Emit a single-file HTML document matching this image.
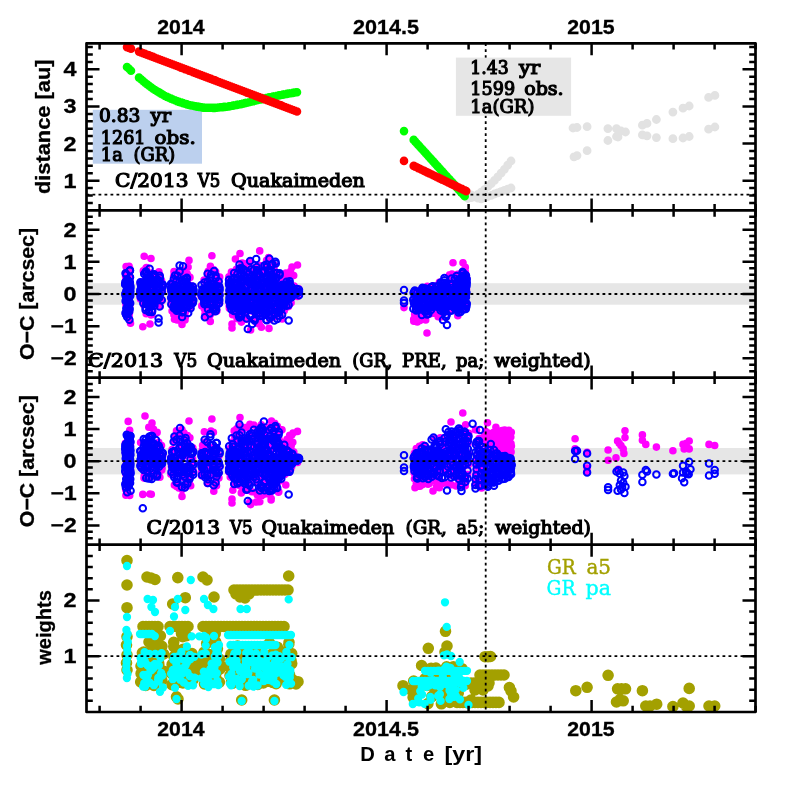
<!DOCTYPE html>
<html><head><meta charset="utf-8"><title>C/2013 V5 Quakaimeden</title>
<style>html,body{margin:0;padding:0;background:#fff}svg{display:block}</style></head>
<body>
<svg width="797" height="797" viewBox="0 0 797 797">
<rect x="0" y="0" width="797" height="797" fill="#fff"/>
<rect x="86.5" y="283.2" width="669.0" height="21.5" fill="#e6e6e6"/>
<rect x="86.5" y="448.0" width="669.0" height="26.4" fill="#e6e6e6"/>
<path d="M468 198.5h0M468 193h0M471.3 197.7h0M471.3 195h0M474.6 196.2h0M474.6 196.8h0M477.9 194.3h0M477.9 198.2h0M481.2 192.1h0M481.2 198.8h0M484.5 189.6h0M484.5 197.7h0M487.8 186.7h0M487.8 196.5h0M491.2 183.7h0M491.2 195.3h0M494.5 180.4h0M494.5 194h0M497.8 176.9h0M497.8 192.8h0M501.1 173.2h0M501.1 191.6h0M504.4 169.3h0M504.4 190.4h0M507.7 165.2h0M507.7 189.2h0M511 161h0M511 188h0M573 128h0M577 127.5h0M587.1 126.7h0M607.9 128.6h0M616.5 128.6h0M621 131h0M625.5 132h0M618 137h0M642.4 125.2h0M647 123.4h0M656.4 119.5h0M672.9 112.1h0M683 108.2h0M689.2 106h0M708.6 97.4h0M714.9 95.4h0M574 156.8h0M577 155.6h0M587.1 150.7h0M607.9 140.5h0M616.5 136.5h0M642.4 134.9h0M647 135.8h0M656.4 137.6h0M672.9 138.7h0M683 138h0M689.2 136.5h0M708.6 129.2h0M714.9 127h0" stroke="#e2e2e2" stroke-width="8.8" stroke-linecap="round" fill="none"/>
<path d="M86.5 194.7H755.5" stroke="#000" stroke-width="1.8" stroke-dasharray="2.8 3.2" fill="none"/>
<path d="M485.7 43.3V210.4" stroke="#000" stroke-width="1.8" stroke-dasharray="2.8 3.2" fill="none"/>
<rect x="455.9" y="57.6" width="115.2" height="58.2" fill="#e6e6e6"/>
<rect x="92.8" y="109.8" width="109.2" height="53.9" fill="#bcd0ee"/>
<path d="M127 67h0M129 68.8h0M131 70.7h0M139 77.6h0M141 79.3h0M143 81h0M145 82.7h0M147 84.3h0M149 85.8h0M151 87.3h0M153 88.7h0M155 90h0M157 91.2h0M159 92.4h0M161 93.6h0M163 94.8h0M165 96h0M167 96.9h0M169 97.7h0M171 98.6h0M173 99.5h0M175 100.3h0M177 101.2h0M179 101.9h0M181 102.5h0M183 103.1h0M185 103.8h0M187 104.4h0M189 105h0M191 105.5h0M193 105.8h0M195 106.2h0M197 106.6h0M199 106.9h0M201 107.3h0M203 107.6h0M205 107.7h0M207 107.7h0M209 107.8h0M211 107.8h0M213 107.9h0M215 107.9h0M217 107.7h0M219 107.5h0M221 107.3h0M223 107.1h0M225 106.9h0M227 106.7h0M229 106.4h0M231 106h0M233 105.6h0M235 105.3h0M237 104.9h0M239 104.5h0M241 104.1h0M243 103.6h0M245 103.1h0M247 102.7h0M249 102.2h0M251 101.7h0M253 101.3h0M255 100.8h0M257 100.3h0M259 99.8h0M261 99.4h0M263 98.9h0M265 98.4h0M267 97.9h0M269 97.4h0M271 97h0M273 96.6h0M275 96.2h0M277 95.8h0M279 95.4h0M281 95h0M283 94.6h0M285 94.2h0M287 93.9h0M289 93.5h0M291 93.2h0M293 92.9h0M295 92.5h0M297 92.2h0M404 131.1h0M413.7 139.9h0M415.2 141.6h0M416.7 143.2h0M418.2 144.9h0M419.7 146.5h0M421.2 148.2h0M422.7 149.8h0M424.2 151.5h0M425.7 153.1h0M427.2 154.8h0M428.7 156.5h0M430.2 158.1h0M431.7 159.8h0M433.2 161.4h0M434.7 163.1h0M436.2 164.7h0M437.7 166.4h0M439.2 168h0M440.7 169.7h0M442.2 171.3h0M443.7 173h0M445.2 174.7h0M446.7 176.3h0M448.2 178h0M449.7 179.6h0M451.2 181.3h0M452.7 182.9h0M454.2 184.6h0M455.7 186.2h0M457.2 187.9h0M458.7 189.6h0M460.2 191.2h0M461.7 192.9h0M463.2 194.5h0M464.7 196.2h0" stroke="#00ff00" stroke-width="8.6" stroke-linecap="round" fill="none"/>
<path d="M127 47.1h0M129 47.9h0M131 48.6h0M139 51.6h0M141 52.4h0M143 53.2h0M145 53.9h0M147 54.7h0M149 55.4h0M151 56.2h0M153 56.9h0M155 57.7h0M157 58.5h0M159 59.2h0M161 60h0M163 60.7h0M165 61.5h0M167 62.3h0M169 63h0M171 63.8h0M173 64.5h0M175 65.3h0M177 66h0M179 66.8h0M181 67.6h0M183 68.3h0M185 69.1h0M187 69.8h0M189 70.6h0M191 71.3h0M193 72.1h0M195 72.9h0M197 73.6h0M199 74.4h0M201 75.1h0M203 75.9h0M205 76.6h0M207 77.4h0M209 78.2h0M211 78.9h0M213 79.7h0M215 80.4h0M217 81.2h0M219 82h0M221 82.7h0M223 83.5h0M225 84.2h0M227 85h0M229 85.7h0M231 86.5h0M233 87.3h0M235 88h0M237 88.8h0M239 89.5h0M241 90.3h0M243 91h0M245 91.8h0M247 92.6h0M249 93.3h0M251 94.1h0M253 94.8h0M255 95.6h0M257 96.3h0M259 97.1h0M261 97.9h0M263 98.6h0M265 99.4h0M267 100.1h0M269 100.9h0M271 101.7h0M273 102.4h0M275 103.2h0M277 103.9h0M279 104.7h0M281 105.4h0M283 106.2h0M285 107h0M287 107.7h0M289 108.5h0M291 109.2h0M293 110h0M295 110.7h0M297 111.5h0M404 160.9h0M413.7 165.9h0M415.2 166.6h0M416.7 167.3h0M418.2 168.1h0M419.7 168.8h0M421.2 169.5h0M422.7 170.2h0M424.2 170.9h0M425.7 171.7h0M427.2 172.4h0M428.7 173.1h0M430.2 173.8h0M431.7 174.5h0M433.2 175.3h0M434.7 176h0M436.2 176.7h0M437.7 177.4h0M439.2 178.1h0M440.7 178.9h0M442.2 179.6h0M443.7 180.3h0M445.2 181h0M446.7 181.7h0M448.2 182.5h0M449.7 183.2h0M451.2 183.9h0M452.7 184.6h0M454.2 185.3h0M455.7 186.1h0M457.2 186.8h0M458.7 187.5h0M460.2 188.2h0M461.7 188.9h0M463.2 189.7h0M464.7 190.4h0M466.2 191.1h0" stroke="#ff0000" stroke-width="8.6" stroke-linecap="round" fill="none"/>
<path d="M126.7 295.8h0M126.1 266.5h0M126.7 298.2h0M126 299.3h0M125.9 304.3h0M126 303.3h0M125.7 313.8h0M125.9 277.7h0M126.5 296.3h0M126.4 280h0M126.7 271.8h0M125.6 276.4h0M126.3 284.6h0M128.6 273.4h0M128.5 297.1h0M128.5 307.5h0M127.5 269.7h0M127.1 296.7h0M127.8 292.8h0M128 280h0M127.4 302.6h0M127.7 269.2h0M128.4 301.7h0M127.5 307.2h0M127.9 302.2h0M127.7 274.2h0M129.6 271.7h0M129.5 312.5h0M129.1 266.3h0M129.6 306h0M130.4 277.6h0M129.2 278.5h0M129.8 268.5h0M129.6 306.1h0M129.2 314h0M129.1 267.5h0M129.1 316.6h0M129.3 293.3h0M130.5 323.2h0M140.2 282.8h0M141.4 281.7h0M140.6 298.5h0M141.4 290.8h0M141.3 296h0M140.4 293.5h0M140.8 296.9h0M140.2 296.9h0M140.9 295.6h0M140.5 299.1h0M143.7 304.7h0M143 293h0M143.3 270.8h0M143.8 296.3h0M144.3 286.8h0M143 296.4h0M143.2 286.9h0M146 302.1h0M146.4 275.7h0M145.6 290.1h0M147 291h0M146.5 267.6h0M146.2 270.7h0M145.5 294.3h0M146.2 313.7h0M146 268.1h0M148.1 294.4h0M148.9 297.2h0M148.2 304.2h0M148.9 301.8h0M148.3 295.1h0M148.5 304.3h0M149.2 294.5h0M149.5 275.4h0M149.5 293.2h0M151.7 281.6h0M151.1 301.9h0M151.7 285.1h0M151.9 304h0M151.1 314.9h0M151.8 314.7h0M152.2 294h0M151.1 273.1h0M154.6 304.5h0M154.6 274.8h0M154.5 296.7h0M154.4 302.2h0M153.4 306h0M153.6 274.3h0M153.9 297h0M153.4 283.9h0M156.3 289.9h0M156.9 290.3h0M157.2 288.7h0M156.5 289.1h0M159.7 293.6h0M159.8 275.3h0M159.5 274.3h0M158.9 271.9h0M159.2 285.6h0M160.1 298.2h0M160.2 306.2h0M161.6 280.7h0M161.9 300.6h0M161.6 288.8h0M162.5 291.3h0M171.3 301.1h0M172 295.4h0M171.3 304.7h0M172.1 310.9h0M171.4 291.1h0M172.1 288.9h0M172.2 285.5h0M171.8 300.3h0M171.8 295.6h0M172.2 297.2h0M172.1 302.1h0M174.2 287.7h0M174.9 299.5h0M173.9 314.8h0M173.6 276.5h0M174 275.1h0M175.1 280.6h0M174.4 288.4h0M174 271.6h0M174.7 285.3h0M173.5 294.6h0M174.5 319.3h0M177.6 301.3h0M177.1 319.9h0M177.2 316.9h0M176.6 286.3h0M177.4 309.2h0M177.5 280h0M176.4 293.9h0M176.8 274.8h0M177.2 300.7h0M176.8 290.8h0M179.8 297.1h0M179.4 285.3h0M180 284.5h0M179.3 319.2h0M180.1 273.1h0M179.2 306.3h0M180 320h0M182.5 276.2h0M181.8 293.2h0M181.6 298.1h0M182.9 282.2h0M182.7 296.2h0M182.4 307.9h0M181.5 301.9h0M185.4 317.1h0M184.4 313.4h0M184.1 300.7h0M185.4 311.8h0M185 315.9h0M185.5 270.3h0M185 287.8h0M184.1 286.3h0M185 319.9h0M187.7 290.2h0M187.2 273.7h0M188.1 267h0M186.9 292.3h0M187.8 275.3h0M187.7 283.4h0M187.6 275.1h0M190.8 292.3h0M190 277.4h0M190.1 293.6h0M190.6 299.1h0M189.3 298.6h0M189.9 300.2h0M189.9 304h0M190 307.1h0M192.1 286h0M193.1 290.9h0M192.6 287.3h0M192.3 295h0M192.9 299.4h0M192.1 297h0M193.1 291.2h0M202.7 293h0M201.7 295.5h0M201.9 292.7h0M201.8 305.9h0M201.2 296.3h0M204.4 308.9h0M204.9 314.2h0M205.6 316h0M204.9 286.8h0M204.8 293.3h0M204.1 280h0M205.1 315.8h0M207.3 291.5h0M208.2 271.3h0M208.4 281.2h0M207.5 309.8h0M207.4 282.9h0M207.6 273h0M208.4 304.8h0M210.7 297.7h0M210.8 289.4h0M210.4 266.3h0M210.1 315.1h0M210.2 287.5h0M210 287.6h0M210.3 321.4h0M213.8 306.4h0M214.1 286h0M213.5 280.1h0M213.7 304.1h0M212.7 279.7h0M213.8 311.7h0M213.8 269.8h0M213 299h0M215.9 309.4h0M215.6 271.7h0M215.9 281.2h0M216.6 301.8h0M216.8 310.9h0M216.3 277.4h0M215.8 302.1h0M219.7 277.1h0M219 296.7h0M218.7 295.2h0M219.5 286.9h0M219.6 302.7h0M219.7 293.3h0M219 296h0M219.1 289.9h0M218.6 280.8h0M229.7 303.2h0M230 299.5h0M229.5 284.8h0M229.2 306.1h0M230 290.8h0M229.7 299.3h0M229.8 300.3h0M229.6 292h0M229.4 308.3h0M229.4 293.6h0M229 279.7h0M230.3 299.3h0M228.9 276.8h0M232 309.3h0M231.4 272.1h0M232.3 308.8h0M232.9 286.2h0M232.3 303.1h0M232.6 314.7h0M232.7 303h0M232.6 275.6h0M234 272h0M234.5 276.8h0M234.2 289.1h0M234.5 296.9h0M234 298.1h0M234.1 282.2h0M234.9 295h0M234.1 289h0M234.7 297.4h0M234.8 307.5h0M233.9 305.8h0M237.4 280.9h0M237.1 318.6h0M236.4 269.2h0M236.8 275.9h0M237.4 272.4h0M237 280.8h0M236.3 313.4h0M237.5 296.8h0M237.1 304.4h0M237.7 311.1h0M237.2 283.6h0M239.6 297.2h0M239.6 301.9h0M239.5 270h0M239.4 296.1h0M239 294.9h0M238.9 314.8h0M239.4 295h0M241.5 287.5h0M242.8 300.9h0M242.3 263h0M242.3 284h0M242.2 311.8h0M241.4 322.1h0M242.3 267.1h0M241.4 270.9h0M242.3 278.8h0M241.9 263.5h0M245 295.1h0M245 308h0M244 299.8h0M244.9 312.1h0M243.8 263.6h0M244.6 297.8h0M244.2 306.7h0M244.6 291.5h0M244.3 269.3h0M245.2 316.6h0M244.1 303.5h0M244.5 276.7h0M244.9 283.2h0M246.8 281.3h0M247.5 270h0M246.3 319.2h0M246.7 275.9h0M247.5 303.6h0M247.7 294.8h0M247.2 302.2h0M249.3 280.1h0M249.5 277.9h0M249.1 267.3h0M250.1 309.6h0M249.1 306.3h0M249.1 310.5h0M249.8 261.9h0M251.9 300.4h0M251.8 302.3h0M252.2 286.2h0M252.7 297.4h0M252 311.1h0M251.7 288.9h0M251.8 302.4h0M255.1 298.6h0M254.4 292.2h0M254.6 284h0M253.7 300.4h0M254.9 269.7h0M254.5 306h0M254.1 303.3h0M254.9 269.2h0M254.7 289.3h0M255.1 282.3h0M255.1 279.6h0M254.6 299.8h0M255.2 321.4h0M253.7 296.1h0M257.3 309.8h0M256.6 308h0M257.5 268.7h0M257 278.5h0M257 267.5h0M256.6 290.5h0M256.9 294.8h0M257.5 323.3h0M257.5 312.7h0M256.9 274.8h0M259.7 250.9h0M259.6 300.4h0M258.8 305.4h0M259.3 324.3h0M259.8 265.6h0M258.6 320.4h0M260 274.7h0M258.7 283.4h0M259.6 292.8h0M261.9 301.5h0M261.4 327.3h0M262.6 288.7h0M262.6 308.6h0M262.2 310.1h0M262 312.2h0M262.1 280.5h0M264.9 304.3h0M264.1 305.5h0M264.9 268.4h0M264.5 301.9h0M264 292.7h0M264 271.5h0M264.5 308.1h0M267.4 283.4h0M266.8 261h0M267.3 314.3h0M266.2 282.1h0M266.1 301h0M266.3 293h0M266.2 304.9h0M267.2 284.4h0M266.6 260.3h0M266.6 304.3h0M266.8 266.7h0M267 285.2h0M270 310.9h0M269.2 311.1h0M270 279.6h0M269 315h0M269.4 297.8h0M268.9 311.9h0M268.8 273.1h0M269 328.4h0M268.8 266.1h0M268.9 307.6h0M268.6 257.6h0M269.1 287.8h0M269 301.5h0M269.9 319.6h0M272.2 266.5h0M272.1 313.7h0M272.3 277.3h0M271.9 270.9h0M271.7 304.6h0M272.1 290h0M272.4 278.9h0M271.7 275.4h0M272.5 274.9h0M270.9 270.2h0M272.5 280.1h0M272.5 293.8h0M274.6 317.1h0M273.9 311.8h0M273.5 291.6h0M274.5 265h0M274.3 290.7h0M274.1 269.2h0M274.6 282.8h0M276 294h0M277.1 276.7h0M276 283.5h0M276.6 290.9h0M277 306.9h0M275.9 275.3h0M279.4 303.9h0M279.3 274.2h0M279.5 287.8h0M279.3 283.9h0M279 299.2h0M279.3 287.1h0M278.5 274.7h0M278.7 286.7h0M278.7 299.9h0M278.6 291.5h0M282 298.5h0M282.1 303.1h0M281.6 298.3h0M281.8 291.5h0M282.2 319h0M281.8 309.3h0M281.2 301.3h0M280.9 284.9h0M281.9 279.8h0M281 301.6h0M283.8 300.9h0M283.6 300.8h0M283.4 284.9h0M283.3 275.5h0M284.2 310.8h0M284.8 293h0M285.8 281.9h0M286.4 304h0M287.1 305.7h0M287.1 294.3h0M287.1 293.8h0M286.2 293.1h0M287.2 284.8h0M286.2 275.9h0M286 307.1h0M288.4 296.3h0M288.5 297.8h0M288.3 301.4h0M288.8 300.6h0M289.4 297h0M289.2 297.9h0M288.7 298.4h0M288.9 285h0M289.1 289.8h0M289.2 279.3h0M288.5 306.6h0M289.1 290.6h0M288.5 294.2h0M289.5 304.2h0M291.3 287.2h0M291.9 291.9h0M291.1 302.8h0M291.2 297.6h0M291 296.8h0M290.8 298.8h0M291 292.2h0M293.5 289.3h0M296 291h0M298 292.1h0M413.8 321.3h0M414.7 314.2h0M414.4 294h0M414.5 295.7h0M413.7 319.4h0M416.4 317.8h0M417.3 321.9h0M416.4 294.5h0M416 307.9h0M417.3 303.7h0M417.3 296.9h0M417.1 305.5h0M416 291.4h0M419.6 290.6h0M418.9 309.3h0M420 305.2h0M418.8 319.2h0M419.7 299.8h0M418.8 311h0M419.9 301h0M419.4 299.3h0M420 320.6h0M422.3 318h0M422 311.7h0M421.6 290.5h0M421.9 318.6h0M422 306.9h0M422 309.6h0M422.7 290.5h0M422.4 302.5h0M421.7 309.7h0M424.4 314h0M425.7 306.3h0M424.9 287.7h0M425.1 311.1h0M425.7 291.4h0M425.7 320h0M428.3 294.3h0M428 305.3h0M428.1 294.1h0M427.6 288.9h0M427.6 301.1h0M427.1 292.1h0M427.9 294.7h0M427.3 286.4h0M428.5 294.4h0M429.8 299h0M430.2 289.9h0M429.7 296h0M431.1 306.4h0M431 313.6h0M430.1 292.3h0M429.7 296.2h0M433.3 313.2h0M433.8 289.5h0M433.8 305.8h0M432.9 287.3h0M433.2 285.7h0M432.7 301.1h0M435.7 303.7h0M436 292.7h0M436.1 288.9h0M435.7 294.4h0M435.1 287.6h0M438.2 316.8h0M438.5 310h0M439.4 282.2h0M439.2 304.4h0M437.9 301h0M438.8 310.6h0M440.8 293.3h0M440.9 317h0M441.8 306.2h0M440.7 311.6h0M441.4 284.4h0M441.3 306.8h0M441.4 313.8h0M440.9 293.6h0M444.2 283.3h0M444.8 299.3h0M444.7 290.7h0M443.4 309h0M444.6 300.4h0M443.7 285.6h0M444.4 305.3h0M447.1 304h0M446.7 297.7h0M446.3 301.3h0M447.5 287.8h0M447.4 311.7h0M447.1 285.7h0M446.6 296.2h0M449.6 274.9h0M450.3 283.9h0M449.6 303.4h0M449.9 289.7h0M448.8 291.5h0M450.1 289.2h0M451.8 298.5h0M451.7 288.9h0M452.3 276.5h0M452.4 285h0M451.7 280.3h0M451.9 274h0M453 309.5h0M452.7 293.6h0M452.7 304.4h0M455.1 288.9h0M454.6 290.9h0M455.7 292.4h0M455.2 278.2h0M454.4 283.7h0M454.5 307.6h0M454.6 301.5h0M457.4 292.9h0M457.2 279.1h0M457.3 290.8h0M457.9 293.2h0M457.8 315.7h0M458.2 297.1h0M457.9 292h0M457.4 293.2h0M457.6 306.2h0M458.5 297.5h0M461 277.9h0M460.4 285.3h0M460.1 304.8h0M460 299.1h0M460 281.9h0M460.8 302.2h0M460.8 286.2h0M460.2 293.6h0M463.7 299.8h0M463.3 297.5h0M463.7 297.2h0M462.7 273h0M464 308.9h0M463.4 277.7h0M466.7 278.6h0M465.3 267.4h0M466.1 282.8h0M466.4 283.3h0M466.5 289.5h0M465.8 285.4h0M465.6 293.5h0M465.5 305.6h0M465.9 297h0M465.7 307.8h0M457.6 302h0M457.1 282.8h0M457.7 274.3h0M457.5 280.6h0M456.2 279.9h0M457.4 290.6h0M460.5 286.2h0M460.7 275.6h0M460.7 283.8h0M460.3 279h0M462.9 273.8h0M462.9 271h0M463 290.1h0M463.5 292.7h0M463.7 290h0M462.9 299.2h0M466.1 285.9h0M466.2 286.5h0M465.3 271.8h0M465.7 290.9h0M466.3 283.7h0M465.5 273.4h0M144.2 256.2h0M151 258.5h0M189 260.4h0M211.9 255.7h0M240 253.5h0M235.4 259h0M297.5 265h0M292 267h0M142.8 326.7h0M150 324h0M182 324.5h0M232 324h0M232 328h0M250.6 330h0M404 307.6h0M427 333h0M453 262.8h0M463 262.8h0M292.3 290.1h0M288.4 283.4h0M297.4 296.5h0M285.9 273h0M284.8 281h0M284.4 281.5h0M293.7 275.5h0M294.1 286.1h0M284.4 285h0M287.9 280.1h0M288.3 289.6h0M290.6 271.3h0M292.2 292.5h0M288.6 273.5h0M289.8 297.8h0M298.6 288.9h0" stroke="#ff00ff" stroke-width="7.6" stroke-linecap="round" fill="none"/>
<g fill="none" stroke="#0000ff" stroke-width="2.0">
<circle cx="126.4" cy="283.2" r="3.25"/><circle cx="126.8" cy="293.9" r="3.25"/><circle cx="125.3" cy="294" r="3.25"/><circle cx="126.3" cy="300.9" r="3.25"/><circle cx="125.7" cy="295.9" r="3.25"/><circle cx="125.5" cy="273.2" r="3.25"/><circle cx="125.2" cy="284.4" r="3.25"/><circle cx="125.4" cy="281.9" r="3.25"/><circle cx="126.3" cy="308.2" r="3.25"/><circle cx="126" cy="295.1" r="3.25"/><circle cx="125.8" cy="292.9" r="3.25"/><circle cx="126.4" cy="290.5" r="3.25"/><circle cx="125.6" cy="301.1" r="3.25"/><circle cx="126.3" cy="296" r="3.25"/><circle cx="126.4" cy="274.4" r="3.25"/><circle cx="125.5" cy="312.7" r="3.25"/><circle cx="126.2" cy="298.1" r="3.25"/><circle cx="125.2" cy="283.9" r="3.25"/><circle cx="126" cy="313.8" r="3.25"/><circle cx="127.7" cy="287.4" r="3.25"/><circle cx="127.8" cy="285.3" r="3.25"/><circle cx="128.3" cy="297.8" r="3.25"/><circle cx="127.8" cy="292" r="3.25"/><circle cx="128.1" cy="287.8" r="3.25"/><circle cx="128.6" cy="307" r="3.25"/><circle cx="128.2" cy="307.3" r="3.25"/><circle cx="128" cy="280.4" r="3.25"/><circle cx="128.5" cy="292.4" r="3.25"/><circle cx="128.4" cy="302.5" r="3.25"/><circle cx="128.5" cy="299.8" r="3.25"/><circle cx="127.4" cy="283.4" r="3.25"/><circle cx="128.5" cy="286" r="3.25"/><circle cx="128.4" cy="310.2" r="3.25"/><circle cx="127.2" cy="279.2" r="3.25"/><circle cx="127.2" cy="300.7" r="3.25"/><circle cx="127.2" cy="317" r="3.25"/><circle cx="127.9" cy="305.7" r="3.25"/><circle cx="127.6" cy="296.3" r="3.25"/><circle cx="130.2" cy="287.9" r="3.25"/><circle cx="130" cy="285.7" r="3.25"/><circle cx="130.1" cy="295" r="3.25"/><circle cx="129.9" cy="270.4" r="3.25"/><circle cx="130.3" cy="287.9" r="3.25"/><circle cx="130.2" cy="303.3" r="3.25"/><circle cx="129.4" cy="319.7" r="3.25"/><circle cx="129.2" cy="311.5" r="3.25"/><circle cx="130.3" cy="285.7" r="3.25"/><circle cx="129.2" cy="301.5" r="3.25"/><circle cx="129.9" cy="293.4" r="3.25"/><circle cx="130" cy="277.3" r="3.25"/><circle cx="129.7" cy="308.9" r="3.25"/><circle cx="130.2" cy="296" r="3.25"/><circle cx="130.4" cy="291.2" r="3.25"/><circle cx="129.5" cy="281.8" r="3.25"/><circle cx="129.9" cy="282.5" r="3.25"/><circle cx="130" cy="270.6" r="3.25"/><circle cx="129.2" cy="282.8" r="3.25"/><circle cx="140.3" cy="290" r="3.25"/><circle cx="141.6" cy="297.5" r="3.25"/><circle cx="141.5" cy="283.6" r="3.25"/><circle cx="141.6" cy="292.1" r="3.25"/><circle cx="141" cy="284.2" r="3.25"/><circle cx="140.6" cy="293.4" r="3.25"/><circle cx="140.8" cy="291.3" r="3.25"/><circle cx="140.4" cy="282.2" r="3.25"/><circle cx="140.7" cy="297.1" r="3.25"/><circle cx="141" cy="285" r="3.25"/><circle cx="140.3" cy="292.9" r="3.25"/><circle cx="141.7" cy="287.7" r="3.25"/><circle cx="141.4" cy="284.1" r="3.25"/><circle cx="141.7" cy="289.9" r="3.25"/><circle cx="140.7" cy="295.2" r="3.25"/><circle cx="144.4" cy="283.4" r="3.25"/><circle cx="144.2" cy="273.9" r="3.25"/><circle cx="143.8" cy="283.4" r="3.25"/><circle cx="143.5" cy="283.8" r="3.25"/><circle cx="143.3" cy="303.3" r="3.25"/><circle cx="143.5" cy="288.8" r="3.25"/><circle cx="144.1" cy="295.9" r="3.25"/><circle cx="143.4" cy="293.8" r="3.25"/><circle cx="143.4" cy="286.8" r="3.25"/><circle cx="144.1" cy="291.2" r="3.25"/><circle cx="146.8" cy="302.5" r="3.25"/><circle cx="146.1" cy="303.9" r="3.25"/><circle cx="146.1" cy="297" r="3.25"/><circle cx="145.8" cy="297.6" r="3.25"/><circle cx="146.6" cy="289.7" r="3.25"/><circle cx="146" cy="271.4" r="3.25"/><circle cx="146.7" cy="275.7" r="3.25"/><circle cx="145.6" cy="296.1" r="3.25"/><circle cx="145.6" cy="307.8" r="3.25"/><circle cx="145.8" cy="280.5" r="3.25"/><circle cx="145.6" cy="309.9" r="3.25"/><circle cx="145.6" cy="272.4" r="3.25"/><circle cx="146.9" cy="300.6" r="3.25"/><circle cx="147" cy="281.1" r="3.25"/><circle cx="149" cy="300" r="3.25"/><circle cx="149.5" cy="307.2" r="3.25"/><circle cx="149" cy="311.8" r="3.25"/><circle cx="149.6" cy="268.8" r="3.25"/><circle cx="149.1" cy="284" r="3.25"/><circle cx="148.8" cy="297.9" r="3.25"/><circle cx="148.9" cy="310.9" r="3.25"/><circle cx="148.7" cy="298.4" r="3.25"/><circle cx="148.5" cy="281.1" r="3.25"/><circle cx="149.5" cy="304.5" r="3.25"/><circle cx="149.5" cy="278" r="3.25"/><circle cx="148.2" cy="294" r="3.25"/><circle cx="148.7" cy="296.9" r="3.25"/><circle cx="148.8" cy="300.5" r="3.25"/><circle cx="151.1" cy="283" r="3.25"/><circle cx="151.4" cy="304.2" r="3.25"/><circle cx="151.2" cy="286.4" r="3.25"/><circle cx="152.2" cy="310.4" r="3.25"/><circle cx="150.8" cy="278" r="3.25"/><circle cx="151.1" cy="290.1" r="3.25"/><circle cx="152" cy="312" r="3.25"/><circle cx="151.5" cy="299.9" r="3.25"/><circle cx="151.9" cy="289.8" r="3.25"/><circle cx="152" cy="299.1" r="3.25"/><circle cx="150.7" cy="289.8" r="3.25"/><circle cx="151.7" cy="293.2" r="3.25"/><circle cx="153.7" cy="275.6" r="3.25"/><circle cx="153.3" cy="303.3" r="3.25"/><circle cx="154.6" cy="294.6" r="3.25"/><circle cx="154.2" cy="274.3" r="3.25"/><circle cx="154.4" cy="305.7" r="3.25"/><circle cx="153.4" cy="288.2" r="3.25"/><circle cx="153.6" cy="277.1" r="3.25"/><circle cx="154.7" cy="298" r="3.25"/><circle cx="154" cy="294.3" r="3.25"/><circle cx="154.1" cy="301" r="3.25"/><circle cx="153.9" cy="285.2" r="3.25"/><circle cx="154" cy="303.4" r="3.25"/><circle cx="157.5" cy="298.8" r="3.25"/><circle cx="157.3" cy="297.9" r="3.25"/><circle cx="157.4" cy="281.5" r="3.25"/><circle cx="156.1" cy="284.5" r="3.25"/><circle cx="156.3" cy="288.8" r="3.25"/><circle cx="156.9" cy="294.3" r="3.25"/><circle cx="157.5" cy="279.4" r="3.25"/><circle cx="159" cy="281.6" r="3.25"/><circle cx="159.6" cy="287.8" r="3.25"/><circle cx="158.6" cy="288.3" r="3.25"/><circle cx="159.6" cy="306.5" r="3.25"/><circle cx="159.5" cy="295.1" r="3.25"/><circle cx="159.5" cy="281.6" r="3.25"/><circle cx="160" cy="277.8" r="3.25"/><circle cx="159.1" cy="297.9" r="3.25"/><circle cx="159.7" cy="275.8" r="3.25"/><circle cx="158.8" cy="293" r="3.25"/><circle cx="159.3" cy="286.5" r="3.25"/><circle cx="161.6" cy="291.9" r="3.25"/><circle cx="162.7" cy="284.5" r="3.25"/><circle cx="162.4" cy="287.2" r="3.25"/><circle cx="161.8" cy="300" r="3.25"/><circle cx="162.8" cy="284.9" r="3.25"/><circle cx="162.8" cy="285.4" r="3.25"/><circle cx="161.5" cy="291.4" r="3.25"/><circle cx="171.5" cy="290.2" r="3.25"/><circle cx="172.2" cy="291.1" r="3.25"/><circle cx="171" cy="288.4" r="3.25"/><circle cx="171.3" cy="304.2" r="3.25"/><circle cx="171.2" cy="287.4" r="3.25"/><circle cx="171.6" cy="298.1" r="3.25"/><circle cx="171.4" cy="297.6" r="3.25"/><circle cx="171.6" cy="291.2" r="3.25"/><circle cx="172.4" cy="296.3" r="3.25"/><circle cx="171.8" cy="291.6" r="3.25"/><circle cx="172.5" cy="294.4" r="3.25"/><circle cx="171.1" cy="283.8" r="3.25"/><circle cx="171.8" cy="298.1" r="3.25"/><circle cx="171.9" cy="297.1" r="3.25"/><circle cx="172.2" cy="284.2" r="3.25"/><circle cx="171.6" cy="288" r="3.25"/><circle cx="174.2" cy="293.6" r="3.25"/><circle cx="174" cy="287.8" r="3.25"/><circle cx="174.8" cy="306.9" r="3.25"/><circle cx="174.3" cy="296.5" r="3.25"/><circle cx="173.9" cy="305.5" r="3.25"/><circle cx="173.8" cy="286.4" r="3.25"/><circle cx="174.7" cy="306.4" r="3.25"/><circle cx="174.5" cy="291.7" r="3.25"/><circle cx="173.9" cy="308.3" r="3.25"/><circle cx="174.3" cy="288" r="3.25"/><circle cx="174.4" cy="297.2" r="3.25"/><circle cx="175.1" cy="275.6" r="3.25"/><circle cx="173.8" cy="279" r="3.25"/><circle cx="173.8" cy="292.6" r="3.25"/><circle cx="174.9" cy="300.6" r="3.25"/><circle cx="174" cy="296" r="3.25"/><circle cx="176.6" cy="310.7" r="3.25"/><circle cx="177" cy="288.9" r="3.25"/><circle cx="176.6" cy="304.8" r="3.25"/><circle cx="177.4" cy="293.6" r="3.25"/><circle cx="176.4" cy="304.9" r="3.25"/><circle cx="177" cy="298.1" r="3.25"/><circle cx="176.2" cy="285.5" r="3.25"/><circle cx="177.1" cy="289.4" r="3.25"/><circle cx="177.7" cy="302.2" r="3.25"/><circle cx="177.5" cy="310.3" r="3.25"/><circle cx="176.4" cy="280.9" r="3.25"/><circle cx="177.4" cy="275.7" r="3.25"/><circle cx="176.4" cy="299.8" r="3.25"/><circle cx="177" cy="309.5" r="3.25"/><circle cx="177.7" cy="294" r="3.25"/><circle cx="180.3" cy="302.9" r="3.25"/><circle cx="180.2" cy="291.8" r="3.25"/><circle cx="179.8" cy="290" r="3.25"/><circle cx="179.7" cy="301.8" r="3.25"/><circle cx="180.3" cy="297.1" r="3.25"/><circle cx="179.6" cy="271.6" r="3.25"/><circle cx="178.8" cy="294.6" r="3.25"/><circle cx="179.7" cy="308.8" r="3.25"/><circle cx="178.9" cy="309" r="3.25"/><circle cx="179" cy="300.1" r="3.25"/><circle cx="179" cy="304.1" r="3.25"/><circle cx="181.9" cy="307.9" r="3.25"/><circle cx="183" cy="266.3" r="3.25"/><circle cx="181.6" cy="297.9" r="3.25"/><circle cx="181.5" cy="302.4" r="3.25"/><circle cx="182.8" cy="283.2" r="3.25"/><circle cx="181.8" cy="280.8" r="3.25"/><circle cx="183" cy="283.6" r="3.25"/><circle cx="182.1" cy="317" r="3.25"/><circle cx="182.1" cy="312.3" r="3.25"/><circle cx="182.7" cy="311.9" r="3.25"/><circle cx="185.1" cy="293.6" r="3.25"/><circle cx="185.1" cy="300.4" r="3.25"/><circle cx="185.6" cy="305" r="3.25"/><circle cx="185.6" cy="296.8" r="3.25"/><circle cx="185.1" cy="279.7" r="3.25"/><circle cx="184.5" cy="290.3" r="3.25"/><circle cx="185" cy="285.9" r="3.25"/><circle cx="185.3" cy="300.1" r="3.25"/><circle cx="185.2" cy="281.9" r="3.25"/><circle cx="184.4" cy="292.2" r="3.25"/><circle cx="185.3" cy="298.2" r="3.25"/><circle cx="185.5" cy="302.3" r="3.25"/><circle cx="184.3" cy="279.3" r="3.25"/><circle cx="188.2" cy="298.7" r="3.25"/><circle cx="187" cy="283.7" r="3.25"/><circle cx="187.5" cy="288.8" r="3.25"/><circle cx="186.8" cy="278.8" r="3.25"/><circle cx="186.8" cy="307" r="3.25"/><circle cx="187.1" cy="289.4" r="3.25"/><circle cx="186.7" cy="302.4" r="3.25"/><circle cx="188.2" cy="313" r="3.25"/><circle cx="186.9" cy="277.7" r="3.25"/><circle cx="187.1" cy="291" r="3.25"/><circle cx="190.2" cy="289.1" r="3.25"/><circle cx="189.7" cy="297.9" r="3.25"/><circle cx="190.7" cy="291.9" r="3.25"/><circle cx="189.3" cy="301.7" r="3.25"/><circle cx="189.5" cy="300" r="3.25"/><circle cx="189.7" cy="305.5" r="3.25"/><circle cx="189.7" cy="291.5" r="3.25"/><circle cx="189.6" cy="287.4" r="3.25"/><circle cx="189.3" cy="297.8" r="3.25"/><circle cx="189.5" cy="298.9" r="3.25"/><circle cx="189.9" cy="286.6" r="3.25"/><circle cx="190.6" cy="308.2" r="3.25"/><circle cx="193.3" cy="292.8" r="3.25"/><circle cx="193.3" cy="289.9" r="3.25"/><circle cx="192.9" cy="301.9" r="3.25"/><circle cx="192" cy="291.5" r="3.25"/><circle cx="192.9" cy="286.7" r="3.25"/><circle cx="192.6" cy="303.3" r="3.25"/><circle cx="193.3" cy="300.3" r="3.25"/><circle cx="192.6" cy="293.3" r="3.25"/><circle cx="193.4" cy="290.2" r="3.25"/><circle cx="192.6" cy="286.7" r="3.25"/><circle cx="193" cy="292.2" r="3.25"/><circle cx="202.3" cy="291.4" r="3.25"/><circle cx="201.5" cy="285.1" r="3.25"/><circle cx="201.6" cy="293.9" r="3.25"/><circle cx="202.3" cy="297.1" r="3.25"/><circle cx="202.7" cy="294.5" r="3.25"/><circle cx="202.5" cy="289.2" r="3.25"/><circle cx="202.2" cy="295.4" r="3.25"/><circle cx="201.4" cy="294.8" r="3.25"/><circle cx="205.6" cy="300.2" r="3.25"/><circle cx="205.4" cy="291" r="3.25"/><circle cx="204.2" cy="300.7" r="3.25"/><circle cx="204.4" cy="282.5" r="3.25"/><circle cx="204.4" cy="302.8" r="3.25"/><circle cx="205" cy="290.3" r="3.25"/><circle cx="204.9" cy="317.3" r="3.25"/><circle cx="205.6" cy="292.1" r="3.25"/><circle cx="205" cy="297.6" r="3.25"/><circle cx="204.4" cy="304.3" r="3.25"/><circle cx="205.1" cy="288.5" r="3.25"/><circle cx="206.9" cy="291.3" r="3.25"/><circle cx="207.7" cy="281.4" r="3.25"/><circle cx="207.2" cy="293.7" r="3.25"/><circle cx="207" cy="304.1" r="3.25"/><circle cx="207.6" cy="273.7" r="3.25"/><circle cx="207.9" cy="287.4" r="3.25"/><circle cx="208.1" cy="285.1" r="3.25"/><circle cx="207.4" cy="298.8" r="3.25"/><circle cx="208" cy="309.3" r="3.25"/><circle cx="207.8" cy="298.7" r="3.25"/><circle cx="210.3" cy="301.5" r="3.25"/><circle cx="209.7" cy="313.6" r="3.25"/><circle cx="211.2" cy="298.3" r="3.25"/><circle cx="210.6" cy="277.6" r="3.25"/><circle cx="210" cy="288.3" r="3.25"/><circle cx="211" cy="296.2" r="3.25"/><circle cx="210.2" cy="290.4" r="3.25"/><circle cx="211.2" cy="284.6" r="3.25"/><circle cx="210.6" cy="304.8" r="3.25"/><circle cx="210.7" cy="291.2" r="3.25"/><circle cx="211.1" cy="274.5" r="3.25"/><circle cx="213.4" cy="309.7" r="3.25"/><circle cx="214.1" cy="299.4" r="3.25"/><circle cx="213.5" cy="292.1" r="3.25"/><circle cx="213" cy="284.4" r="3.25"/><circle cx="214.1" cy="270.9" r="3.25"/><circle cx="213" cy="297.6" r="3.25"/><circle cx="213.9" cy="287.7" r="3.25"/><circle cx="213" cy="286.5" r="3.25"/><circle cx="213.1" cy="308" r="3.25"/><circle cx="212.6" cy="287.5" r="3.25"/><circle cx="212.7" cy="289.7" r="3.25"/><circle cx="213" cy="298.1" r="3.25"/><circle cx="215.4" cy="294.8" r="3.25"/><circle cx="216.5" cy="304.2" r="3.25"/><circle cx="215.6" cy="275.4" r="3.25"/><circle cx="216" cy="299.1" r="3.25"/><circle cx="216.2" cy="309.6" r="3.25"/><circle cx="216.4" cy="286" r="3.25"/><circle cx="215.7" cy="278.1" r="3.25"/><circle cx="216.3" cy="297.2" r="3.25"/><circle cx="215.5" cy="291.4" r="3.25"/><circle cx="215.5" cy="311.3" r="3.25"/><circle cx="215.5" cy="307.5" r="3.25"/><circle cx="219.5" cy="289.4" r="3.25"/><circle cx="219.6" cy="295.3" r="3.25"/><circle cx="218.8" cy="287.5" r="3.25"/><circle cx="219.3" cy="290.5" r="3.25"/><circle cx="219" cy="303.5" r="3.25"/><circle cx="218.7" cy="294.3" r="3.25"/><circle cx="219.1" cy="287.5" r="3.25"/><circle cx="219.1" cy="286.4" r="3.25"/><circle cx="219.3" cy="299.9" r="3.25"/><circle cx="219.3" cy="287.7" r="3.25"/><circle cx="218.8" cy="297.1" r="3.25"/><circle cx="218.7" cy="281.5" r="3.25"/><circle cx="218.8" cy="299.8" r="3.25"/><circle cx="229" cy="283.3" r="3.25"/><circle cx="229.9" cy="286.5" r="3.25"/><circle cx="229.9" cy="290.3" r="3.25"/><circle cx="229.6" cy="294.4" r="3.25"/><circle cx="230.4" cy="302.9" r="3.25"/><circle cx="229.4" cy="298" r="3.25"/><circle cx="229" cy="279.7" r="3.25"/><circle cx="229.6" cy="290.1" r="3.25"/><circle cx="230.3" cy="305.7" r="3.25"/><circle cx="229.7" cy="290.7" r="3.25"/><circle cx="230.4" cy="293.4" r="3.25"/><circle cx="230.2" cy="301.4" r="3.25"/><circle cx="229.3" cy="301.4" r="3.25"/><circle cx="230.1" cy="292.6" r="3.25"/><circle cx="229.6" cy="301.5" r="3.25"/><circle cx="230.3" cy="292.3" r="3.25"/><circle cx="229.1" cy="284.5" r="3.25"/><circle cx="230.2" cy="293.3" r="3.25"/><circle cx="230" cy="287.8" r="3.25"/><circle cx="231.9" cy="279.7" r="3.25"/><circle cx="231.8" cy="298.1" r="3.25"/><circle cx="231.7" cy="301" r="3.25"/><circle cx="232.9" cy="304" r="3.25"/><circle cx="231.8" cy="292.4" r="3.25"/><circle cx="232.8" cy="305.4" r="3.25"/><circle cx="232.6" cy="297.3" r="3.25"/><circle cx="232.9" cy="305.8" r="3.25"/><circle cx="231.5" cy="309.5" r="3.25"/><circle cx="232.4" cy="294.7" r="3.25"/><circle cx="232.2" cy="286" r="3.25"/><circle cx="233" cy="292.4" r="3.25"/><circle cx="233.9" cy="293.4" r="3.25"/><circle cx="234.5" cy="288.7" r="3.25"/><circle cx="234.1" cy="273" r="3.25"/><circle cx="234.6" cy="301.1" r="3.25"/><circle cx="233.9" cy="311" r="3.25"/><circle cx="235" cy="288.5" r="3.25"/><circle cx="235.4" cy="303.7" r="3.25"/><circle cx="235.3" cy="295.6" r="3.25"/><circle cx="234.5" cy="290.4" r="3.25"/><circle cx="234.1" cy="283.6" r="3.25"/><circle cx="235.1" cy="291.7" r="3.25"/><circle cx="235.3" cy="289.7" r="3.25"/><circle cx="234.6" cy="292.4" r="3.25"/><circle cx="234.7" cy="290" r="3.25"/><circle cx="234" cy="277.9" r="3.25"/><circle cx="235.3" cy="310.6" r="3.25"/><circle cx="237.1" cy="284.2" r="3.25"/><circle cx="236.8" cy="289.5" r="3.25"/><circle cx="236.7" cy="308.1" r="3.25"/><circle cx="237.5" cy="282.9" r="3.25"/><circle cx="236.9" cy="287.3" r="3.25"/><circle cx="237.3" cy="294.8" r="3.25"/><circle cx="237.1" cy="301.1" r="3.25"/><circle cx="236.6" cy="302.4" r="3.25"/><circle cx="237.1" cy="294.8" r="3.25"/><circle cx="237.1" cy="279.6" r="3.25"/><circle cx="237.7" cy="294" r="3.25"/><circle cx="237.6" cy="289" r="3.25"/><circle cx="236.5" cy="306.7" r="3.25"/><circle cx="237.3" cy="289.5" r="3.25"/><circle cx="237.4" cy="273.9" r="3.25"/><circle cx="236.9" cy="289.7" r="3.25"/><circle cx="236.4" cy="304.3" r="3.25"/><circle cx="240.2" cy="302.3" r="3.25"/><circle cx="239.1" cy="305.4" r="3.25"/><circle cx="239.5" cy="317.6" r="3.25"/><circle cx="239.2" cy="304.8" r="3.25"/><circle cx="239" cy="297.3" r="3.25"/><circle cx="240.1" cy="290.9" r="3.25"/><circle cx="239.6" cy="268.5" r="3.25"/><circle cx="239.3" cy="314.8" r="3.25"/><circle cx="239.7" cy="296.7" r="3.25"/><circle cx="240" cy="286.6" r="3.25"/><circle cx="238.9" cy="315.8" r="3.25"/><circle cx="241.6" cy="308.2" r="3.25"/><circle cx="241.4" cy="287.9" r="3.25"/><circle cx="241.3" cy="315.9" r="3.25"/><circle cx="241.5" cy="269.9" r="3.25"/><circle cx="241.9" cy="279.2" r="3.25"/><circle cx="241.7" cy="307" r="3.25"/><circle cx="241.6" cy="314.1" r="3.25"/><circle cx="242.7" cy="298.4" r="3.25"/><circle cx="241.5" cy="301.9" r="3.25"/><circle cx="242.8" cy="289.3" r="3.25"/><circle cx="241.8" cy="268.3" r="3.25"/><circle cx="242.5" cy="282.8" r="3.25"/><circle cx="242" cy="290.1" r="3.25"/><circle cx="241.6" cy="293.8" r="3.25"/><circle cx="241.7" cy="274.8" r="3.25"/><circle cx="244.9" cy="292.7" r="3.25"/><circle cx="243.9" cy="269.8" r="3.25"/><circle cx="244.4" cy="278" r="3.25"/><circle cx="244.6" cy="294.6" r="3.25"/><circle cx="244.4" cy="309.8" r="3.25"/><circle cx="245.1" cy="304.4" r="3.25"/><circle cx="244.6" cy="286" r="3.25"/><circle cx="244.4" cy="286.7" r="3.25"/><circle cx="244.8" cy="295.9" r="3.25"/><circle cx="243.8" cy="308.2" r="3.25"/><circle cx="243.8" cy="294.2" r="3.25"/><circle cx="245.2" cy="294.4" r="3.25"/><circle cx="243.8" cy="270.3" r="3.25"/><circle cx="244" cy="296.1" r="3.25"/><circle cx="244.5" cy="275.7" r="3.25"/><circle cx="244.2" cy="280.6" r="3.25"/><circle cx="244" cy="297.7" r="3.25"/><circle cx="244.4" cy="305.9" r="3.25"/><circle cx="245.1" cy="303" r="3.25"/><circle cx="246.2" cy="286.4" r="3.25"/><circle cx="246.8" cy="271.4" r="3.25"/><circle cx="246.4" cy="300.5" r="3.25"/><circle cx="246.9" cy="309" r="3.25"/><circle cx="246.8" cy="292.7" r="3.25"/><circle cx="246.6" cy="318.4" r="3.25"/><circle cx="247" cy="280.5" r="3.25"/><circle cx="247.6" cy="295.6" r="3.25"/><circle cx="247.4" cy="301.2" r="3.25"/><circle cx="246.3" cy="293.3" r="3.25"/><circle cx="246.9" cy="305.7" r="3.25"/><circle cx="249.2" cy="278.8" r="3.25"/><circle cx="249.8" cy="297.2" r="3.25"/><circle cx="250.1" cy="308.4" r="3.25"/><circle cx="248.7" cy="282.2" r="3.25"/><circle cx="250.2" cy="315.9" r="3.25"/><circle cx="250.1" cy="309.5" r="3.25"/><circle cx="249" cy="293.6" r="3.25"/><circle cx="249.3" cy="306.4" r="3.25"/><circle cx="249.9" cy="305.7" r="3.25"/><circle cx="250.1" cy="261.1" r="3.25"/><circle cx="252.6" cy="295.2" r="3.25"/><circle cx="251.7" cy="280.2" r="3.25"/><circle cx="251.5" cy="290.6" r="3.25"/><circle cx="251.3" cy="269.2" r="3.25"/><circle cx="252.2" cy="324" r="3.25"/><circle cx="251.4" cy="314.6" r="3.25"/><circle cx="252.7" cy="280.5" r="3.25"/><circle cx="251.4" cy="288.2" r="3.25"/><circle cx="251.2" cy="303.3" r="3.25"/><circle cx="251.8" cy="309.9" r="3.25"/><circle cx="251.9" cy="276.8" r="3.25"/><circle cx="254.3" cy="285.2" r="3.25"/><circle cx="254" cy="319.4" r="3.25"/><circle cx="254" cy="296.7" r="3.25"/><circle cx="254.8" cy="285.9" r="3.25"/><circle cx="254.2" cy="276.8" r="3.25"/><circle cx="254.1" cy="307.7" r="3.25"/><circle cx="254.7" cy="318.8" r="3.25"/><circle cx="254.6" cy="284.1" r="3.25"/><circle cx="253.7" cy="281.5" r="3.25"/><circle cx="253.7" cy="278.8" r="3.25"/><circle cx="255.2" cy="311.3" r="3.25"/><circle cx="254.7" cy="320.4" r="3.25"/><circle cx="254.6" cy="293.6" r="3.25"/><circle cx="253.9" cy="270.1" r="3.25"/><circle cx="254.2" cy="291.4" r="3.25"/><circle cx="254.6" cy="309.9" r="3.25"/><circle cx="254.9" cy="284.5" r="3.25"/><circle cx="254.5" cy="304.8" r="3.25"/><circle cx="254.6" cy="288.8" r="3.25"/><circle cx="254.9" cy="296.8" r="3.25"/><circle cx="256.2" cy="258.9" r="3.25"/><circle cx="257.6" cy="291.1" r="3.25"/><circle cx="257.5" cy="276.2" r="3.25"/><circle cx="257.2" cy="293.6" r="3.25"/><circle cx="256.3" cy="303" r="3.25"/><circle cx="256.6" cy="302.4" r="3.25"/><circle cx="257.5" cy="273.4" r="3.25"/><circle cx="257" cy="270.2" r="3.25"/><circle cx="257" cy="270.8" r="3.25"/><circle cx="256.5" cy="267" r="3.25"/><circle cx="257.2" cy="281.9" r="3.25"/><circle cx="257.3" cy="289.6" r="3.25"/><circle cx="256.9" cy="297.1" r="3.25"/><circle cx="257.3" cy="299.6" r="3.25"/><circle cx="256.9" cy="285.8" r="3.25"/><circle cx="259" cy="290.4" r="3.25"/><circle cx="258.9" cy="301" r="3.25"/><circle cx="259.1" cy="305.8" r="3.25"/><circle cx="258.8" cy="281.2" r="3.25"/><circle cx="259.4" cy="287.5" r="3.25"/><circle cx="259.7" cy="294" r="3.25"/><circle cx="260.1" cy="316" r="3.25"/><circle cx="258.8" cy="309.2" r="3.25"/><circle cx="259.3" cy="313" r="3.25"/><circle cx="259.3" cy="274.2" r="3.25"/><circle cx="260" cy="297.2" r="3.25"/><circle cx="259.3" cy="304.4" r="3.25"/><circle cx="258.7" cy="289.6" r="3.25"/><circle cx="262" cy="271.4" r="3.25"/><circle cx="262.5" cy="280.4" r="3.25"/><circle cx="262.1" cy="295.7" r="3.25"/><circle cx="262.2" cy="299.9" r="3.25"/><circle cx="261.4" cy="289.1" r="3.25"/><circle cx="261.9" cy="272" r="3.25"/><circle cx="262.4" cy="304.4" r="3.25"/><circle cx="261.1" cy="282.9" r="3.25"/><circle cx="262.5" cy="315.7" r="3.25"/><circle cx="261.4" cy="309.4" r="3.25"/><circle cx="261.6" cy="308.1" r="3.25"/><circle cx="264.6" cy="283.2" r="3.25"/><circle cx="263.7" cy="302.2" r="3.25"/><circle cx="264.9" cy="302.8" r="3.25"/><circle cx="264.7" cy="303.9" r="3.25"/><circle cx="264.4" cy="287.1" r="3.25"/><circle cx="264.5" cy="315.1" r="3.25"/><circle cx="264.8" cy="314.2" r="3.25"/><circle cx="263.6" cy="272.4" r="3.25"/><circle cx="263.8" cy="292.2" r="3.25"/><circle cx="264.6" cy="307.5" r="3.25"/><circle cx="264" cy="297.2" r="3.25"/><circle cx="266.7" cy="299.5" r="3.25"/><circle cx="267.3" cy="303.7" r="3.25"/><circle cx="267.1" cy="293.4" r="3.25"/><circle cx="266.7" cy="320.2" r="3.25"/><circle cx="266.6" cy="286.6" r="3.25"/><circle cx="267" cy="277.8" r="3.25"/><circle cx="266.5" cy="296.7" r="3.25"/><circle cx="266.6" cy="264.4" r="3.25"/><circle cx="266.8" cy="295" r="3.25"/><circle cx="266.8" cy="295.6" r="3.25"/><circle cx="266.1" cy="277.6" r="3.25"/><circle cx="266.6" cy="267" r="3.25"/><circle cx="266.8" cy="283.6" r="3.25"/><circle cx="266.5" cy="310.2" r="3.25"/><circle cx="266.5" cy="288.9" r="3.25"/><circle cx="267.5" cy="277.4" r="3.25"/><circle cx="266.8" cy="312.4" r="3.25"/><circle cx="266.3" cy="319.7" r="3.25"/><circle cx="269.4" cy="282.2" r="3.25"/><circle cx="269.7" cy="301.9" r="3.25"/><circle cx="269.8" cy="272.5" r="3.25"/><circle cx="268.5" cy="298.8" r="3.25"/><circle cx="269.9" cy="317.8" r="3.25"/><circle cx="268.5" cy="296.1" r="3.25"/><circle cx="268.9" cy="314.4" r="3.25"/><circle cx="269.4" cy="279.2" r="3.25"/><circle cx="269.8" cy="272.7" r="3.25"/><circle cx="270" cy="279.2" r="3.25"/><circle cx="269.2" cy="310.7" r="3.25"/><circle cx="268.6" cy="301.7" r="3.25"/><circle cx="269.4" cy="299.2" r="3.25"/><circle cx="269.6" cy="286.8" r="3.25"/><circle cx="269.4" cy="258.8" r="3.25"/><circle cx="269.8" cy="271.6" r="3.25"/><circle cx="268.8" cy="275.3" r="3.25"/><circle cx="268.8" cy="311.4" r="3.25"/><circle cx="269.8" cy="310.9" r="3.25"/><circle cx="268.5" cy="284.6" r="3.25"/><circle cx="271.2" cy="308.3" r="3.25"/><circle cx="272.3" cy="295.6" r="3.25"/><circle cx="272.4" cy="294.1" r="3.25"/><circle cx="271.8" cy="264.7" r="3.25"/><circle cx="272.1" cy="279.2" r="3.25"/><circle cx="272.1" cy="303.6" r="3.25"/><circle cx="271.4" cy="287" r="3.25"/><circle cx="272.3" cy="264.1" r="3.25"/><circle cx="271" cy="310.8" r="3.25"/><circle cx="271.8" cy="282.3" r="3.25"/><circle cx="271.4" cy="302.8" r="3.25"/><circle cx="271.9" cy="285" r="3.25"/><circle cx="271.2" cy="270.5" r="3.25"/><circle cx="271.8" cy="274.7" r="3.25"/><circle cx="271.5" cy="289.1" r="3.25"/><circle cx="270.9" cy="281.9" r="3.25"/><circle cx="272.5" cy="302.8" r="3.25"/><circle cx="271.5" cy="315" r="3.25"/><circle cx="274.3" cy="288.5" r="3.25"/><circle cx="274.8" cy="313.1" r="3.25"/><circle cx="273.4" cy="292.9" r="3.25"/><circle cx="275" cy="301.6" r="3.25"/><circle cx="274.3" cy="320.6" r="3.25"/><circle cx="273.9" cy="291" r="3.25"/><circle cx="274.2" cy="292.1" r="3.25"/><circle cx="274.7" cy="282.9" r="3.25"/><circle cx="273.6" cy="277.9" r="3.25"/><circle cx="274.5" cy="288.2" r="3.25"/><circle cx="273.6" cy="281" r="3.25"/><circle cx="276.7" cy="286.9" r="3.25"/><circle cx="276.5" cy="272.9" r="3.25"/><circle cx="277" cy="308.7" r="3.25"/><circle cx="276.4" cy="306.1" r="3.25"/><circle cx="277.3" cy="319" r="3.25"/><circle cx="275.9" cy="278.2" r="3.25"/><circle cx="276.1" cy="277.9" r="3.25"/><circle cx="275.9" cy="307.1" r="3.25"/><circle cx="276.3" cy="278.1" r="3.25"/><circle cx="279.6" cy="273.3" r="3.25"/><circle cx="279" cy="301.7" r="3.25"/><circle cx="278.8" cy="300.5" r="3.25"/><circle cx="279.4" cy="315.7" r="3.25"/><circle cx="279.8" cy="293.4" r="3.25"/><circle cx="279.1" cy="293.2" r="3.25"/><circle cx="279" cy="312.6" r="3.25"/><circle cx="278.7" cy="311.3" r="3.25"/><circle cx="279.6" cy="274.9" r="3.25"/><circle cx="278.6" cy="289.2" r="3.25"/><circle cx="279.1" cy="289" r="3.25"/><circle cx="279.1" cy="296.3" r="3.25"/><circle cx="279.7" cy="305.2" r="3.25"/><circle cx="279.8" cy="308.1" r="3.25"/><circle cx="279.3" cy="287.1" r="3.25"/><circle cx="281.5" cy="291.6" r="3.25"/><circle cx="282.3" cy="285" r="3.25"/><circle cx="281.2" cy="305" r="3.25"/><circle cx="281.7" cy="290.8" r="3.25"/><circle cx="281.5" cy="300.2" r="3.25"/><circle cx="282.3" cy="287.4" r="3.25"/><circle cx="280.9" cy="299" r="3.25"/><circle cx="282.1" cy="314.8" r="3.25"/><circle cx="281.5" cy="290.1" r="3.25"/><circle cx="281.6" cy="284.9" r="3.25"/><circle cx="281.3" cy="309" r="3.25"/><circle cx="281.2" cy="297" r="3.25"/><circle cx="282.1" cy="302.9" r="3.25"/><circle cx="281.4" cy="299.8" r="3.25"/><circle cx="281.1" cy="298.7" r="3.25"/><circle cx="284.2" cy="292.2" r="3.25"/><circle cx="284.5" cy="293.4" r="3.25"/><circle cx="284.6" cy="290.3" r="3.25"/><circle cx="284.5" cy="293" r="3.25"/><circle cx="284.5" cy="285.3" r="3.25"/><circle cx="284.6" cy="303.4" r="3.25"/><circle cx="284.6" cy="299.1" r="3.25"/><circle cx="284" cy="304.8" r="3.25"/><circle cx="284.6" cy="290.4" r="3.25"/><circle cx="287" cy="294.2" r="3.25"/><circle cx="286.6" cy="281.7" r="3.25"/><circle cx="286.9" cy="294.1" r="3.25"/><circle cx="287.1" cy="289.4" r="3.25"/><circle cx="286.4" cy="305.8" r="3.25"/><circle cx="286.1" cy="300.8" r="3.25"/><circle cx="286.2" cy="294.3" r="3.25"/><circle cx="287.3" cy="285.2" r="3.25"/><circle cx="286.1" cy="287.4" r="3.25"/><circle cx="286.2" cy="284.5" r="3.25"/><circle cx="287.3" cy="293.2" r="3.25"/><circle cx="285.8" cy="290.3" r="3.25"/><circle cx="286" cy="292.9" r="3.25"/><circle cx="289" cy="287.1" r="3.25"/><circle cx="288.5" cy="288.6" r="3.25"/><circle cx="289.1" cy="296.6" r="3.25"/><circle cx="289.3" cy="291.5" r="3.25"/><circle cx="288.6" cy="304.9" r="3.25"/><circle cx="288.8" cy="295.9" r="3.25"/><circle cx="288.5" cy="292.1" r="3.25"/><circle cx="289.7" cy="281.3" r="3.25"/><circle cx="289.4" cy="297.5" r="3.25"/><circle cx="288.5" cy="295.1" r="3.25"/><circle cx="288.9" cy="296.2" r="3.25"/><circle cx="288.3" cy="294.7" r="3.25"/><circle cx="289.3" cy="298.3" r="3.25"/><circle cx="289.1" cy="284.6" r="3.25"/><circle cx="289.8" cy="295.8" r="3.25"/><circle cx="289.2" cy="292.5" r="3.25"/><circle cx="288.4" cy="287.7" r="3.25"/><circle cx="289.5" cy="283.5" r="3.25"/><circle cx="288.5" cy="291.1" r="3.25"/><circle cx="288.9" cy="291.9" r="3.25"/><circle cx="291.6" cy="287" r="3.25"/><circle cx="290.9" cy="291.4" r="3.25"/><circle cx="291.1" cy="297.5" r="3.25"/><circle cx="290.9" cy="288.5" r="3.25"/><circle cx="291.6" cy="295.6" r="3.25"/><circle cx="292.3" cy="293.2" r="3.25"/><circle cx="291" cy="291.6" r="3.25"/><circle cx="291.1" cy="294.9" r="3.25"/><circle cx="291.7" cy="296.8" r="3.25"/><circle cx="292" cy="292.2" r="3.25"/><circle cx="292" cy="290.8" r="3.25"/><circle cx="292" cy="295.9" r="3.25"/><circle cx="294.5" cy="294.2" r="3.25"/><circle cx="294.5" cy="293.8" r="3.25"/><circle cx="294.5" cy="291.4" r="3.25"/><circle cx="297" cy="292.4" r="3.25"/><circle cx="297" cy="293.3" r="3.25"/><circle cx="297" cy="288.9" r="3.25"/><circle cx="299" cy="295.2" r="3.25"/><circle cx="299" cy="292.1" r="3.25"/><circle cx="299" cy="289.7" r="3.25"/><circle cx="414.8" cy="290.6" r="3.25"/><circle cx="413.5" cy="299.7" r="3.25"/><circle cx="413.3" cy="299.6" r="3.25"/><circle cx="414.2" cy="291.9" r="3.25"/><circle cx="413.6" cy="292.7" r="3.25"/><circle cx="414.3" cy="303.9" r="3.25"/><circle cx="413.9" cy="302.5" r="3.25"/><circle cx="413.3" cy="308.8" r="3.25"/><circle cx="417.2" cy="302.7" r="3.25"/><circle cx="416.2" cy="310.6" r="3.25"/><circle cx="416" cy="302.9" r="3.25"/><circle cx="416" cy="309.4" r="3.25"/><circle cx="416.7" cy="296.9" r="3.25"/><circle cx="416.2" cy="303.1" r="3.25"/><circle cx="417.1" cy="307.6" r="3.25"/><circle cx="416.2" cy="300.1" r="3.25"/><circle cx="417.2" cy="292.2" r="3.25"/><circle cx="416.6" cy="302.6" r="3.25"/><circle cx="416" cy="303.6" r="3.25"/><circle cx="417.4" cy="303.6" r="3.25"/><circle cx="419" cy="296.7" r="3.25"/><circle cx="419.3" cy="296.4" r="3.25"/><circle cx="419.7" cy="298.3" r="3.25"/><circle cx="419.1" cy="296.2" r="3.25"/><circle cx="419.3" cy="300.7" r="3.25"/><circle cx="419.7" cy="309.4" r="3.25"/><circle cx="418.9" cy="298.4" r="3.25"/><circle cx="419.2" cy="308.8" r="3.25"/><circle cx="419.4" cy="296.8" r="3.25"/><circle cx="420" cy="305.9" r="3.25"/><circle cx="418.8" cy="297.3" r="3.25"/><circle cx="419.3" cy="307" r="3.25"/><circle cx="419.6" cy="301.9" r="3.25"/><circle cx="421.9" cy="315" r="3.25"/><circle cx="422.7" cy="295.1" r="3.25"/><circle cx="421.7" cy="292.7" r="3.25"/><circle cx="422.9" cy="292.7" r="3.25"/><circle cx="422.6" cy="302.6" r="3.25"/><circle cx="422.7" cy="290" r="3.25"/><circle cx="421.6" cy="304.5" r="3.25"/><circle cx="422.2" cy="308.5" r="3.25"/><circle cx="421.7" cy="299.2" r="3.25"/><circle cx="422.7" cy="292.5" r="3.25"/><circle cx="421.7" cy="304.4" r="3.25"/><circle cx="421.7" cy="308.1" r="3.25"/><circle cx="422.5" cy="287.7" r="3.25"/><circle cx="422.3" cy="288.7" r="3.25"/><circle cx="424.9" cy="311.4" r="3.25"/><circle cx="425.5" cy="297.4" r="3.25"/><circle cx="425.2" cy="308.6" r="3.25"/><circle cx="424.5" cy="308.5" r="3.25"/><circle cx="424.8" cy="288.8" r="3.25"/><circle cx="425.4" cy="298.1" r="3.25"/><circle cx="425.3" cy="303" r="3.25"/><circle cx="425.7" cy="310.7" r="3.25"/><circle cx="425.5" cy="288.4" r="3.25"/><circle cx="426.9" cy="305.9" r="3.25"/><circle cx="427.1" cy="299.3" r="3.25"/><circle cx="428.3" cy="314.1" r="3.25"/><circle cx="428.5" cy="291.3" r="3.25"/><circle cx="427.3" cy="300.6" r="3.25"/><circle cx="428.4" cy="306.9" r="3.25"/><circle cx="427.1" cy="314.4" r="3.25"/><circle cx="427.3" cy="290" r="3.25"/><circle cx="428.4" cy="305.3" r="3.25"/><circle cx="428.1" cy="304.8" r="3.25"/><circle cx="428.4" cy="306.2" r="3.25"/><circle cx="428.1" cy="300.7" r="3.25"/><circle cx="427.1" cy="311.6" r="3.25"/><circle cx="430.7" cy="290.2" r="3.25"/><circle cx="431.2" cy="287.2" r="3.25"/><circle cx="430.5" cy="301.2" r="3.25"/><circle cx="430" cy="300.6" r="3.25"/><circle cx="430.9" cy="292.7" r="3.25"/><circle cx="429.6" cy="307.5" r="3.25"/><circle cx="430.5" cy="290.1" r="3.25"/><circle cx="429.8" cy="299.8" r="3.25"/><circle cx="431" cy="309.9" r="3.25"/><circle cx="431.2" cy="306.2" r="3.25"/><circle cx="432.9" cy="296.3" r="3.25"/><circle cx="433.1" cy="295.2" r="3.25"/><circle cx="432.7" cy="291.5" r="3.25"/><circle cx="432.4" cy="307.1" r="3.25"/><circle cx="432.6" cy="286.2" r="3.25"/><circle cx="433.8" cy="304.8" r="3.25"/><circle cx="432.4" cy="294.3" r="3.25"/><circle cx="432.5" cy="307" r="3.25"/><circle cx="433.9" cy="293.2" r="3.25"/><circle cx="436.5" cy="286.6" r="3.25"/><circle cx="435.9" cy="293.3" r="3.25"/><circle cx="435.9" cy="298.5" r="3.25"/><circle cx="435.5" cy="306.3" r="3.25"/><circle cx="436.7" cy="301.4" r="3.25"/><circle cx="436" cy="305.1" r="3.25"/><circle cx="436.5" cy="301.9" r="3.25"/><circle cx="436.2" cy="287.1" r="3.25"/><circle cx="437.9" cy="305.9" r="3.25"/><circle cx="439.4" cy="288.8" r="3.25"/><circle cx="439" cy="303.5" r="3.25"/><circle cx="438.3" cy="291" r="3.25"/><circle cx="438.2" cy="305.2" r="3.25"/><circle cx="438" cy="307" r="3.25"/><circle cx="439" cy="299.1" r="3.25"/><circle cx="438.7" cy="300.7" r="3.25"/><circle cx="439.4" cy="297.1" r="3.25"/><circle cx="441.7" cy="287.3" r="3.25"/><circle cx="441.3" cy="298.9" r="3.25"/><circle cx="441.3" cy="289.4" r="3.25"/><circle cx="441.8" cy="308.6" r="3.25"/><circle cx="441.6" cy="306.9" r="3.25"/><circle cx="441.3" cy="286.2" r="3.25"/><circle cx="440.7" cy="310.6" r="3.25"/><circle cx="440.7" cy="282.6" r="3.25"/><circle cx="442" cy="291.9" r="3.25"/><circle cx="441.3" cy="300.3" r="3.25"/><circle cx="441.1" cy="295.9" r="3.25"/><circle cx="442" cy="283.4" r="3.25"/><circle cx="444.4" cy="280.2" r="3.25"/><circle cx="443.4" cy="288.3" r="3.25"/><circle cx="443.6" cy="310" r="3.25"/><circle cx="444.7" cy="307.1" r="3.25"/><circle cx="443.7" cy="312.2" r="3.25"/><circle cx="444.4" cy="278.1" r="3.25"/><circle cx="444.1" cy="287" r="3.25"/><circle cx="444.9" cy="304.3" r="3.25"/><circle cx="444.2" cy="282.8" r="3.25"/><circle cx="443.3" cy="292.9" r="3.25"/><circle cx="444.4" cy="291.6" r="3.25"/><circle cx="447" cy="300.6" r="3.25"/><circle cx="446.7" cy="314.8" r="3.25"/><circle cx="446.8" cy="290.2" r="3.25"/><circle cx="446.9" cy="285.5" r="3.25"/><circle cx="446.3" cy="289.8" r="3.25"/><circle cx="446.1" cy="314.8" r="3.25"/><circle cx="447.4" cy="302.2" r="3.25"/><circle cx="447.4" cy="291.4" r="3.25"/><circle cx="447.2" cy="304.6" r="3.25"/><circle cx="447.2" cy="298.1" r="3.25"/><circle cx="450" cy="293" r="3.25"/><circle cx="448.8" cy="305.9" r="3.25"/><circle cx="448.9" cy="297.7" r="3.25"/><circle cx="449.6" cy="290.9" r="3.25"/><circle cx="449.1" cy="302.7" r="3.25"/><circle cx="449.5" cy="301.3" r="3.25"/><circle cx="450.2" cy="284.1" r="3.25"/><circle cx="450.1" cy="300.3" r="3.25"/><circle cx="449.8" cy="311.1" r="3.25"/><circle cx="451.9" cy="303.5" r="3.25"/><circle cx="452.4" cy="291.7" r="3.25"/><circle cx="452.3" cy="305.9" r="3.25"/><circle cx="452.9" cy="299" r="3.25"/><circle cx="453" cy="294.3" r="3.25"/><circle cx="452.2" cy="302.8" r="3.25"/><circle cx="451.5" cy="278.6" r="3.25"/><circle cx="451.5" cy="284.9" r="3.25"/><circle cx="451.6" cy="288" r="3.25"/><circle cx="452.3" cy="302.8" r="3.25"/><circle cx="451.9" cy="297.9" r="3.25"/><circle cx="452.9" cy="293" r="3.25"/><circle cx="451.7" cy="310.6" r="3.25"/><circle cx="455.5" cy="292.2" r="3.25"/><circle cx="454.3" cy="306.7" r="3.25"/><circle cx="455.7" cy="288.3" r="3.25"/><circle cx="455.2" cy="307.3" r="3.25"/><circle cx="454.5" cy="307.9" r="3.25"/><circle cx="455.2" cy="298.2" r="3.25"/><circle cx="454.9" cy="278.8" r="3.25"/><circle cx="455.1" cy="288" r="3.25"/><circle cx="454.3" cy="307.7" r="3.25"/><circle cx="455" cy="297.2" r="3.25"/><circle cx="457.7" cy="309.8" r="3.25"/><circle cx="457.8" cy="301.8" r="3.25"/><circle cx="457.4" cy="303.5" r="3.25"/><circle cx="458.3" cy="280.2" r="3.25"/><circle cx="457.4" cy="287" r="3.25"/><circle cx="458.2" cy="310.1" r="3.25"/><circle cx="457.8" cy="291.2" r="3.25"/><circle cx="457.8" cy="282.7" r="3.25"/><circle cx="457.5" cy="282.1" r="3.25"/><circle cx="457.5" cy="308.7" r="3.25"/><circle cx="457.4" cy="307" r="3.25"/><circle cx="458.3" cy="287" r="3.25"/><circle cx="458.5" cy="312.5" r="3.25"/><circle cx="457.7" cy="297.8" r="3.25"/><circle cx="457.6" cy="309.4" r="3.25"/><circle cx="460.8" cy="279.7" r="3.25"/><circle cx="460.9" cy="302.6" r="3.25"/><circle cx="460.5" cy="278.7" r="3.25"/><circle cx="460.3" cy="281.2" r="3.25"/><circle cx="459.9" cy="304.4" r="3.25"/><circle cx="460.2" cy="305.7" r="3.25"/><circle cx="460" cy="303.2" r="3.25"/><circle cx="460.4" cy="305.1" r="3.25"/><circle cx="460.1" cy="302.1" r="3.25"/><circle cx="460.5" cy="312" r="3.25"/><circle cx="460.4" cy="279.3" r="3.25"/><circle cx="461" cy="298.2" r="3.25"/><circle cx="463.8" cy="287.1" r="3.25"/><circle cx="462.7" cy="292.1" r="3.25"/><circle cx="463.9" cy="285.6" r="3.25"/><circle cx="463.8" cy="309.3" r="3.25"/><circle cx="464" cy="298.3" r="3.25"/><circle cx="463.9" cy="300.7" r="3.25"/><circle cx="463.2" cy="301.4" r="3.25"/><circle cx="462.7" cy="281.8" r="3.25"/><circle cx="462.7" cy="309.3" r="3.25"/><circle cx="466" cy="287.6" r="3.25"/><circle cx="465.4" cy="284.4" r="3.25"/><circle cx="465.8" cy="309" r="3.25"/><circle cx="465.3" cy="274.9" r="3.25"/><circle cx="466.5" cy="303.8" r="3.25"/><circle cx="466.4" cy="306.5" r="3.25"/><circle cx="466" cy="305.8" r="3.25"/><circle cx="466" cy="297.2" r="3.25"/><circle cx="465.8" cy="292" r="3.25"/><circle cx="466.6" cy="285.6" r="3.25"/><circle cx="465.4" cy="288.1" r="3.25"/><circle cx="466.3" cy="282" r="3.25"/><circle cx="465.7" cy="284.5" r="3.25"/><circle cx="465.8" cy="295" r="3.25"/><circle cx="465.2" cy="292.1" r="3.25"/><circle cx="457.8" cy="286.1" r="3.25"/><circle cx="456.5" cy="283.5" r="3.25"/><circle cx="457.4" cy="303.7" r="3.25"/><circle cx="456.5" cy="288.1" r="3.25"/><circle cx="456.7" cy="285.7" r="3.25"/><circle cx="456.6" cy="276.1" r="3.25"/><circle cx="456.5" cy="300.4" r="3.25"/><circle cx="456.2" cy="304.7" r="3.25"/><circle cx="457.7" cy="294.4" r="3.25"/><circle cx="457.4" cy="292.4" r="3.25"/><circle cx="457" cy="297.4" r="3.25"/><circle cx="456.7" cy="285" r="3.25"/><circle cx="457.2" cy="291.4" r="3.25"/><circle cx="457" cy="293.2" r="3.25"/><circle cx="457.6" cy="286.3" r="3.25"/><circle cx="457.3" cy="286.6" r="3.25"/><circle cx="460.3" cy="297.9" r="3.25"/><circle cx="460" cy="289.9" r="3.25"/><circle cx="460.5" cy="303.4" r="3.25"/><circle cx="460.4" cy="284.1" r="3.25"/><circle cx="459.4" cy="301.1" r="3.25"/><circle cx="459.7" cy="295.4" r="3.25"/><circle cx="460.2" cy="295.9" r="3.25"/><circle cx="459.3" cy="279.4" r="3.25"/><circle cx="460.5" cy="280.9" r="3.25"/><circle cx="459.6" cy="286.6" r="3.25"/><circle cx="460" cy="303.4" r="3.25"/><circle cx="460.4" cy="303.8" r="3.25"/><circle cx="462.6" cy="292.3" r="3.25"/><circle cx="462.5" cy="302.3" r="3.25"/><circle cx="462.2" cy="281.5" r="3.25"/><circle cx="463.7" cy="299.6" r="3.25"/><circle cx="463" cy="273" r="3.25"/><circle cx="463.2" cy="292.6" r="3.25"/><circle cx="462.8" cy="275.8" r="3.25"/><circle cx="463.6" cy="294.2" r="3.25"/><circle cx="463" cy="298.4" r="3.25"/><circle cx="463.5" cy="291.9" r="3.25"/><circle cx="463.5" cy="276.8" r="3.25"/><circle cx="463.6" cy="289.1" r="3.25"/><circle cx="462.6" cy="272.1" r="3.25"/><circle cx="462.6" cy="302" r="3.25"/><circle cx="462.4" cy="289.1" r="3.25"/><circle cx="465.6" cy="288.7" r="3.25"/><circle cx="465.9" cy="295.7" r="3.25"/><circle cx="466.7" cy="279.1" r="3.25"/><circle cx="465.6" cy="283.6" r="3.25"/><circle cx="466.2" cy="303.3" r="3.25"/><circle cx="465.7" cy="293" r="3.25"/><circle cx="465.7" cy="292.6" r="3.25"/><circle cx="465.7" cy="276.4" r="3.25"/><circle cx="466" cy="279.8" r="3.25"/><circle cx="466.7" cy="282.8" r="3.25"/><circle cx="465.7" cy="293.8" r="3.25"/><circle cx="466.5" cy="292.5" r="3.25"/><circle cx="465.6" cy="292" r="3.25"/><circle cx="466.6" cy="303.5" r="3.25"/><circle cx="466" cy="275.5" r="3.25"/><circle cx="465.7" cy="305" r="3.25"/><circle cx="465.2" cy="287.4" r="3.25"/><circle cx="179.6" cy="265.4" r="3.25"/><circle cx="239.5" cy="264.5" r="3.25"/><circle cx="275.4" cy="261.8" r="3.25"/><circle cx="275.8" cy="263.5" r="3.25"/><circle cx="264.4" cy="265.4" r="3.25"/><circle cx="288.7" cy="320.6" r="3.25"/><circle cx="247.8" cy="329" r="3.25"/><circle cx="158.6" cy="318.4" r="3.25"/><circle cx="158.6" cy="322.5" r="3.25"/><circle cx="127.6" cy="314.3" r="3.25"/><circle cx="126" cy="314.5" r="3.25"/><circle cx="404" cy="290" r="3.25"/><circle cx="404" cy="300.6" r="3.25"/><circle cx="404" cy="303" r="3.25"/><circle cx="447" cy="325" r="3.25"/><circle cx="443" cy="320" r="3.25"/><circle cx="446" cy="317" r="3.25"/>
</g>
<path d="M86.5 294.0H755.5" stroke="#000" stroke-width="1.8" stroke-dasharray="2.8 3.2" fill="none"/>
<path d="M485.7 210.4V377.6" stroke="#000" stroke-width="1.8" stroke-dasharray="2.8 3.2" fill="none"/>
<path d="M126.5 462.9h0M126.4 456.3h0M125.7 470.9h0M125.3 443.2h0M125.9 495.2h0M126.4 470.3h0M125.5 453h0M126.6 449.5h0M126.3 442.7h0M125.7 473.7h0M126.1 489.1h0M125.5 449.5h0M125.7 489.4h0M125.7 471.9h0M126.3 483.3h0M127.3 446.8h0M127.7 472.4h0M127.9 482.7h0M127.7 472.8h0M127.9 467h0M127.8 494h0M127.5 467.3h0M128.6 454.7h0M128 478.4h0M127.6 437.1h0M127.6 471.2h0M127.6 466.8h0M128.3 441.9h0M127.9 437.7h0M127.4 462.2h0M128.5 472.3h0M128 460.6h0M127.3 447.9h0M127.7 434.2h0M128.7 481.1h0M128.2 421.4h0M128.4 481.2h0M127.2 456.8h0M129.8 474.6h0M129.3 446.5h0M129.1 465.2h0M129.1 434.9h0M129.7 430.2h0M130 454.5h0M129.3 454.6h0M130 482.4h0M129.7 436.5h0M129.9 465.7h0M129.6 476.4h0M129 451.8h0M130.3 446.9h0M130.2 459.8h0M129.7 495.4h0M129 469.7h0M129.2 451.4h0M129.8 442.5h0M129.1 453.5h0M130.1 447.9h0M130.5 441.8h0M130.5 445h0M129.4 476.5h0M129.6 464.1h0M130.5 469.3h0M130.3 471.3h0M141.5 457.8h0M140.4 461.7h0M140.9 465.9h0M141.7 453.5h0M141.4 468h0M140.9 463.8h0M140.6 442.5h0M143.4 461.8h0M144.2 475.9h0M143.4 452.7h0M143.6 452.5h0M143.2 460.6h0M144.2 460.8h0M144 478.1h0M145.8 458.9h0M146.4 455.7h0M146.1 446.5h0M146.8 461.3h0M145.8 469.9h0M146.9 472.6h0M146.7 460.9h0M145.5 449.7h0M146.1 462h0M148.7 446.9h0M149.5 467h0M148.9 456.7h0M149.4 460.1h0M149.1 453.6h0M148.9 464.8h0M149.5 443.9h0M148.8 427.2h0M149.6 460.9h0M152.1 458.2h0M151.1 461h0M151.9 476.6h0M151.3 436.3h0M151.8 449.9h0M150.8 446.3h0M151.9 451.9h0M151.4 438.8h0M151.3 494.3h0M153.6 429.2h0M153.7 455.5h0M153.5 468.2h0M154.3 471.8h0M156.6 456.8h0M156.8 445.4h0M157.1 432.4h0M157.4 467.4h0M156.8 468.6h0M156.1 453.9h0M156.4 476.1h0M157.4 466.5h0M157 447.5h0M159.1 462.7h0M159.2 451.6h0M159.9 477.3h0M158.8 442.4h0M158.8 450.2h0M159.2 444.6h0M159.5 476.7h0M162.8 455.1h0M162.1 468.3h0M161.5 445.6h0M161.7 470.1h0M171.4 466h0M171.9 463h0M172.1 468.6h0M170.9 474.3h0M171.9 459.5h0M172.1 449.5h0M174.5 470h0M174 458h0M174.4 473.3h0M174.4 441.1h0M174.3 459.5h0M174.2 461.9h0M175.1 436.5h0M174.4 485.1h0M173.7 468.2h0M176.5 430.9h0M176.6 486.5h0M177.5 465.8h0M177.6 466.1h0M177 485.2h0M178.8 487.9h0M180.2 437.5h0M179.7 455.2h0M179.4 472.6h0M180 460.2h0M180.2 446h0M179.6 451.3h0M179 454h0M182.1 489.6h0M182.5 477.2h0M181.9 429.6h0M181.9 467.3h0M182.4 431.6h0M184.4 467.7h0M184.1 438.7h0M185.5 455.6h0M184.5 469.9h0M185.4 484.9h0M185 487.4h0M184.1 433h0M184.9 439.9h0M185 447.7h0M187.8 478.7h0M186.9 443.6h0M188.2 449.7h0M187.6 471.3h0M187.5 468.3h0M186.8 468.3h0M187.5 435.5h0M189.5 470.3h0M189.6 484h0M189.9 437.7h0M189.3 474.6h0M190.7 485.7h0M189.7 447.6h0M189.7 468.3h0M192.6 458.7h0M192.8 447.9h0M193.2 470.3h0M192.4 462.6h0M192.5 458.7h0M202.3 450.3h0M202.6 445.4h0M201.4 463.5h0M201.8 453.3h0M202.3 457.8h0M202.1 473.3h0M201.4 472.2h0M201.9 454.3h0M201.5 475.7h0M202.5 466h0M204.1 446.9h0M204.3 444.4h0M205 467.8h0M205.1 442.1h0M204.5 457.2h0M204.3 431.8h0M205.3 466.2h0M206.9 451.8h0M207.1 467.4h0M208.1 471.5h0M207.6 483.4h0M207.4 474.4h0M208.1 476.8h0M207.7 464.6h0M210 449.5h0M210.7 470.8h0M211 431.1h0M211.1 472.4h0M213.3 458.8h0M213.1 447.5h0M213.4 432.2h0M213.1 454.6h0M213.1 469.5h0M213.5 461h0M213.8 491.2h0M213.8 462.1h0M213.5 450.6h0M216.6 477.7h0M216.3 456.1h0M216.5 485.8h0M216.9 468.4h0M216.2 471h0M215.5 484.8h0M216.5 459.1h0M216 451.6h0M215.9 477.8h0M219.6 466.8h0M219 455.7h0M218.9 477.9h0M218.5 462h0M229 468.4h0M229.6 449.2h0M229.9 462.9h0M229.4 458.6h0M229.3 459.6h0M229 471.9h0M230.2 467.9h0M229.8 472.9h0M230.2 464.3h0M230.5 462.9h0M229.4 467.1h0M229.8 448.6h0M229.6 461.3h0M230.3 477.1h0M232.7 465.1h0M232.8 490.3h0M231.5 462.2h0M232.2 442h0M231.5 452.5h0M232.2 465.8h0M232.1 466.7h0M231.7 472h0M232 465.8h0M231.4 462.6h0M232.4 467.9h0M234.7 436.1h0M234.5 447.8h0M235.1 443.5h0M235.2 451.9h0M235.4 461.5h0M234.6 465.2h0M234.5 455.2h0M235.2 444.5h0M234.7 471.1h0M234.2 430.9h0M234.6 449.4h0M234.7 459.8h0M235 444.6h0M235 484.7h0M237.4 468.4h0M236.7 428.9h0M237.3 471.6h0M237.4 464.4h0M237 458.2h0M237.1 446.5h0M237.2 439.9h0M237.8 477.7h0M237.5 447.3h0M237.7 459.5h0M236.9 481h0M239.5 464.4h0M239.4 433.5h0M239.8 457.4h0M239.5 455h0M239.1 455.1h0M240 464.3h0M239.6 469.8h0M240.3 426.4h0M239.9 485.8h0M241.3 492.9h0M242.1 429.5h0M241.8 449.3h0M242 437.7h0M242.3 468.6h0M241.9 444.6h0M244.3 439.1h0M244.1 443.8h0M245 453.6h0M245 449.6h0M244.3 466.6h0M244.7 478.9h0M244.2 486.2h0M243.8 457.8h0M245.1 476.5h0M244.4 479.2h0M245.1 471.1h0M245.3 440.2h0M247.2 475.8h0M247.4 482.2h0M246.8 440.1h0M246.4 471.4h0M247.3 489.9h0M247.2 478.7h0M246.3 427.3h0M247.8 440.4h0M247.2 483.3h0M250 433.5h0M248.9 449.7h0M249 479h0M249.7 502.4h0M249.3 440.8h0M249.9 424.3h0M250 445.9h0M249 477.7h0M248.7 450.8h0M252.2 453.4h0M252.1 446.5h0M252 478.4h0M252.5 443.5h0M251.9 491.8h0M252.7 449.9h0M253.8 472.1h0M254.8 447.5h0M254.8 436.7h0M253.7 425h0M254.1 434h0M253.7 471.2h0M254.5 468.6h0M254.1 465.4h0M256.3 481.4h0M257.7 428.4h0M256.3 447.4h0M257.5 432h0M256.4 451.1h0M256.4 502h0M257.3 494.7h0M257.6 451.9h0M256.8 492.9h0M259.4 459.9h0M259.2 485.9h0M260.1 475.8h0M259.3 474.1h0M259.9 470.1h0M258.8 441.1h0M258.9 435.8h0M259.2 439.3h0M259.8 501.8h0M259.1 470.2h0M258.8 475.4h0M262.6 476.1h0M262 444.6h0M261.4 458.9h0M261.9 477.2h0M261.3 496.1h0M262 439.1h0M262.6 490.9h0M261.7 473.5h0M261.7 442.1h0M261.3 491.7h0M261.9 451.1h0M261.3 433.7h0M261.3 424.8h0M264.6 494.1h0M264.5 493.3h0M263.8 461.4h0M263.7 454.6h0M264.3 469.7h0M263.7 458.8h0M264.7 434h0M264 467.2h0M264.1 436.5h0M264.8 471.2h0M264.4 473.8h0M264.7 479.1h0M263.8 456.8h0M264 445.3h0M266.1 472.3h0M267 466.6h0M266.3 441.4h0M267.1 471.5h0M267 474.2h0M266.5 442.6h0M266.1 442h0M266.5 448.8h0M267.3 442.3h0M269.4 427.7h0M269.9 429h0M268.7 464.8h0M269.2 430.8h0M269.3 427.6h0M269.8 486.6h0M269.1 458.4h0M269.2 447h0M270 449.2h0M269.3 494.1h0M269.6 493.2h0M269.5 453.2h0M268.7 427.3h0M268.5 480.7h0M271.7 486.4h0M272.1 460.2h0M271.1 499.9h0M272 455.9h0M271.9 455.8h0M271.4 473.9h0M271.7 456.4h0M271.2 498.6h0M271.4 480.4h0M271.5 421h0M274.4 425.1h0M273.6 429.8h0M274.7 423.2h0M274.4 457h0M273.6 489h0M274.3 430.4h0M274.3 467.4h0M273.8 480.7h0M274 465.2h0M274.9 487.3h0M274.6 424.3h0M276.1 482h0M277.2 477.4h0M277.4 461.4h0M277.2 472h0M276.1 431.6h0M275.9 471.1h0M276 480.9h0M277.4 426.4h0M276.3 460.9h0M276.5 430h0M276.4 477h0M279.7 446.5h0M279.2 443.5h0M278.8 491.7h0M278.7 456h0M278.3 436.7h0M279.7 463.1h0M278.5 492.2h0M278.9 438.9h0M279.5 475h0M279.4 450.9h0M278.9 445h0M278.8 481.5h0M279.9 472.1h0M280.9 430.4h0M282 468.5h0M281.5 464.1h0M282 429.7h0M281.5 471.3h0M281.8 456.4h0M281.9 471.2h0M282.3 453.6h0M281.3 461.9h0M283.4 464.5h0M284.9 462.9h0M283.4 453.2h0M284.7 474.4h0M283.5 468.1h0M283.8 464.6h0M283.7 442.2h0M287 466.9h0M287 451.9h0M285.8 485h0M286.1 460.5h0M286.5 457.1h0M287.2 472.7h0M286.7 446.7h0M289.2 452.6h0M289.5 463.7h0M289.2 472.2h0M289.6 446.5h0M289 467.4h0M289.1 452.8h0M289.5 456.4h0M289.2 460.8h0M289.6 441.1h0M290.8 468.9h0M291.5 466.2h0M292 456.5h0M291.4 451.7h0M291.4 451.1h0M291.9 457.9h0M291.1 449.1h0M291.7 466.6h0M291 456.5h0M293.5 458.1h0M296 459.3h0M298 457.2h0M414.2 473.1h0M413.9 467.6h0M414 470.9h0M414.4 455h0M414.4 453.3h0M414.5 478.8h0M417.1 476.7h0M416 468.9h0M416.7 483.4h0M416.3 448.5h0M416.6 470h0M417.4 461.6h0M416.3 483.8h0M417.6 477.7h0M417.3 451.9h0M419.8 471.5h0M420 486.3h0M419.2 481.3h0M419.4 483.1h0M419.2 486h0M419.4 446.3h0M419 458.9h0M419.1 449.9h0M420.4 470.1h0M419.3 448.5h0M422.7 449.1h0M422.7 444.9h0M422.6 446.5h0M421.9 483.8h0M422.3 484.7h0M422.1 479h0M423 466.7h0M422.5 449.5h0M422.8 468.2h0M423.1 463.3h0M425.7 451.4h0M425.3 446h0M425.6 453.3h0M424.9 481.7h0M425.1 457.9h0M425.1 476.3h0M428.4 459.6h0M427.7 478.7h0M427.6 463.5h0M428.2 480.8h0M427.7 456.7h0M428.6 468.3h0M427.7 483.3h0M428.1 455.8h0M428.1 484.3h0M429 483.8h0M430.6 465.8h0M430.9 465.1h0M431.5 463.3h0M431.2 462.5h0M431.8 471.5h0M434.1 472h0M434.5 468.5h0M434 473.2h0M434.7 438.8h0M433.3 458.5h0M433.5 453.2h0M434.4 481.3h0M433.7 468.6h0M433.3 452.9h0M436.4 440.3h0M437.2 464.2h0M437.3 459h0M436.9 468.8h0M436.4 462.5h0M436.5 485.7h0M437.2 473.1h0M436.7 453.6h0M440.1 485.1h0M440 454.3h0M440.2 437.9h0M438.9 463.4h0M439.9 480.6h0M440 485.5h0M439.3 487.7h0M439.8 469.1h0M438.9 475.7h0M441.8 465.1h0M443 445.4h0M441.9 451h0M443.1 467h0M442.4 471.2h0M442.7 483.4h0M445.7 444.2h0M445.6 461.8h0M446 454.1h0M445 462.9h0M445.8 471.4h0M444.9 445h0M448.8 455.7h0M447.9 446.6h0M447.4 471h0M447.9 441.6h0M448.1 466.7h0M448.5 484h0M448.3 438.8h0M451.5 456.8h0M450.6 475.3h0M451.5 465h0M451.3 484.7h0M451.1 467.4h0M451 462.7h0M450.5 452.9h0M453.4 438.8h0M453.8 469h0M453 460.1h0M453.3 456.9h0M453.5 444.5h0M453.1 434.2h0M453.1 444.6h0M453.2 474.8h0M454.3 445.7h0M456 452.9h0M456.3 455.3h0M456.6 470.3h0M456.6 452.1h0M456.1 486h0M457.3 467.9h0M456.8 450.2h0M459.9 456.1h0M460.2 464.7h0M459.8 428.6h0M459.7 485.6h0M459.1 481.3h0M459.5 480.7h0M459.7 474h0M462.3 478.3h0M462.6 439.8h0M461.6 469.4h0M461.8 454.9h0M462.2 459.7h0M462.5 474.8h0M461.8 449.6h0M462 441.1h0M462.4 471.2h0M462.6 467.9h0M465.8 454.1h0M465.2 453.3h0M465.4 458.7h0M465.6 460.8h0M464.8 451.8h0M465.7 451.4h0M465.7 436.4h0M465.2 485.7h0M465.4 480.2h0M465.6 424.8h0M467.9 443.4h0M468.5 462.7h0M467.8 454.8h0M468.3 453.6h0M468.1 464.9h0M468.7 433.4h0M467.7 433.2h0M467.7 474.6h0M476.1 473h0M476.2 442.5h0M476.3 481.3h0M475.5 429.7h0M476.4 465.4h0M476.5 430h0M475.3 484.2h0M476.6 443.2h0M476.6 460.3h0M478.9 485.8h0M478.5 458.3h0M479 463.9h0M478.5 472.2h0M478.7 468.8h0M479.7 459.8h0M479.1 438.6h0M479.2 468.9h0M478.8 452.7h0M481.6 488h0M481.8 469.6h0M481.5 475.3h0M481.3 480.2h0M481.9 458h0M481.3 459.9h0M481.8 457.1h0M481.1 457h0M481.8 470.4h0M481.4 480.3h0M484.5 434.8h0M485.1 444.3h0M484.6 453.1h0M485 454.9h0M485 439.1h0M484.8 442.1h0M484 456.3h0M484.9 454.2h0M485.5 431.4h0M487.1 446.8h0M487.5 444h0M487.7 452.3h0M488 440.9h0M488.2 452.4h0M488.4 446.3h0M487.2 454.6h0M487.8 441.1h0M487.4 432.7h0M487.7 434.6h0M487.3 438.5h0M488.1 449.1h0M490 458.6h0M490.9 435.8h0M489.9 448.8h0M490.5 451h0M490.7 453.6h0M490.1 455.5h0M491 450.2h0M490.2 441.7h0M490.8 440.3h0M490.2 441.1h0M491.2 443.3h0M490 451.6h0M494.3 444.9h0M494 447.2h0M494.2 439h0M493.7 447.7h0M493.7 446.1h0M493.3 456.8h0M492.9 443.8h0M492.9 444.3h0M494.3 442.3h0M493.3 453h0M493.3 432.5h0M493 435.6h0M496.6 433.7h0M495.9 427.3h0M495.9 439h0M496.7 439.8h0M496.4 446.5h0M496.2 432.7h0M495.9 450.1h0M495.9 444.3h0M496.3 454.5h0M499.7 436.4h0M499.7 435.2h0M499 439.6h0M500.1 452.1h0M499.1 444.5h0M499.6 457.4h0M498.6 455.1h0M498.8 452.3h0M498.8 447.8h0M503 442.5h0M501.6 437.8h0M502.6 446h0M502 448.4h0M502.6 453.7h0M502.4 435.8h0M501.5 454.4h0M502.4 444.2h0M502.1 430.6h0M502.9 444.9h0M502.1 450.8h0M502.5 440.1h0M502.9 447.4h0M504.9 441h0M504.6 447.4h0M505 443.2h0M505 454.4h0M505.6 442.3h0M505.3 450.2h0M505.7 454.5h0M505.6 436.8h0M505.1 438.1h0M505.3 456.1h0M505.9 441.3h0M504.7 430h0M504.6 444h0M507.8 432.6h0M508.9 430.3h0M508 433.4h0M507.9 449.6h0M507.6 433.1h0M507.3 433.6h0M508.2 440.3h0M507.3 448.4h0M508.6 443h0M508.3 446.9h0M510.5 448.2h0M511.4 446.1h0M511.1 445.2h0M510.7 450.6h0M510.5 436.9h0M510.8 446.1h0M510.8 437h0M511.1 451.9h0M510.2 454.3h0M511 443.6h0M511.3 432.3h0M510.4 447.1h0M145 416h0M152 423h0M189 421h0M211.9 419h0M240 417.6h0M297.5 431.4h0M293 433h0M142.8 494.4h0M150 494h0M182 496.4h0M232 499h0M232 503h0M250.6 504.6h0M462.8 413h0M451 422h0M487.5 422.8h0M415 487.8h0M433 491h0M575.1 438.7h0M575.1 448.9h0M577 450.7h0M587.1 452.3h0M587.1 468h0M587.1 471.5h0M608.1 450h0M608.1 460.2h0M616 457.9h0M617.6 441h0M619.2 443.2h0M621 445.5h0M623.2 448.9h0M623.9 453.4h0M625 430.8h0M625 437.6h0M618.3 469.2h0M642.4 434.9h0M642.4 440.3h0M645.8 444.4h0M656.4 447.1h0M672.9 450.7h0M683 444.4h0M686.5 443.2h0M689.2 441h0M689.2 448.9h0M684.2 448.9h0M709 444.4h0M714.7 445.5h0M297.5 462.4h0M289.7 435.3h0M293.8 452.1h0M289.4 440.1h0M290.1 448.9h0M288 442.5h0M290.9 463h0M292.8 442.2h0M288.2 448.4h0M287.1 439.2h0M291.7 435.1h0M291.3 445h0M294.6 458.9h0M294.4 456.8h0M289.6 456.1h0M289.1 452.6h0" stroke="#ff00ff" stroke-width="7.6" stroke-linecap="round" fill="none"/>
<g fill="none" stroke="#0000ff" stroke-width="2.0">
<circle cx="125.2" cy="449" r="3.25"/><circle cx="125.9" cy="487.5" r="3.25"/><circle cx="126" cy="455.5" r="3.25"/><circle cx="125.4" cy="452.5" r="3.25"/><circle cx="126.6" cy="454" r="3.25"/><circle cx="125.2" cy="471.1" r="3.25"/><circle cx="125.5" cy="467.5" r="3.25"/><circle cx="125.7" cy="483.6" r="3.25"/><circle cx="126.3" cy="448.2" r="3.25"/><circle cx="125.3" cy="466.5" r="3.25"/><circle cx="126.6" cy="447.6" r="3.25"/><circle cx="126.7" cy="434.7" r="3.25"/><circle cx="125.7" cy="445.1" r="3.25"/><circle cx="125.3" cy="484.4" r="3.25"/><circle cx="125.7" cy="472.5" r="3.25"/><circle cx="126.5" cy="457.5" r="3.25"/><circle cx="126.2" cy="479" r="3.25"/><circle cx="125.9" cy="443.9" r="3.25"/><circle cx="125.3" cy="446.5" r="3.25"/><circle cx="125.7" cy="458.5" r="3.25"/><circle cx="125.8" cy="444.6" r="3.25"/><circle cx="126.4" cy="459.7" r="3.25"/><circle cx="128.1" cy="451.8" r="3.25"/><circle cx="128" cy="481.3" r="3.25"/><circle cx="127.9" cy="469.1" r="3.25"/><circle cx="128.3" cy="461.3" r="3.25"/><circle cx="128.1" cy="458.4" r="3.25"/><circle cx="128.7" cy="486.3" r="3.25"/><circle cx="128.6" cy="437.9" r="3.25"/><circle cx="127.5" cy="436.3" r="3.25"/><circle cx="128.1" cy="450.5" r="3.25"/><circle cx="128" cy="449.7" r="3.25"/><circle cx="127.9" cy="480.8" r="3.25"/><circle cx="127.3" cy="466.4" r="3.25"/><circle cx="128" cy="462.8" r="3.25"/><circle cx="128.1" cy="475.6" r="3.25"/><circle cx="128.2" cy="442.4" r="3.25"/><circle cx="128.7" cy="485.2" r="3.25"/><circle cx="128.7" cy="477.1" r="3.25"/><circle cx="128.6" cy="485.3" r="3.25"/><circle cx="128.1" cy="451.3" r="3.25"/><circle cx="128.6" cy="474.8" r="3.25"/><circle cx="127.2" cy="492.2" r="3.25"/><circle cx="127.2" cy="454.8" r="3.25"/><circle cx="128.4" cy="478.6" r="3.25"/><circle cx="128.6" cy="445.5" r="3.25"/><circle cx="127.4" cy="451.8" r="3.25"/><circle cx="127.5" cy="458" r="3.25"/><circle cx="128.5" cy="472" r="3.25"/><circle cx="127.1" cy="484.6" r="3.25"/><circle cx="128" cy="437" r="3.25"/><circle cx="128.1" cy="445.2" r="3.25"/><circle cx="127.9" cy="472.5" r="3.25"/><circle cx="127.5" cy="465.8" r="3.25"/><circle cx="127.5" cy="459.9" r="3.25"/><circle cx="129.1" cy="452.9" r="3.25"/><circle cx="130.1" cy="482.9" r="3.25"/><circle cx="129" cy="472.8" r="3.25"/><circle cx="130.1" cy="459.2" r="3.25"/><circle cx="129.1" cy="452.1" r="3.25"/><circle cx="130.3" cy="466.4" r="3.25"/><circle cx="130.1" cy="473.1" r="3.25"/><circle cx="130.4" cy="471" r="3.25"/><circle cx="129.1" cy="446.7" r="3.25"/><circle cx="129.7" cy="470.3" r="3.25"/><circle cx="130.1" cy="436" r="3.25"/><circle cx="129" cy="440.5" r="3.25"/><circle cx="130.2" cy="446.9" r="3.25"/><circle cx="129.5" cy="454.1" r="3.25"/><circle cx="130.3" cy="479" r="3.25"/><circle cx="129.4" cy="482.8" r="3.25"/><circle cx="130" cy="455.7" r="3.25"/><circle cx="129.5" cy="448" r="3.25"/><circle cx="130.6" cy="490.7" r="3.25"/><circle cx="129.8" cy="439.3" r="3.25"/><circle cx="129.4" cy="455.8" r="3.25"/><circle cx="129.8" cy="481.8" r="3.25"/><circle cx="130.5" cy="435.9" r="3.25"/><circle cx="129.5" cy="437.4" r="3.25"/><circle cx="130.5" cy="463.8" r="3.25"/><circle cx="130.5" cy="441.9" r="3.25"/><circle cx="130" cy="455.9" r="3.25"/><circle cx="129.2" cy="470.9" r="3.25"/><circle cx="129.4" cy="462.6" r="3.25"/><circle cx="129.4" cy="458.4" r="3.25"/><circle cx="129.2" cy="457.6" r="3.25"/><circle cx="129.7" cy="457.2" r="3.25"/><circle cx="129.3" cy="459.6" r="3.25"/><circle cx="130.5" cy="450.4" r="3.25"/><circle cx="130.6" cy="473.4" r="3.25"/><circle cx="129.6" cy="459.2" r="3.25"/><circle cx="130.4" cy="454.3" r="3.25"/><circle cx="129.1" cy="439.9" r="3.25"/><circle cx="141.4" cy="463.2" r="3.25"/><circle cx="140.5" cy="451.1" r="3.25"/><circle cx="140.3" cy="451.3" r="3.25"/><circle cx="141.5" cy="467.7" r="3.25"/><circle cx="141.2" cy="458.9" r="3.25"/><circle cx="140.3" cy="465.8" r="3.25"/><circle cx="141.2" cy="466" r="3.25"/><circle cx="141.1" cy="455.2" r="3.25"/><circle cx="140.6" cy="459.5" r="3.25"/><circle cx="141.6" cy="458.6" r="3.25"/><circle cx="141" cy="459.1" r="3.25"/><circle cx="143.6" cy="469.9" r="3.25"/><circle cx="143.2" cy="452.6" r="3.25"/><circle cx="144.2" cy="461.9" r="3.25"/><circle cx="143.8" cy="461.1" r="3.25"/><circle cx="143.5" cy="455.4" r="3.25"/><circle cx="143.9" cy="446.4" r="3.25"/><circle cx="144.4" cy="443" r="3.25"/><circle cx="143.7" cy="439" r="3.25"/><circle cx="144.1" cy="456.3" r="3.25"/><circle cx="143.4" cy="448" r="3.25"/><circle cx="146.2" cy="478" r="3.25"/><circle cx="146.3" cy="443.9" r="3.25"/><circle cx="145.7" cy="439.7" r="3.25"/><circle cx="146.1" cy="447.8" r="3.25"/><circle cx="147" cy="467.8" r="3.25"/><circle cx="145.7" cy="456.1" r="3.25"/><circle cx="146.6" cy="445.9" r="3.25"/><circle cx="147" cy="470.6" r="3.25"/><circle cx="146.5" cy="466.4" r="3.25"/><circle cx="146.1" cy="453.8" r="3.25"/><circle cx="145.5" cy="466.6" r="3.25"/><circle cx="146.5" cy="445.6" r="3.25"/><circle cx="146.1" cy="465.9" r="3.25"/><circle cx="148.5" cy="442.5" r="3.25"/><circle cx="148.1" cy="460.7" r="3.25"/><circle cx="148.4" cy="441.4" r="3.25"/><circle cx="148.2" cy="452.4" r="3.25"/><circle cx="148.4" cy="444.2" r="3.25"/><circle cx="148.8" cy="458.8" r="3.25"/><circle cx="148.5" cy="478.6" r="3.25"/><circle cx="149.4" cy="478.1" r="3.25"/><circle cx="148.3" cy="448.9" r="3.25"/><circle cx="148.9" cy="439.5" r="3.25"/><circle cx="149" cy="465.8" r="3.25"/><circle cx="149.7" cy="449.4" r="3.25"/><circle cx="148.4" cy="458.1" r="3.25"/><circle cx="149.2" cy="436.8" r="3.25"/><circle cx="151.8" cy="451" r="3.25"/><circle cx="151.9" cy="454" r="3.25"/><circle cx="151.8" cy="463.6" r="3.25"/><circle cx="152" cy="466.3" r="3.25"/><circle cx="151.7" cy="478.9" r="3.25"/><circle cx="151" cy="443.1" r="3.25"/><circle cx="151.6" cy="450.7" r="3.25"/><circle cx="151.5" cy="461.8" r="3.25"/><circle cx="150.9" cy="436" r="3.25"/><circle cx="152.2" cy="470.4" r="3.25"/><circle cx="152.2" cy="436" r="3.25"/><circle cx="150.8" cy="450.6" r="3.25"/><circle cx="151.4" cy="448.2" r="3.25"/><circle cx="153.5" cy="443.3" r="3.25"/><circle cx="153.6" cy="473.9" r="3.25"/><circle cx="154.6" cy="445" r="3.25"/><circle cx="154" cy="454.4" r="3.25"/><circle cx="154.1" cy="462" r="3.25"/><circle cx="153.8" cy="459" r="3.25"/><circle cx="157.2" cy="465.8" r="3.25"/><circle cx="156.9" cy="476.5" r="3.25"/><circle cx="157.2" cy="474.3" r="3.25"/><circle cx="157.5" cy="446" r="3.25"/><circle cx="156.3" cy="464.5" r="3.25"/><circle cx="156.9" cy="446.7" r="3.25"/><circle cx="156.7" cy="454.5" r="3.25"/><circle cx="156.6" cy="451.4" r="3.25"/><circle cx="156" cy="440" r="3.25"/><circle cx="156.4" cy="461.5" r="3.25"/><circle cx="156" cy="458.4" r="3.25"/><circle cx="156.6" cy="455.7" r="3.25"/><circle cx="156.5" cy="474.9" r="3.25"/><circle cx="158.8" cy="445.7" r="3.25"/><circle cx="159" cy="466.7" r="3.25"/><circle cx="159.2" cy="458.8" r="3.25"/><circle cx="159.9" cy="462.5" r="3.25"/><circle cx="159.1" cy="463.7" r="3.25"/><circle cx="159.8" cy="463.8" r="3.25"/><circle cx="160.2" cy="464" r="3.25"/><circle cx="159.8" cy="453.3" r="3.25"/><circle cx="159" cy="460.1" r="3.25"/><circle cx="159.9" cy="448.7" r="3.25"/><circle cx="162.3" cy="453.5" r="3.25"/><circle cx="161.9" cy="456.6" r="3.25"/><circle cx="162.5" cy="461" r="3.25"/><circle cx="162" cy="463.8" r="3.25"/><circle cx="161.7" cy="456.3" r="3.25"/><circle cx="162.8" cy="453.1" r="3.25"/><circle cx="162" cy="461.6" r="3.25"/><circle cx="171.3" cy="462.6" r="3.25"/><circle cx="171.5" cy="472.1" r="3.25"/><circle cx="172.5" cy="462.9" r="3.25"/><circle cx="172.1" cy="452.1" r="3.25"/><circle cx="172.2" cy="466.7" r="3.25"/><circle cx="172.3" cy="458.9" r="3.25"/><circle cx="172.2" cy="461" r="3.25"/><circle cx="171.1" cy="457.7" r="3.25"/><circle cx="171.2" cy="459.9" r="3.25"/><circle cx="174.4" cy="436.6" r="3.25"/><circle cx="174.8" cy="451.7" r="3.25"/><circle cx="174.8" cy="458.4" r="3.25"/><circle cx="174.8" cy="458.2" r="3.25"/><circle cx="174.2" cy="451.4" r="3.25"/><circle cx="174.5" cy="465.8" r="3.25"/><circle cx="173.6" cy="465.8" r="3.25"/><circle cx="173.7" cy="462.4" r="3.25"/><circle cx="173.6" cy="474.4" r="3.25"/><circle cx="174" cy="451.3" r="3.25"/><circle cx="173.6" cy="441.7" r="3.25"/><circle cx="173.7" cy="469.3" r="3.25"/><circle cx="174.1" cy="468.5" r="3.25"/><circle cx="174.2" cy="477.3" r="3.25"/><circle cx="176.6" cy="482.3" r="3.25"/><circle cx="176.5" cy="464.7" r="3.25"/><circle cx="176.4" cy="439.7" r="3.25"/><circle cx="176.5" cy="463.2" r="3.25"/><circle cx="176.8" cy="478.9" r="3.25"/><circle cx="176.9" cy="467.1" r="3.25"/><circle cx="177.4" cy="476.4" r="3.25"/><circle cx="177.7" cy="482.7" r="3.25"/><circle cx="180.3" cy="459.8" r="3.25"/><circle cx="179.5" cy="435.5" r="3.25"/><circle cx="178.8" cy="469.9" r="3.25"/><circle cx="180.3" cy="439.4" r="3.25"/><circle cx="180.2" cy="457.9" r="3.25"/><circle cx="179.4" cy="447.8" r="3.25"/><circle cx="179.7" cy="447.6" r="3.25"/><circle cx="179.9" cy="471.2" r="3.25"/><circle cx="179.3" cy="467.3" r="3.25"/><circle cx="180.1" cy="458.4" r="3.25"/><circle cx="180.1" cy="459.5" r="3.25"/><circle cx="179.8" cy="459.8" r="3.25"/><circle cx="182.4" cy="452.1" r="3.25"/><circle cx="181.7" cy="472.3" r="3.25"/><circle cx="182.4" cy="455.7" r="3.25"/><circle cx="182.1" cy="467.5" r="3.25"/><circle cx="181.9" cy="487" r="3.25"/><circle cx="182.1" cy="467.3" r="3.25"/><circle cx="182.6" cy="474.8" r="3.25"/><circle cx="181.6" cy="446.4" r="3.25"/><circle cx="184.5" cy="440.2" r="3.25"/><circle cx="185.2" cy="452.5" r="3.25"/><circle cx="184.3" cy="450" r="3.25"/><circle cx="184.9" cy="487.6" r="3.25"/><circle cx="184.8" cy="444.1" r="3.25"/><circle cx="185.6" cy="438" r="3.25"/><circle cx="184.5" cy="471.9" r="3.25"/><circle cx="185.6" cy="449.6" r="3.25"/><circle cx="185" cy="464.2" r="3.25"/><circle cx="184.7" cy="467.5" r="3.25"/><circle cx="184.4" cy="452.7" r="3.25"/><circle cx="184.5" cy="476.7" r="3.25"/><circle cx="184.2" cy="452.3" r="3.25"/><circle cx="185.3" cy="484.5" r="3.25"/><circle cx="187.6" cy="447.2" r="3.25"/><circle cx="186.7" cy="449.4" r="3.25"/><circle cx="187.1" cy="449" r="3.25"/><circle cx="187.7" cy="468" r="3.25"/><circle cx="187.9" cy="450.7" r="3.25"/><circle cx="187.4" cy="483.8" r="3.25"/><circle cx="188.1" cy="466.5" r="3.25"/><circle cx="187.3" cy="473.2" r="3.25"/><circle cx="187.2" cy="466.7" r="3.25"/><circle cx="187.1" cy="443.1" r="3.25"/><circle cx="187" cy="448" r="3.25"/><circle cx="189.5" cy="479" r="3.25"/><circle cx="190.2" cy="446.7" r="3.25"/><circle cx="190.5" cy="448.5" r="3.25"/><circle cx="190.6" cy="453.7" r="3.25"/><circle cx="190.6" cy="459" r="3.25"/><circle cx="189.6" cy="470.7" r="3.25"/><circle cx="189.5" cy="468.1" r="3.25"/><circle cx="190.3" cy="476.7" r="3.25"/><circle cx="190.1" cy="467.7" r="3.25"/><circle cx="190.8" cy="447" r="3.25"/><circle cx="189.5" cy="449.3" r="3.25"/><circle cx="193.2" cy="474.8" r="3.25"/><circle cx="193.2" cy="465" r="3.25"/><circle cx="191.9" cy="453.8" r="3.25"/><circle cx="192.2" cy="463" r="3.25"/><circle cx="193" cy="472" r="3.25"/><circle cx="192.2" cy="462.9" r="3.25"/><circle cx="193.4" cy="451.7" r="3.25"/><circle cx="192.2" cy="452.7" r="3.25"/><circle cx="202.6" cy="467.1" r="3.25"/><circle cx="202.1" cy="467.4" r="3.25"/><circle cx="202.4" cy="456" r="3.25"/><circle cx="202.8" cy="463.2" r="3.25"/><circle cx="202" cy="456.7" r="3.25"/><circle cx="201.6" cy="455.9" r="3.25"/><circle cx="201.3" cy="463.1" r="3.25"/><circle cx="201.9" cy="453.5" r="3.25"/><circle cx="201.8" cy="466.8" r="3.25"/><circle cx="202.5" cy="462.3" r="3.25"/><circle cx="202" cy="475.1" r="3.25"/><circle cx="201.5" cy="464.4" r="3.25"/><circle cx="201.6" cy="455.2" r="3.25"/><circle cx="201.7" cy="466" r="3.25"/><circle cx="201.7" cy="453.3" r="3.25"/><circle cx="204.6" cy="474.4" r="3.25"/><circle cx="204.9" cy="463.1" r="3.25"/><circle cx="205.2" cy="462.2" r="3.25"/><circle cx="205.2" cy="462.3" r="3.25"/><circle cx="204.1" cy="457.5" r="3.25"/><circle cx="204.3" cy="469.5" r="3.25"/><circle cx="204.9" cy="452" r="3.25"/><circle cx="204.6" cy="439.7" r="3.25"/><circle cx="205.3" cy="458.6" r="3.25"/><circle cx="205.4" cy="477.4" r="3.25"/><circle cx="207.3" cy="475.3" r="3.25"/><circle cx="207.2" cy="442.1" r="3.25"/><circle cx="208.1" cy="462.2" r="3.25"/><circle cx="207.9" cy="461.2" r="3.25"/><circle cx="208.3" cy="467.8" r="3.25"/><circle cx="207.1" cy="452.8" r="3.25"/><circle cx="207.7" cy="482.9" r="3.25"/><circle cx="208" cy="479.3" r="3.25"/><circle cx="208.1" cy="453.5" r="3.25"/><circle cx="208.2" cy="453.6" r="3.25"/><circle cx="206.9" cy="453.9" r="3.25"/><circle cx="210.4" cy="459.7" r="3.25"/><circle cx="210.3" cy="459.1" r="3.25"/><circle cx="210.3" cy="436.8" r="3.25"/><circle cx="210.5" cy="434.2" r="3.25"/><circle cx="210.6" cy="475" r="3.25"/><circle cx="210.8" cy="445.3" r="3.25"/><circle cx="214.1" cy="451" r="3.25"/><circle cx="214" cy="467.6" r="3.25"/><circle cx="213.4" cy="466.4" r="3.25"/><circle cx="213.4" cy="450.4" r="3.25"/><circle cx="212.7" cy="469.5" r="3.25"/><circle cx="213" cy="445" r="3.25"/><circle cx="214.1" cy="460.8" r="3.25"/><circle cx="213.1" cy="453.6" r="3.25"/><circle cx="213" cy="457.1" r="3.25"/><circle cx="214" cy="466.6" r="3.25"/><circle cx="213.5" cy="456.8" r="3.25"/><circle cx="213.1" cy="456.5" r="3.25"/><circle cx="213.7" cy="470.1" r="3.25"/><circle cx="213.7" cy="485.3" r="3.25"/><circle cx="216.3" cy="450.5" r="3.25"/><circle cx="215.6" cy="482.5" r="3.25"/><circle cx="216.8" cy="443.1" r="3.25"/><circle cx="215.8" cy="470.3" r="3.25"/><circle cx="216" cy="472" r="3.25"/><circle cx="217" cy="473.5" r="3.25"/><circle cx="215.8" cy="450.2" r="3.25"/><circle cx="216.3" cy="449.2" r="3.25"/><circle cx="216.4" cy="448.1" r="3.25"/><circle cx="215.5" cy="453.8" r="3.25"/><circle cx="216.6" cy="476.6" r="3.25"/><circle cx="215.6" cy="451.2" r="3.25"/><circle cx="216.2" cy="443.1" r="3.25"/><circle cx="218.4" cy="464" r="3.25"/><circle cx="218.8" cy="472.7" r="3.25"/><circle cx="218.3" cy="461.5" r="3.25"/><circle cx="218.9" cy="463.3" r="3.25"/><circle cx="219.7" cy="466.3" r="3.25"/><circle cx="219.6" cy="451.5" r="3.25"/><circle cx="219.7" cy="453.4" r="3.25"/><circle cx="229.4" cy="459.9" r="3.25"/><circle cx="230.2" cy="469.9" r="3.25"/><circle cx="229.3" cy="456.6" r="3.25"/><circle cx="230.4" cy="455.7" r="3.25"/><circle cx="229.1" cy="471.3" r="3.25"/><circle cx="230.1" cy="453.7" r="3.25"/><circle cx="229.8" cy="452.9" r="3.25"/><circle cx="229.3" cy="463" r="3.25"/><circle cx="230.1" cy="459.2" r="3.25"/><circle cx="230.2" cy="459.6" r="3.25"/><circle cx="230.2" cy="459.6" r="3.25"/><circle cx="229.2" cy="462.2" r="3.25"/><circle cx="229.5" cy="468.7" r="3.25"/><circle cx="230.4" cy="454.2" r="3.25"/><circle cx="230.3" cy="453.7" r="3.25"/><circle cx="230.1" cy="463" r="3.25"/><circle cx="229.1" cy="446.2" r="3.25"/><circle cx="229.8" cy="454" r="3.25"/><circle cx="230.3" cy="463.8" r="3.25"/><circle cx="229.2" cy="468.5" r="3.25"/><circle cx="233" cy="446.8" r="3.25"/><circle cx="231.6" cy="454.6" r="3.25"/><circle cx="231.7" cy="467" r="3.25"/><circle cx="232.4" cy="461.4" r="3.25"/><circle cx="231.4" cy="453.1" r="3.25"/><circle cx="232.1" cy="458.5" r="3.25"/><circle cx="232.2" cy="453.5" r="3.25"/><circle cx="232.5" cy="465.8" r="3.25"/><circle cx="231.9" cy="467.5" r="3.25"/><circle cx="232.3" cy="475.6" r="3.25"/><circle cx="232.2" cy="462.3" r="3.25"/><circle cx="232.6" cy="470.8" r="3.25"/><circle cx="232.7" cy="450.9" r="3.25"/><circle cx="231.8" cy="438.3" r="3.25"/><circle cx="231.8" cy="454.5" r="3.25"/><circle cx="232.8" cy="444.1" r="3.25"/><circle cx="234.8" cy="478.8" r="3.25"/><circle cx="234.1" cy="458.5" r="3.25"/><circle cx="234" cy="460.3" r="3.25"/><circle cx="234.2" cy="483.9" r="3.25"/><circle cx="235.4" cy="455.8" r="3.25"/><circle cx="234.8" cy="451" r="3.25"/><circle cx="234.7" cy="463.5" r="3.25"/><circle cx="233.9" cy="453.6" r="3.25"/><circle cx="235.1" cy="470.3" r="3.25"/><circle cx="234.1" cy="452.6" r="3.25"/><circle cx="233.9" cy="472.7" r="3.25"/><circle cx="235.1" cy="457.9" r="3.25"/><circle cx="235" cy="464.9" r="3.25"/><circle cx="235.1" cy="454.9" r="3.25"/><circle cx="233.9" cy="477.7" r="3.25"/><circle cx="235.3" cy="468.1" r="3.25"/><circle cx="234.8" cy="455.9" r="3.25"/><circle cx="234.8" cy="474.8" r="3.25"/><circle cx="234.1" cy="453.2" r="3.25"/><circle cx="234.9" cy="455.6" r="3.25"/><circle cx="237.4" cy="454.4" r="3.25"/><circle cx="237.6" cy="483.6" r="3.25"/><circle cx="237" cy="463.8" r="3.25"/><circle cx="236.9" cy="474.3" r="3.25"/><circle cx="236.5" cy="435.5" r="3.25"/><circle cx="236.5" cy="477.5" r="3.25"/><circle cx="236.8" cy="463.2" r="3.25"/><circle cx="237.1" cy="455.9" r="3.25"/><circle cx="236.3" cy="479" r="3.25"/><circle cx="237.4" cy="479" r="3.25"/><circle cx="236.7" cy="451.4" r="3.25"/><circle cx="237.7" cy="463.5" r="3.25"/><circle cx="237.8" cy="467.3" r="3.25"/><circle cx="236.7" cy="462" r="3.25"/><circle cx="236.4" cy="472" r="3.25"/><circle cx="237.3" cy="440.6" r="3.25"/><circle cx="237.6" cy="449" r="3.25"/><circle cx="239.7" cy="470.4" r="3.25"/><circle cx="240.1" cy="459.6" r="3.25"/><circle cx="239.8" cy="459.8" r="3.25"/><circle cx="239.7" cy="474.8" r="3.25"/><circle cx="239.5" cy="459.8" r="3.25"/><circle cx="240" cy="457.7" r="3.25"/><circle cx="239.2" cy="481.9" r="3.25"/><circle cx="240" cy="473" r="3.25"/><circle cx="239.3" cy="448.4" r="3.25"/><circle cx="239.5" cy="459.7" r="3.25"/><circle cx="239.5" cy="435.3" r="3.25"/><circle cx="239.1" cy="459.5" r="3.25"/><circle cx="240.3" cy="454.2" r="3.25"/><circle cx="239.1" cy="461.3" r="3.25"/><circle cx="242.5" cy="464.6" r="3.25"/><circle cx="241.9" cy="441.8" r="3.25"/><circle cx="241.3" cy="458.1" r="3.25"/><circle cx="242.3" cy="480.5" r="3.25"/><circle cx="241.6" cy="432.5" r="3.25"/><circle cx="242.2" cy="472.6" r="3.25"/><circle cx="241.6" cy="449.8" r="3.25"/><circle cx="241.6" cy="440.5" r="3.25"/><circle cx="241.5" cy="444.1" r="3.25"/><circle cx="245" cy="465.7" r="3.25"/><circle cx="245.3" cy="444.4" r="3.25"/><circle cx="244.5" cy="451.8" r="3.25"/><circle cx="244.2" cy="446.8" r="3.25"/><circle cx="245.3" cy="483.8" r="3.25"/><circle cx="244.3" cy="479.3" r="3.25"/><circle cx="244.5" cy="441.3" r="3.25"/><circle cx="244.8" cy="481.6" r="3.25"/><circle cx="244.4" cy="468" r="3.25"/><circle cx="244.7" cy="465.2" r="3.25"/><circle cx="245.1" cy="441.1" r="3.25"/><circle cx="244.7" cy="473.2" r="3.25"/><circle cx="244.8" cy="462.1" r="3.25"/><circle cx="244.4" cy="446.1" r="3.25"/><circle cx="244.8" cy="473" r="3.25"/><circle cx="244" cy="455.6" r="3.25"/><circle cx="244.3" cy="483.2" r="3.25"/><circle cx="244.8" cy="472.2" r="3.25"/><circle cx="247.4" cy="438.1" r="3.25"/><circle cx="247.3" cy="440" r="3.25"/><circle cx="247.3" cy="475.3" r="3.25"/><circle cx="247.2" cy="452.1" r="3.25"/><circle cx="247.3" cy="473.4" r="3.25"/><circle cx="246.5" cy="469.3" r="3.25"/><circle cx="247.6" cy="464.1" r="3.25"/><circle cx="247.4" cy="441.6" r="3.25"/><circle cx="246.7" cy="467.3" r="3.25"/><circle cx="247.3" cy="459.2" r="3.25"/><circle cx="246.4" cy="471.6" r="3.25"/><circle cx="246.3" cy="489.7" r="3.25"/><circle cx="247.2" cy="489.3" r="3.25"/><circle cx="248.8" cy="462" r="3.25"/><circle cx="249.8" cy="472.7" r="3.25"/><circle cx="249.7" cy="461" r="3.25"/><circle cx="249.1" cy="450.7" r="3.25"/><circle cx="249.6" cy="434.5" r="3.25"/><circle cx="249.6" cy="485.6" r="3.25"/><circle cx="248.8" cy="476.6" r="3.25"/><circle cx="248.8" cy="483.7" r="3.25"/><circle cx="249.3" cy="475.3" r="3.25"/><circle cx="249.4" cy="464.7" r="3.25"/><circle cx="249.5" cy="441.2" r="3.25"/><circle cx="249.6" cy="440.8" r="3.25"/><circle cx="249.7" cy="461.3" r="3.25"/><circle cx="251.5" cy="464" r="3.25"/><circle cx="251.2" cy="460.9" r="3.25"/><circle cx="252.3" cy="438.7" r="3.25"/><circle cx="252.1" cy="438.7" r="3.25"/><circle cx="252.1" cy="435.7" r="3.25"/><circle cx="252.3" cy="457.9" r="3.25"/><circle cx="252.7" cy="487.7" r="3.25"/><circle cx="251.7" cy="433.2" r="3.25"/><circle cx="251.4" cy="452.1" r="3.25"/><circle cx="253.7" cy="477" r="3.25"/><circle cx="254.2" cy="457.4" r="3.25"/><circle cx="254.2" cy="447.1" r="3.25"/><circle cx="253.7" cy="466" r="3.25"/><circle cx="254" cy="462.5" r="3.25"/><circle cx="253.9" cy="474.5" r="3.25"/><circle cx="253.9" cy="429.7" r="3.25"/><circle cx="254.2" cy="455.2" r="3.25"/><circle cx="254.7" cy="471.3" r="3.25"/><circle cx="254.6" cy="458.4" r="3.25"/><circle cx="254.8" cy="472.8" r="3.25"/><circle cx="253.9" cy="455.3" r="3.25"/><circle cx="256.6" cy="467.2" r="3.25"/><circle cx="257" cy="448.7" r="3.25"/><circle cx="257.5" cy="482.5" r="3.25"/><circle cx="256.5" cy="443.7" r="3.25"/><circle cx="257.2" cy="454.1" r="3.25"/><circle cx="256.2" cy="479.2" r="3.25"/><circle cx="256.2" cy="469.7" r="3.25"/><circle cx="256.8" cy="452.1" r="3.25"/><circle cx="257.7" cy="455.9" r="3.25"/><circle cx="257" cy="444.8" r="3.25"/><circle cx="257.5" cy="437.9" r="3.25"/><circle cx="257.5" cy="432.1" r="3.25"/><circle cx="257.4" cy="470.7" r="3.25"/><circle cx="257" cy="467.6" r="3.25"/><circle cx="259.6" cy="460.2" r="3.25"/><circle cx="259.9" cy="458.5" r="3.25"/><circle cx="259.6" cy="429.5" r="3.25"/><circle cx="260" cy="463.3" r="3.25"/><circle cx="260" cy="451.8" r="3.25"/><circle cx="258.6" cy="451.8" r="3.25"/><circle cx="259.8" cy="490.4" r="3.25"/><circle cx="259.4" cy="463.8" r="3.25"/><circle cx="259.9" cy="434.4" r="3.25"/><circle cx="259.1" cy="446.9" r="3.25"/><circle cx="259" cy="436.3" r="3.25"/><circle cx="259.5" cy="459.9" r="3.25"/><circle cx="259" cy="468.3" r="3.25"/><circle cx="258.7" cy="435.5" r="3.25"/><circle cx="259.5" cy="431.3" r="3.25"/><circle cx="259.8" cy="472.5" r="3.25"/><circle cx="262.5" cy="438.2" r="3.25"/><circle cx="262.2" cy="466.6" r="3.25"/><circle cx="261.3" cy="456" r="3.25"/><circle cx="261.8" cy="451.8" r="3.25"/><circle cx="262.5" cy="430.6" r="3.25"/><circle cx="262.5" cy="451.7" r="3.25"/><circle cx="261.4" cy="437" r="3.25"/><circle cx="261.3" cy="427.5" r="3.25"/><circle cx="262.6" cy="445.4" r="3.25"/><circle cx="261.1" cy="485.4" r="3.25"/><circle cx="261.5" cy="487.9" r="3.25"/><circle cx="261.7" cy="464.8" r="3.25"/><circle cx="262.1" cy="428.5" r="3.25"/><circle cx="262.5" cy="446.5" r="3.25"/><circle cx="261.8" cy="449.1" r="3.25"/><circle cx="262.4" cy="472.9" r="3.25"/><circle cx="261.4" cy="463.1" r="3.25"/><circle cx="261.8" cy="431.5" r="3.25"/><circle cx="261.3" cy="450.1" r="3.25"/><circle cx="264.8" cy="475.5" r="3.25"/><circle cx="265" cy="466" r="3.25"/><circle cx="263.7" cy="440.7" r="3.25"/><circle cx="264.4" cy="472.3" r="3.25"/><circle cx="264.9" cy="444.4" r="3.25"/><circle cx="264.4" cy="464.6" r="3.25"/><circle cx="264.9" cy="473.7" r="3.25"/><circle cx="264.8" cy="440.8" r="3.25"/><circle cx="264" cy="439.6" r="3.25"/><circle cx="264.4" cy="482.6" r="3.25"/><circle cx="265" cy="464.7" r="3.25"/><circle cx="264.1" cy="444" r="3.25"/><circle cx="263.9" cy="421.4" r="3.25"/><circle cx="264.6" cy="490.2" r="3.25"/><circle cx="264.7" cy="449.9" r="3.25"/><circle cx="264.2" cy="444.2" r="3.25"/><circle cx="263.5" cy="487.5" r="3.25"/><circle cx="264.9" cy="481.1" r="3.25"/><circle cx="265" cy="465.5" r="3.25"/><circle cx="263.5" cy="443.6" r="3.25"/><circle cx="266.4" cy="487.2" r="3.25"/><circle cx="266.3" cy="439.5" r="3.25"/><circle cx="266.2" cy="460.5" r="3.25"/><circle cx="267.4" cy="470.8" r="3.25"/><circle cx="266.6" cy="462.3" r="3.25"/><circle cx="266.3" cy="457.6" r="3.25"/><circle cx="267.5" cy="487.9" r="3.25"/><circle cx="266.1" cy="458" r="3.25"/><circle cx="266.8" cy="450.7" r="3.25"/><circle cx="267.2" cy="460.9" r="3.25"/><circle cx="266.2" cy="448.8" r="3.25"/><circle cx="267" cy="460.6" r="3.25"/><circle cx="266.1" cy="475.3" r="3.25"/><circle cx="268.5" cy="468.1" r="3.25"/><circle cx="269.4" cy="479.9" r="3.25"/><circle cx="268.7" cy="460.4" r="3.25"/><circle cx="269.7" cy="464.3" r="3.25"/><circle cx="269.2" cy="438.8" r="3.25"/><circle cx="269" cy="466.2" r="3.25"/><circle cx="269.2" cy="469.1" r="3.25"/><circle cx="269.1" cy="456.7" r="3.25"/><circle cx="269.3" cy="491" r="3.25"/><circle cx="269.4" cy="445.6" r="3.25"/><circle cx="269.9" cy="479.4" r="3.25"/><circle cx="270" cy="436.3" r="3.25"/><circle cx="268.5" cy="469.5" r="3.25"/><circle cx="269.5" cy="468.9" r="3.25"/><circle cx="269.9" cy="472.4" r="3.25"/><circle cx="268.9" cy="455.2" r="3.25"/><circle cx="268.6" cy="453.1" r="3.25"/><circle cx="268.8" cy="472" r="3.25"/><circle cx="269.3" cy="430.3" r="3.25"/><circle cx="269.9" cy="466.3" r="3.25"/><circle cx="272.2" cy="481.4" r="3.25"/><circle cx="271.9" cy="490.5" r="3.25"/><circle cx="271.9" cy="489.6" r="3.25"/><circle cx="272.2" cy="471.8" r="3.25"/><circle cx="272.3" cy="438.8" r="3.25"/><circle cx="270.9" cy="460.1" r="3.25"/><circle cx="271.3" cy="428.5" r="3.25"/><circle cx="272.4" cy="480" r="3.25"/><circle cx="271.8" cy="465.6" r="3.25"/><circle cx="271.8" cy="462.3" r="3.25"/><circle cx="272.2" cy="489.3" r="3.25"/><circle cx="271.7" cy="481.3" r="3.25"/><circle cx="271.5" cy="428.3" r="3.25"/><circle cx="271" cy="489.4" r="3.25"/><circle cx="271.7" cy="458.8" r="3.25"/><circle cx="274.4" cy="476.9" r="3.25"/><circle cx="274.5" cy="460.4" r="3.25"/><circle cx="274.8" cy="464.7" r="3.25"/><circle cx="273.4" cy="431.8" r="3.25"/><circle cx="274.7" cy="473.6" r="3.25"/><circle cx="274.7" cy="469.4" r="3.25"/><circle cx="274.5" cy="467.7" r="3.25"/><circle cx="273.7" cy="478.4" r="3.25"/><circle cx="274.3" cy="484.4" r="3.25"/><circle cx="274.9" cy="462.9" r="3.25"/><circle cx="274.4" cy="487.3" r="3.25"/><circle cx="273.7" cy="466" r="3.25"/><circle cx="273.9" cy="437" r="3.25"/><circle cx="273.9" cy="481.8" r="3.25"/><circle cx="273.9" cy="463.9" r="3.25"/><circle cx="273.6" cy="441.2" r="3.25"/><circle cx="273.5" cy="450.9" r="3.25"/><circle cx="277" cy="444.4" r="3.25"/><circle cx="276.1" cy="458.3" r="3.25"/><circle cx="276.1" cy="453.2" r="3.25"/><circle cx="276.4" cy="474.9" r="3.25"/><circle cx="276.1" cy="482.8" r="3.25"/><circle cx="277.4" cy="442.4" r="3.25"/><circle cx="277.2" cy="440.7" r="3.25"/><circle cx="276.8" cy="474.6" r="3.25"/><circle cx="276.2" cy="446.5" r="3.25"/><circle cx="277.2" cy="487.9" r="3.25"/><circle cx="276.7" cy="469.3" r="3.25"/><circle cx="276.7" cy="487.6" r="3.25"/><circle cx="276.8" cy="442.6" r="3.25"/><circle cx="276.3" cy="438.2" r="3.25"/><circle cx="276.6" cy="448.4" r="3.25"/><circle cx="277.2" cy="470.4" r="3.25"/><circle cx="279.6" cy="475.6" r="3.25"/><circle cx="279.1" cy="452.2" r="3.25"/><circle cx="278.4" cy="443.7" r="3.25"/><circle cx="279.3" cy="447.2" r="3.25"/><circle cx="278.7" cy="434.5" r="3.25"/><circle cx="279" cy="477" r="3.25"/><circle cx="279.8" cy="465.4" r="3.25"/><circle cx="278.6" cy="443.2" r="3.25"/><circle cx="279.8" cy="476.3" r="3.25"/><circle cx="279.2" cy="467.2" r="3.25"/><circle cx="278.4" cy="463.8" r="3.25"/><circle cx="278.6" cy="477.2" r="3.25"/><circle cx="279.4" cy="466.8" r="3.25"/><circle cx="278.5" cy="479.2" r="3.25"/><circle cx="279" cy="457.3" r="3.25"/><circle cx="278.5" cy="446.7" r="3.25"/><circle cx="278.9" cy="432" r="3.25"/><circle cx="279.5" cy="477.1" r="3.25"/><circle cx="279.6" cy="459.5" r="3.25"/><circle cx="282.1" cy="466.3" r="3.25"/><circle cx="282.3" cy="448.5" r="3.25"/><circle cx="281.3" cy="455.6" r="3.25"/><circle cx="281.3" cy="478.7" r="3.25"/><circle cx="282.1" cy="468.4" r="3.25"/><circle cx="281.8" cy="449.2" r="3.25"/><circle cx="282.4" cy="453.5" r="3.25"/><circle cx="281.6" cy="450.9" r="3.25"/><circle cx="282.3" cy="449.4" r="3.25"/><circle cx="282.2" cy="460" r="3.25"/><circle cx="282.3" cy="473.7" r="3.25"/><circle cx="281.6" cy="475.2" r="3.25"/><circle cx="281.8" cy="466.7" r="3.25"/><circle cx="283.5" cy="471.8" r="3.25"/><circle cx="284.3" cy="444.7" r="3.25"/><circle cx="284.3" cy="469.4" r="3.25"/><circle cx="283.3" cy="465.9" r="3.25"/><circle cx="283.5" cy="465.3" r="3.25"/><circle cx="283.4" cy="455.1" r="3.25"/><circle cx="284.8" cy="455" r="3.25"/><circle cx="283.9" cy="464.7" r="3.25"/><circle cx="284.6" cy="460.9" r="3.25"/><circle cx="283.6" cy="464.7" r="3.25"/><circle cx="283.5" cy="450" r="3.25"/><circle cx="286.8" cy="456.1" r="3.25"/><circle cx="286.5" cy="458" r="3.25"/><circle cx="287" cy="467.7" r="3.25"/><circle cx="286.4" cy="471.4" r="3.25"/><circle cx="286.9" cy="450.3" r="3.25"/><circle cx="286.8" cy="460.2" r="3.25"/><circle cx="286" cy="471.5" r="3.25"/><circle cx="286.1" cy="462.6" r="3.25"/><circle cx="286.2" cy="472.1" r="3.25"/><circle cx="286.5" cy="467.4" r="3.25"/><circle cx="286.4" cy="465.6" r="3.25"/><circle cx="289.7" cy="461.4" r="3.25"/><circle cx="289.7" cy="464.8" r="3.25"/><circle cx="289" cy="457" r="3.25"/><circle cx="288.5" cy="461.1" r="3.25"/><circle cx="289.7" cy="461.3" r="3.25"/><circle cx="289.5" cy="463.4" r="3.25"/><circle cx="289.2" cy="455" r="3.25"/><circle cx="288.3" cy="465.8" r="3.25"/><circle cx="289.1" cy="465.7" r="3.25"/><circle cx="289" cy="463.4" r="3.25"/><circle cx="289.8" cy="470.2" r="3.25"/><circle cx="289.5" cy="471.7" r="3.25"/><circle cx="288.3" cy="464.4" r="3.25"/><circle cx="289" cy="451.9" r="3.25"/><circle cx="291.5" cy="461.4" r="3.25"/><circle cx="292.2" cy="462.3" r="3.25"/><circle cx="291.6" cy="459.8" r="3.25"/><circle cx="292.3" cy="454.7" r="3.25"/><circle cx="291.7" cy="461.8" r="3.25"/><circle cx="292.3" cy="453.7" r="3.25"/><circle cx="292.2" cy="457.8" r="3.25"/><circle cx="291" cy="458.5" r="3.25"/><circle cx="292.3" cy="461.6" r="3.25"/><circle cx="291.8" cy="461" r="3.25"/><circle cx="290.8" cy="461.7" r="3.25"/><circle cx="291.1" cy="458.9" r="3.25"/><circle cx="292" cy="464.1" r="3.25"/><circle cx="292" cy="458.1" r="3.25"/><circle cx="292" cy="459" r="3.25"/><circle cx="294.5" cy="460" r="3.25"/><circle cx="294.5" cy="458.1" r="3.25"/><circle cx="294.5" cy="460.2" r="3.25"/><circle cx="297" cy="457.8" r="3.25"/><circle cx="297" cy="460.6" r="3.25"/><circle cx="297" cy="460.7" r="3.25"/><circle cx="299" cy="458" r="3.25"/><circle cx="299" cy="458.8" r="3.25"/><circle cx="299" cy="459.2" r="3.25"/><circle cx="413.8" cy="457.6" r="3.25"/><circle cx="413.7" cy="458" r="3.25"/><circle cx="414.5" cy="466.4" r="3.25"/><circle cx="414.3" cy="464" r="3.25"/><circle cx="414" cy="467.6" r="3.25"/><circle cx="414.5" cy="471.1" r="3.25"/><circle cx="413.9" cy="466.1" r="3.25"/><circle cx="414.7" cy="456" r="3.25"/><circle cx="414.4" cy="456.5" r="3.25"/><circle cx="416.8" cy="464.5" r="3.25"/><circle cx="417.4" cy="454.1" r="3.25"/><circle cx="416.7" cy="465.8" r="3.25"/><circle cx="417.1" cy="471.9" r="3.25"/><circle cx="416.9" cy="472.2" r="3.25"/><circle cx="416.4" cy="453.3" r="3.25"/><circle cx="417.5" cy="478.4" r="3.25"/><circle cx="416.4" cy="467.9" r="3.25"/><circle cx="417.6" cy="457.9" r="3.25"/><circle cx="416.9" cy="478" r="3.25"/><circle cx="417" cy="457.1" r="3.25"/><circle cx="416.3" cy="458.2" r="3.25"/><circle cx="417.4" cy="476.7" r="3.25"/><circle cx="417" cy="453.2" r="3.25"/><circle cx="419.3" cy="465.5" r="3.25"/><circle cx="419.5" cy="463.7" r="3.25"/><circle cx="419" cy="472" r="3.25"/><circle cx="420" cy="463.1" r="3.25"/><circle cx="419.9" cy="464.2" r="3.25"/><circle cx="420.3" cy="452.6" r="3.25"/><circle cx="419.6" cy="466.8" r="3.25"/><circle cx="420" cy="461.6" r="3.25"/><circle cx="419" cy="465.9" r="3.25"/><circle cx="420.2" cy="459.5" r="3.25"/><circle cx="420.3" cy="472.5" r="3.25"/><circle cx="419.8" cy="456.3" r="3.25"/><circle cx="419.8" cy="459.1" r="3.25"/><circle cx="419.5" cy="474.7" r="3.25"/><circle cx="419.2" cy="458.4" r="3.25"/><circle cx="423.3" cy="470.4" r="3.25"/><circle cx="421.9" cy="452.1" r="3.25"/><circle cx="422.5" cy="467.1" r="3.25"/><circle cx="422.8" cy="470.3" r="3.25"/><circle cx="423" cy="470.5" r="3.25"/><circle cx="421.7" cy="448.4" r="3.25"/><circle cx="422.2" cy="474.5" r="3.25"/><circle cx="422.1" cy="473.8" r="3.25"/><circle cx="422.6" cy="467.8" r="3.25"/><circle cx="422.3" cy="453.8" r="3.25"/><circle cx="423" cy="463" r="3.25"/><circle cx="422.2" cy="472.1" r="3.25"/><circle cx="422.9" cy="478.3" r="3.25"/><circle cx="422.9" cy="461.4" r="3.25"/><circle cx="421.8" cy="475" r="3.25"/><circle cx="424.7" cy="476.5" r="3.25"/><circle cx="424.8" cy="445.9" r="3.25"/><circle cx="425.5" cy="460.9" r="3.25"/><circle cx="424.9" cy="449.7" r="3.25"/><circle cx="425.5" cy="459.8" r="3.25"/><circle cx="425.4" cy="451.1" r="3.25"/><circle cx="424.9" cy="468.6" r="3.25"/><circle cx="425" cy="469.3" r="3.25"/><circle cx="425.2" cy="476.9" r="3.25"/><circle cx="427.6" cy="456.7" r="3.25"/><circle cx="428.6" cy="459.1" r="3.25"/><circle cx="428.3" cy="478.9" r="3.25"/><circle cx="427.8" cy="468.2" r="3.25"/><circle cx="428.4" cy="470.8" r="3.25"/><circle cx="427.9" cy="461" r="3.25"/><circle cx="428.1" cy="475.3" r="3.25"/><circle cx="428" cy="458.2" r="3.25"/><circle cx="427.5" cy="474.9" r="3.25"/><circle cx="428.8" cy="463" r="3.25"/><circle cx="428.7" cy="449.6" r="3.25"/><circle cx="427.7" cy="450.9" r="3.25"/><circle cx="428.3" cy="467.5" r="3.25"/><circle cx="428.6" cy="463.6" r="3.25"/><circle cx="427.5" cy="461.3" r="3.25"/><circle cx="430.8" cy="450.8" r="3.25"/><circle cx="430.5" cy="458.6" r="3.25"/><circle cx="430.6" cy="473.7" r="3.25"/><circle cx="430.8" cy="465.3" r="3.25"/><circle cx="431.5" cy="456.1" r="3.25"/><circle cx="431.8" cy="451.3" r="3.25"/><circle cx="431.7" cy="476.8" r="3.25"/><circle cx="431.6" cy="439.5" r="3.25"/><circle cx="433.5" cy="466.2" r="3.25"/><circle cx="434.5" cy="447" r="3.25"/><circle cx="433.9" cy="457.3" r="3.25"/><circle cx="434.3" cy="473.9" r="3.25"/><circle cx="433.4" cy="458" r="3.25"/><circle cx="433.2" cy="458.6" r="3.25"/><circle cx="434.3" cy="454.8" r="3.25"/><circle cx="434.7" cy="445.5" r="3.25"/><circle cx="434.6" cy="459.2" r="3.25"/><circle cx="433.5" cy="437.5" r="3.25"/><circle cx="433.7" cy="472.3" r="3.25"/><circle cx="434.3" cy="457.3" r="3.25"/><circle cx="433.6" cy="460.4" r="3.25"/><circle cx="436" cy="467.2" r="3.25"/><circle cx="436" cy="444.5" r="3.25"/><circle cx="436.3" cy="462.6" r="3.25"/><circle cx="436" cy="456.6" r="3.25"/><circle cx="437.5" cy="452.4" r="3.25"/><circle cx="436.6" cy="450.8" r="3.25"/><circle cx="436.2" cy="457.6" r="3.25"/><circle cx="436.2" cy="447.7" r="3.25"/><circle cx="436.9" cy="450.7" r="3.25"/><circle cx="436.7" cy="475.3" r="3.25"/><circle cx="436.7" cy="457.6" r="3.25"/><circle cx="437.3" cy="470.9" r="3.25"/><circle cx="440.3" cy="444.4" r="3.25"/><circle cx="439.9" cy="470.9" r="3.25"/><circle cx="439.3" cy="442.8" r="3.25"/><circle cx="439.4" cy="461.1" r="3.25"/><circle cx="439.8" cy="453" r="3.25"/><circle cx="440.1" cy="440.9" r="3.25"/><circle cx="439.3" cy="454.9" r="3.25"/><circle cx="438.9" cy="454" r="3.25"/><circle cx="440.2" cy="466.1" r="3.25"/><circle cx="440.2" cy="453.6" r="3.25"/><circle cx="438.8" cy="476.2" r="3.25"/><circle cx="438.8" cy="463.3" r="3.25"/><circle cx="439.7" cy="461.5" r="3.25"/><circle cx="439.1" cy="451.6" r="3.25"/><circle cx="441.7" cy="453.1" r="3.25"/><circle cx="442.6" cy="461.3" r="3.25"/><circle cx="441.7" cy="461.7" r="3.25"/><circle cx="442.7" cy="454.3" r="3.25"/><circle cx="441.8" cy="463.6" r="3.25"/><circle cx="442.9" cy="460.7" r="3.25"/><circle cx="441.9" cy="477.9" r="3.25"/><circle cx="443.1" cy="459.3" r="3.25"/><circle cx="442.4" cy="461.9" r="3.25"/><circle cx="444.7" cy="456.9" r="3.25"/><circle cx="444.6" cy="477.2" r="3.25"/><circle cx="445.6" cy="469.7" r="3.25"/><circle cx="445.8" cy="429.2" r="3.25"/><circle cx="445.1" cy="459.9" r="3.25"/><circle cx="444.6" cy="437.9" r="3.25"/><circle cx="445.1" cy="460.3" r="3.25"/><circle cx="446" cy="451.7" r="3.25"/><circle cx="445" cy="442.1" r="3.25"/><circle cx="447.7" cy="435.4" r="3.25"/><circle cx="448.6" cy="456.5" r="3.25"/><circle cx="448.1" cy="453" r="3.25"/><circle cx="448.7" cy="455" r="3.25"/><circle cx="448.5" cy="474" r="3.25"/><circle cx="448.4" cy="444.8" r="3.25"/><circle cx="447.8" cy="466.5" r="3.25"/><circle cx="448.4" cy="432.1" r="3.25"/><circle cx="448.2" cy="453.1" r="3.25"/><circle cx="448.6" cy="453.9" r="3.25"/><circle cx="450.4" cy="436.8" r="3.25"/><circle cx="450.2" cy="435.8" r="3.25"/><circle cx="451.5" cy="431.5" r="3.25"/><circle cx="450.2" cy="443.1" r="3.25"/><circle cx="451.4" cy="445.7" r="3.25"/><circle cx="450.8" cy="471.6" r="3.25"/><circle cx="451.1" cy="477.4" r="3.25"/><circle cx="450.3" cy="434.2" r="3.25"/><circle cx="451.7" cy="461.9" r="3.25"/><circle cx="450.4" cy="464.4" r="3.25"/><circle cx="450.4" cy="455.1" r="3.25"/><circle cx="454.4" cy="438.4" r="3.25"/><circle cx="453.2" cy="465.2" r="3.25"/><circle cx="453.6" cy="447.4" r="3.25"/><circle cx="454.3" cy="476.5" r="3.25"/><circle cx="453.7" cy="471.4" r="3.25"/><circle cx="453" cy="435" r="3.25"/><circle cx="454.2" cy="445.8" r="3.25"/><circle cx="454.4" cy="456" r="3.25"/><circle cx="454.3" cy="454" r="3.25"/><circle cx="453.4" cy="444.3" r="3.25"/><circle cx="453.9" cy="436.8" r="3.25"/><circle cx="453.3" cy="452.6" r="3.25"/><circle cx="453.5" cy="437.2" r="3.25"/><circle cx="456.6" cy="459.2" r="3.25"/><circle cx="455.9" cy="454.4" r="3.25"/><circle cx="456.4" cy="467.2" r="3.25"/><circle cx="455.9" cy="446.7" r="3.25"/><circle cx="456.1" cy="475.3" r="3.25"/><circle cx="457.1" cy="461.5" r="3.25"/><circle cx="456.3" cy="453.9" r="3.25"/><circle cx="457.3" cy="450.8" r="3.25"/><circle cx="455.9" cy="431.6" r="3.25"/><circle cx="456.3" cy="468.3" r="3.25"/><circle cx="458.9" cy="478.9" r="3.25"/><circle cx="459.7" cy="430.2" r="3.25"/><circle cx="458.8" cy="428.4" r="3.25"/><circle cx="459.5" cy="432.4" r="3.25"/><circle cx="459" cy="444.2" r="3.25"/><circle cx="459.1" cy="460.5" r="3.25"/><circle cx="459.5" cy="465.3" r="3.25"/><circle cx="460" cy="468" r="3.25"/><circle cx="459.3" cy="439.6" r="3.25"/><circle cx="459.1" cy="475.4" r="3.25"/><circle cx="459" cy="464.8" r="3.25"/><circle cx="461.6" cy="474.4" r="3.25"/><circle cx="462.6" cy="438.1" r="3.25"/><circle cx="462.7" cy="464.7" r="3.25"/><circle cx="462.4" cy="449.7" r="3.25"/><circle cx="461.9" cy="435.9" r="3.25"/><circle cx="461.7" cy="476.2" r="3.25"/><circle cx="461.7" cy="459.2" r="3.25"/><circle cx="463" cy="449.2" r="3.25"/><circle cx="462.4" cy="442.3" r="3.25"/><circle cx="462.6" cy="449.5" r="3.25"/><circle cx="462.1" cy="461.4" r="3.25"/><circle cx="462" cy="447.7" r="3.25"/><circle cx="462.5" cy="473.8" r="3.25"/><circle cx="462.5" cy="443" r="3.25"/><circle cx="461.9" cy="472.9" r="3.25"/><circle cx="464.9" cy="446.1" r="3.25"/><circle cx="465.2" cy="459.9" r="3.25"/><circle cx="465.3" cy="482" r="3.25"/><circle cx="464.7" cy="460" r="3.25"/><circle cx="465.2" cy="448.8" r="3.25"/><circle cx="464.5" cy="431.8" r="3.25"/><circle cx="465.1" cy="456.4" r="3.25"/><circle cx="465.4" cy="450.8" r="3.25"/><circle cx="464.4" cy="434.3" r="3.25"/><circle cx="465.2" cy="443.2" r="3.25"/><circle cx="464.7" cy="431.9" r="3.25"/><circle cx="464.8" cy="431.9" r="3.25"/><circle cx="464.7" cy="456.2" r="3.25"/><circle cx="465" cy="464.6" r="3.25"/><circle cx="465" cy="478.1" r="3.25"/><circle cx="467.6" cy="478.6" r="3.25"/><circle cx="467.7" cy="457.7" r="3.25"/><circle cx="467.9" cy="448.9" r="3.25"/><circle cx="467.3" cy="459" r="3.25"/><circle cx="467.9" cy="437.9" r="3.25"/><circle cx="468.2" cy="455.6" r="3.25"/><circle cx="467.6" cy="470.5" r="3.25"/><circle cx="467.8" cy="441.3" r="3.25"/><circle cx="468" cy="436.3" r="3.25"/><circle cx="468.5" cy="436.2" r="3.25"/><circle cx="467.6" cy="462.7" r="3.25"/><circle cx="467.3" cy="456.2" r="3.25"/><circle cx="476.6" cy="442" r="3.25"/><circle cx="475.5" cy="488.4" r="3.25"/><circle cx="475.5" cy="479.3" r="3.25"/><circle cx="476.3" cy="475.3" r="3.25"/><circle cx="475.9" cy="444.5" r="3.25"/><circle cx="476.8" cy="454.9" r="3.25"/><circle cx="475.3" cy="485.1" r="3.25"/><circle cx="476.6" cy="469.2" r="3.25"/><circle cx="475.5" cy="452.3" r="3.25"/><circle cx="476.4" cy="464.5" r="3.25"/><circle cx="476" cy="460.3" r="3.25"/><circle cx="478.9" cy="462.1" r="3.25"/><circle cx="479.5" cy="457" r="3.25"/><circle cx="478.6" cy="448.9" r="3.25"/><circle cx="479.7" cy="479.4" r="3.25"/><circle cx="479.4" cy="451.2" r="3.25"/><circle cx="478.4" cy="450.8" r="3.25"/><circle cx="479" cy="485.8" r="3.25"/><circle cx="479.1" cy="461.3" r="3.25"/><circle cx="479.1" cy="441" r="3.25"/><circle cx="478.1" cy="440.9" r="3.25"/><circle cx="479.5" cy="478.9" r="3.25"/><circle cx="481.2" cy="485.6" r="3.25"/><circle cx="481.8" cy="462.9" r="3.25"/><circle cx="482.2" cy="469.1" r="3.25"/><circle cx="481.1" cy="473.3" r="3.25"/><circle cx="482.3" cy="455.8" r="3.25"/><circle cx="482.5" cy="454.4" r="3.25"/><circle cx="481.2" cy="457.7" r="3.25"/><circle cx="482.4" cy="452.9" r="3.25"/><circle cx="482" cy="459.3" r="3.25"/><circle cx="482.6" cy="452" r="3.25"/><circle cx="481.7" cy="467" r="3.25"/><circle cx="482.5" cy="446.9" r="3.25"/><circle cx="484.6" cy="448.7" r="3.25"/><circle cx="484.5" cy="478.2" r="3.25"/><circle cx="484.4" cy="476" r="3.25"/><circle cx="484.8" cy="461.9" r="3.25"/><circle cx="484.5" cy="473.7" r="3.25"/><circle cx="485" cy="463" r="3.25"/><circle cx="484.8" cy="483.9" r="3.25"/><circle cx="484.2" cy="477.6" r="3.25"/><circle cx="484.8" cy="459.9" r="3.25"/><circle cx="485.5" cy="477.2" r="3.25"/><circle cx="485" cy="458.9" r="3.25"/><circle cx="487.3" cy="461.3" r="3.25"/><circle cx="488.2" cy="478.6" r="3.25"/><circle cx="487.8" cy="486.7" r="3.25"/><circle cx="487.5" cy="472.3" r="3.25"/><circle cx="487.4" cy="484.2" r="3.25"/><circle cx="487.8" cy="480.1" r="3.25"/><circle cx="487.2" cy="461.2" r="3.25"/><circle cx="487.5" cy="453.8" r="3.25"/><circle cx="488.2" cy="466.5" r="3.25"/><circle cx="488.2" cy="485.9" r="3.25"/><circle cx="487.8" cy="453.1" r="3.25"/><circle cx="487.7" cy="481.9" r="3.25"/><circle cx="487.5" cy="476.1" r="3.25"/><circle cx="487" cy="467.4" r="3.25"/><circle cx="490.1" cy="449.9" r="3.25"/><circle cx="490.5" cy="466.5" r="3.25"/><circle cx="490.8" cy="444.1" r="3.25"/><circle cx="490.6" cy="481.8" r="3.25"/><circle cx="491.1" cy="479.7" r="3.25"/><circle cx="489.9" cy="458" r="3.25"/><circle cx="491" cy="477.8" r="3.25"/><circle cx="490.7" cy="474.4" r="3.25"/><circle cx="491" cy="471.4" r="3.25"/><circle cx="490.2" cy="463" r="3.25"/><circle cx="489.8" cy="454.5" r="3.25"/><circle cx="489.8" cy="465.5" r="3.25"/><circle cx="490.4" cy="480.2" r="3.25"/><circle cx="489.8" cy="458.6" r="3.25"/><circle cx="493.8" cy="458.6" r="3.25"/><circle cx="493.1" cy="477.6" r="3.25"/><circle cx="494.1" cy="481.5" r="3.25"/><circle cx="494" cy="485.8" r="3.25"/><circle cx="493.9" cy="467.3" r="3.25"/><circle cx="493" cy="473" r="3.25"/><circle cx="493.4" cy="482.5" r="3.25"/><circle cx="493.3" cy="480.6" r="3.25"/><circle cx="494.2" cy="482.3" r="3.25"/><circle cx="493.4" cy="468.5" r="3.25"/><circle cx="494.2" cy="470" r="3.25"/><circle cx="494" cy="449.9" r="3.25"/><circle cx="493" cy="464.1" r="3.25"/><circle cx="493.4" cy="480.6" r="3.25"/><circle cx="496.5" cy="478.3" r="3.25"/><circle cx="496.6" cy="470.2" r="3.25"/><circle cx="496.2" cy="453.4" r="3.25"/><circle cx="496.9" cy="455.7" r="3.25"/><circle cx="497.1" cy="453.6" r="3.25"/><circle cx="496.1" cy="466.8" r="3.25"/><circle cx="496.9" cy="468.4" r="3.25"/><circle cx="496.7" cy="473.1" r="3.25"/><circle cx="495.7" cy="456.6" r="3.25"/><circle cx="496.3" cy="471.8" r="3.25"/><circle cx="497" cy="474.1" r="3.25"/><circle cx="499.6" cy="478.1" r="3.25"/><circle cx="498.7" cy="456.9" r="3.25"/><circle cx="498.9" cy="466.4" r="3.25"/><circle cx="500.1" cy="458.8" r="3.25"/><circle cx="499.7" cy="459.1" r="3.25"/><circle cx="498.6" cy="478.4" r="3.25"/><circle cx="499.2" cy="461.5" r="3.25"/><circle cx="500" cy="456.2" r="3.25"/><circle cx="498.6" cy="480.8" r="3.25"/><circle cx="499.2" cy="467.2" r="3.25"/><circle cx="502.6" cy="478.9" r="3.25"/><circle cx="501.6" cy="460" r="3.25"/><circle cx="502.9" cy="470.1" r="3.25"/><circle cx="502.2" cy="468.5" r="3.25"/><circle cx="501.6" cy="457.5" r="3.25"/><circle cx="502.1" cy="478.7" r="3.25"/><circle cx="502" cy="462.5" r="3.25"/><circle cx="501.7" cy="469.4" r="3.25"/><circle cx="502.9" cy="469.4" r="3.25"/><circle cx="502.6" cy="458.4" r="3.25"/><circle cx="502.9" cy="461.4" r="3.25"/><circle cx="501.9" cy="474.4" r="3.25"/><circle cx="503" cy="456.2" r="3.25"/><circle cx="502.8" cy="472.2" r="3.25"/><circle cx="501.7" cy="470.8" r="3.25"/><circle cx="504.7" cy="474.7" r="3.25"/><circle cx="505.1" cy="471" r="3.25"/><circle cx="505" cy="465.6" r="3.25"/><circle cx="505.1" cy="470.5" r="3.25"/><circle cx="504.4" cy="459.1" r="3.25"/><circle cx="504.7" cy="478.7" r="3.25"/><circle cx="505.8" cy="467" r="3.25"/><circle cx="504.6" cy="471.7" r="3.25"/><circle cx="505.4" cy="458" r="3.25"/><circle cx="505.4" cy="460.8" r="3.25"/><circle cx="505" cy="456" r="3.25"/><circle cx="505.3" cy="466" r="3.25"/><circle cx="505.8" cy="460.2" r="3.25"/><circle cx="505.7" cy="475" r="3.25"/><circle cx="505.4" cy="475.3" r="3.25"/><circle cx="508.5" cy="477" r="3.25"/><circle cx="508.5" cy="458.6" r="3.25"/><circle cx="507.4" cy="476.4" r="3.25"/><circle cx="507.9" cy="466.5" r="3.25"/><circle cx="508.4" cy="458.5" r="3.25"/><circle cx="508.7" cy="462.6" r="3.25"/><circle cx="508.2" cy="460.2" r="3.25"/><circle cx="508.4" cy="462.9" r="3.25"/><circle cx="508.8" cy="465.4" r="3.25"/><circle cx="507.3" cy="476.9" r="3.25"/><circle cx="508.4" cy="468.8" r="3.25"/><circle cx="508.7" cy="458" r="3.25"/><circle cx="511" cy="460.9" r="3.25"/><circle cx="510.6" cy="464.6" r="3.25"/><circle cx="511" cy="467.7" r="3.25"/><circle cx="510.9" cy="468.6" r="3.25"/><circle cx="510.7" cy="473.8" r="3.25"/><circle cx="510.7" cy="458.6" r="3.25"/><circle cx="511" cy="461.8" r="3.25"/><circle cx="511.2" cy="465" r="3.25"/><circle cx="511.1" cy="474.3" r="3.25"/><circle cx="510.4" cy="461.8" r="3.25"/><circle cx="511.7" cy="465.1" r="3.25"/><circle cx="510.4" cy="465" r="3.25"/><circle cx="510.9" cy="472.2" r="3.25"/><circle cx="510.6" cy="469.7" r="3.25"/><circle cx="142.8" cy="508.2" r="3.25"/><circle cx="180" cy="428" r="3.25"/><circle cx="239.5" cy="424.5" r="3.25"/><circle cx="275.4" cy="426" r="3.25"/><circle cx="276" cy="428" r="3.25"/><circle cx="288.7" cy="494.4" r="3.25"/><circle cx="247.8" cy="501" r="3.25"/><circle cx="404" cy="455.3" r="3.25"/><circle cx="404" cy="467.6" r="3.25"/><circle cx="404" cy="471" r="3.25"/><circle cx="472.6" cy="423.7" r="3.25"/><circle cx="480" cy="430" r="3.25"/><circle cx="447" cy="490.5" r="3.25"/><circle cx="461.5" cy="491" r="3.25"/><circle cx="461" cy="487" r="3.25"/><circle cx="461.5" cy="484" r="3.25"/><circle cx="575.1" cy="451.1" r="3.25"/><circle cx="577" cy="450.7" r="3.25"/><circle cx="575.1" cy="459" r="3.25"/><circle cx="587.1" cy="453.4" r="3.25"/><circle cx="587.1" cy="465.8" r="3.25"/><circle cx="587.1" cy="472.6" r="3.25"/><circle cx="608.1" cy="487.3" r="3.25"/><circle cx="608.1" cy="490" r="3.25"/><circle cx="616.5" cy="471.5" r="3.25"/><circle cx="618.3" cy="470.3" r="3.25"/><circle cx="619.8" cy="473.7" r="3.25"/><circle cx="623.2" cy="472.6" r="3.25"/><circle cx="624.4" cy="476" r="3.25"/><circle cx="621" cy="480.5" r="3.25"/><circle cx="623.2" cy="482.8" r="3.25"/><circle cx="619.8" cy="485" r="3.25"/><circle cx="622.1" cy="487.3" r="3.25"/><circle cx="625.5" cy="486.8" r="3.25"/><circle cx="617.6" cy="490.7" r="3.25"/><circle cx="624.4" cy="493" r="3.25"/><circle cx="621" cy="489.5" r="3.25"/><circle cx="642.4" cy="474.8" r="3.25"/><circle cx="642.4" cy="482" r="3.25"/><circle cx="645.8" cy="469.9" r="3.25"/><circle cx="647" cy="471.5" r="3.25"/><circle cx="656.4" cy="474.4" r="3.25"/><circle cx="672.9" cy="473.7" r="3.25"/><circle cx="674" cy="473.3" r="3.25"/><circle cx="683" cy="465.8" r="3.25"/><circle cx="689.2" cy="461.7" r="3.25"/><circle cx="690.5" cy="469.2" r="3.25"/><circle cx="686.5" cy="472.6" r="3.25"/><circle cx="687.6" cy="473.7" r="3.25"/><circle cx="688.7" cy="474.2" r="3.25"/><circle cx="683" cy="472.6" r="3.25"/><circle cx="682" cy="478.2" r="3.25"/><circle cx="684.2" cy="482.3" r="3.25"/><circle cx="686" cy="471.5" r="3.25"/><circle cx="709" cy="463.6" r="3.25"/><circle cx="709" cy="475.5" r="3.25"/><circle cx="714.7" cy="469.9" r="3.25"/><circle cx="714.7" cy="473.7" r="3.25"/>
</g>
<path d="M86.5 461.2H755.5" stroke="#000" stroke-width="1.8" stroke-dasharray="2.8 3.2" fill="none"/>
<path d="M485.7 377.6V544.7" stroke="#000" stroke-width="1.8" stroke-dasharray="2.8 3.2" fill="none"/>
<path d="M127 560.5h0M127 585h0M127 607.7h0M127 636.6h0M126.5 645h0M127 655h0M126.5 663h0M127 670h0M147 577h0M151 578h0M155 579.5h0M177.8 577.6h0M203 577h0M207 580h0M288.7 576h0M234 590h0M237 590h0M240 590h0M243 590h0M246 590h0M249 590h0M252 590h0M255 590h0M258 590h0M261 590h0M264 590h0M267 590h0M270 590h0M273 590h0M276 590h0M279 590h0M282 590h0M285 590h0M288 590h0M236 594h0M240 597h0M245 598h0M249 594h0M185.3 597.7h0M214 597h0M172.7 604h0M143 626.5h0M146 626.5h0M149 626.5h0M152 626.5h0M155 626.5h0M158 626.5h0M170 626.5h0M173 626.5h0M176 626.5h0M179 626.5h0M182 626.5h0M185 626.5h0M188 626.5h0M203 626.5h0M206 626.5h0M209 626.5h0M212 626.5h0M215 626.5h0M218 626.5h0M221 626.5h0M224 626.5h0M227 626.5h0M230 626.5h0M233 626.5h0M236 626.5h0M239 626.5h0M242 626.5h0M245 626.5h0M248 626.5h0M251 626.5h0M254 626.5h0M257 626.5h0M260 626.5h0M263 626.5h0M266 626.5h0M269 626.5h0M272 626.5h0M275 626.5h0M278 626.5h0M281 626.5h0M284 626.5h0M176.5 696.8h0M178 699h0M241.7 700h0M274.4 700h0M298 681.7h0M293 680h0M296 684h0M140.7 681.9h0M141 666.1h0M141.1 673.4h0M141.9 672.4h0M142.4 652.8h0M142.4 675.8h0M144.2 652.8h0M143.6 652.1h0M145.7 685.4h0M145.4 679.7h0M145.9 678.2h0M145.7 653h0M149.3 683.5h0M149.6 680h0M147.2 664.3h0M147 670.6h0M151.6 671.8h0M152.9 684.1h0M150.4 680.7h0M151.1 655.4h0M155.3 669.5h0M154.1 679.2h0M152.8 671.5h0M154 685.5h0M158.9 665.9h0M158.7 663.2h0M156.2 669.9h0M158 682.4h0M158.4 660.1h0M158.8 664.4h0M160.6 654h0M159.5 679.6h0M163.3 672h0M163.6 654h0M163.8 671.4h0M161.8 680.1h0M172.1 664.4h0M173.1 667.6h0M171.7 673.5h0M172 684.7h0M174.5 666.4h0M174.2 664.4h0M174.7 670.4h0M174 656.6h0M178.1 676.7h0M178 672h0M178 664.1h0M178.5 672.6h0M178.3 672.1h0M179.6 673.2h0M177.8 682.4h0M179.5 668.9h0M182.9 682.9h0M182.3 677.9h0M180.5 679.6h0M180.6 657.3h0M185.9 664.9h0M184.5 663.5h0M185.2 662.2h0M185.4 654.9h0M187.9 673.5h0M188.9 676.3h0M187 652.3h0M187.8 676.1h0M192 672h0M191.7 674.3h0M190.5 662.4h0M190.1 678.4h0M193.1 679.6h0M193.1 667.2h0M191.9 661.5h0M192 653.6h0M204.1 652.2h0M202.5 671.8h0M202.3 664.8h0M202.3 659.9h0M205.3 655.6h0M204.6 661.3h0M206.6 668h0M204.5 683.9h0M208.7 679.6h0M207.8 668.5h0M206.7 664.6h0M209.1 659.5h0M211.9 664.9h0M210 664.5h0M211.3 660.8h0M211.9 662h0M212 669.7h0M213.1 662.2h0M212.3 663.6h0M212.7 664.3h0M216.7 672h0M215.9 677.8h0M216.9 680.3h0M215.4 664.9h0M219.4 659.1h0M220.3 665.2h0M220.1 669h0M219.4 682.2h0M231.4 668.8h0M230 675.4h0M231 659.7h0M229.2 666.4h0M231.5 681.6h0M232 661.5h0M232.2 683.3h0M231.7 663.4h0M236.4 680.5h0M234.8 662.9h0M233.5 676.8h0M234.2 669.4h0M236.7 658.4h0M238.6 677.3h0M236.8 671.9h0M237.6 655.1h0M239.5 669.9h0M239.9 674.4h0M238.8 656.2h0M238.8 652.2h0M242.6 660.7h0M242.5 668h0M240.4 665.9h0M241.6 682.2h0M245.5 652.1h0M245.6 685.3h0M244.2 676.2h0M244.1 678.1h0M247.3 657.4h0M248.6 658.8h0M247.2 664.4h0M247 659.6h0M249 676.4h0M248.9 654.6h0M248.3 677.1h0M250.1 682.8h0M251.1 657.9h0M252.1 673.7h0M251.9 675.8h0M251.4 664.4h0M255.3 652.5h0M255 653.2h0M255.2 666.4h0M253.2 683.6h0M257.8 684.4h0M255.7 657.6h0M256.8 652.9h0M256.6 666.4h0M258.8 661.7h0M260 661.4h0M259.2 664h0M259.2 673.1h0M263 682.8h0M262.8 659.2h0M261 670.1h0M263.9 679h0M264.4 664.8h0M264.9 654.7h0M266.2 656.6h0M263.3 682.9h0M268.5 661.2h0M267.3 680.2h0M267.4 660.2h0M266.8 681.3h0M270.3 658h0M270.4 674.5h0M268.3 657.3h0M268.5 667.1h0M272.5 654.5h0M272.3 672.4h0M272.6 682.5h0M271.7 660.3h0M273.3 652.6h0M273.6 659h0M274.9 655.1h0M272.2 669.6h0M275.4 670.6h0M274.9 663h0M277.4 672.5h0M276.1 683.7h0M279.2 661.3h0M280 671.4h0M279.8 679.4h0M279.3 662.2h0M281.3 668.7h0M280.1 655.7h0M282.6 658h0M281 675.7h0M283.7 653.7h0M283.4 652.3h0M283 654.2h0M285.3 670h0M288.2 661.3h0M286.5 674.8h0M287.3 661.2h0M285.7 680.2h0M288.9 665.8h0M289.6 674.9h0M287.6 661.2h0M289.7 683.8h0M291.7 663.6h0M290.7 661.2h0M291.7 653.6h0M291.1 660.7h0M157.7 641.4h0M151.8 650.5h0M154.6 646h0M160.4 635.8h0M143.1 653.7h0M158.4 654.5h0M151.6 641.8h0M161.9 646.3h0M149 642h0M181.5 633.4h0M173.8 646.6h0M186.6 652.3h0M183.8 635.4h0M186.5 635.7h0M182.8 636.6h0M176.6 652h0M183.3 649.2h0M173.7 642.3h0M209.2 654.5h0M216.6 650.9h0M215.3 633.5h0M217.4 648.7h0M215.7 641.8h0M206.7 643.4h0M209.5 634.4h0M277.4 647.2h0M237.6 646.1h0M288.8 644.2h0M230.9 654.2h0M269.5 643h0M289 642.3h0M445.5 631.3h0M428.3 648.3h0M447 646h0M445 652h0M485 656.7h0M488 656.7h0M490.5 656.5h0M403 685.7h0M509.4 687.5h0M511 691h0M513.6 697h0M480 675h0M483 675h0M486 675h0M489 675h0M492 675h0M495 675h0M498 675h0M501 675h0M504 675h0M457 702.4h0M460 702.4h0M463 702.4h0M466 702.4h0M469 702.4h0M472 702.4h0M475 702.4h0M478 702.4h0M481 702.4h0M484 702.4h0M487 702.4h0M490 702.4h0M493 702.4h0M496 702.4h0M499 702.4h0M471 683h0M474 683h0M477 683h0M480 683h0M483 683h0M486 683h0M489 683h0M441.4 703.8h0M429.4 669.6h0M414.3 697.7h0M442.7 687.5h0M431.8 696.6h0M434.7 670.6h0M450 668.7h0M446.6 666.8h0M431.6 673.2h0M458.2 693.2h0M434.5 693.6h0M455.6 683h0M443.9 689.7h0M436.3 673.6h0M458.7 686h0M448.7 679.1h0M427.9 703.6h0M445.1 695.7h0M446 679.5h0M453.3 666.7h0M413.1 697.3h0M416.8 689.9h0M454.5 668.5h0M427 685.4h0M427.6 677.8h0M451.7 691.6h0M449.9 702.5h0M457.5 700.7h0M445.1 687.3h0M435.9 668h0M435.9 688.1h0M462 668.7h0M424.9 678.8h0M431.1 668.2h0M450.2 672.7h0M428.3 684.1h0M447.9 669.1h0M441.7 688.8h0M465.8 684.3h0M454.5 697.5h0M421.6 665.5h0M413.7 681h0M411 690h0M471 700h0M475 690h0M483 690h0M488 686h0M575.8 690.7h0M587.1 687.3h0M608.1 675.3h0M617.6 688.8h0M621.5 688.8h0M625.5 688.8h0M616.5 702h0M620 699.5h0M623.2 700.8h0M642.4 690.7h0M645.8 706h0M650 706h0M656.7 704.2h0M672.9 706.5h0M683 703h0M686.5 706.5h0M689.2 706h0M689.2 688.4h0M709 706h0M714.7 706h0" stroke="#a3a000" stroke-width="11.6" stroke-linecap="round" fill="none"/>
<path d="M127 566h0M127 617h0M126.4 630h0M127.7 634h0M126.4 638h0M127.8 642h0M127 646h0M127.2 650h0M127.5 654h0M127 658h0M126.6 662h0M126.4 666h0M126.2 670h0M127.5 674h0M126.9 678h0M190.8 580h0M147.6 599h0M153 600h0M151.4 607h0M155 612h0M177.8 599h0M175 607h0M174 616.5h0M185.3 610h0M204 599h0M207.9 605h0M213.4 609h0M240.5 609h0M246.8 609h0M288.7 599.4h0M228 635h0M231 635h0M234 635h0M237 635h0M240 635h0M243 635h0M246 635h0M249 635h0M252 635h0M255 635h0M258 635h0M261 635h0M264 635h0M267 635h0M270 635h0M273 635h0M276 635h0M279 635h0M282 635h0M285 635h0M288 635h0M291 635h0M140 634h0M143 634h0M146 634h0M149 634h0M152 634h0M170 631h0M204 636h0M214 636h0M230.5 645h0M233.5 645h0M236.5 645h0M239.5 645h0M242.5 645h0M245.5 645h0M248.5 645h0M251.5 645h0M254.5 645h0M257.5 645h0M260.5 645h0M263.5 645h0M266.5 645h0M269.5 645h0M272.5 645h0M275.5 645h0M219 645h0M289.4 645h0M176.5 699h0M241.7 701h0M274.4 701h0M160 691.8h0M141 662.2h0M140.9 663.8h0M140.6 658h0M143.1 686.6h0M143.4 675h0M144.8 661.3h0M144.2 683.3h0M144.6 652.1h0M144.5 656h0M145 686.7h0M146.1 681.4h0M145.9 674.9h0M149.3 653.8h0M147.5 665.2h0M147.6 680.6h0M148 675h0M151.3 670.4h0M153 665.4h0M150.1 682.9h0M150.4 669.2h0M155.2 653.9h0M153.3 668.3h0M154.9 664h0M153.9 685.2h0M158.9 679.7h0M158.3 677.6h0M158.1 679.6h0M158.9 665.5h0M158.9 654.3h0M158.8 655.1h0M160.5 658.1h0M158.7 681.3h0M162.9 687.5h0M161.2 672.9h0M162.3 675.5h0M161.6 653.1h0M172.8 669.9h0M171.1 673.7h0M172.7 679.2h0M173.4 659.9h0M174.1 656.9h0M174.2 676.5h0M175 687.9h0M174.9 671.8h0M177.1 660.8h0M176.4 664.5h0M176.2 658h0M176.4 662h0M179.2 670.3h0M177.8 675.1h0M180.3 679.7h0M177.8 656.3h0M181.3 652h0M182.6 657.8h0M182.3 673h0M182.4 673.6h0M183.7 667.8h0M183.4 659.3h0M185.5 665.4h0M183.7 682.5h0M188.6 658.9h0M188.1 685.8h0M187 662.5h0M187.5 672.6h0M189.6 657h0M189.7 676.1h0M190.2 659.4h0M190.1 654.9h0M194.4 677.7h0M194.3 656.8h0M192.9 684.9h0M193.1 685.3h0M201.3 678.3h0M204.2 653.4h0M203.8 671.6h0M201.3 654.5h0M206.6 677.9h0M204.1 684h0M205 680.3h0M205.9 675.5h0M208.6 681h0M207 679.5h0M208.4 687.1h0M207.6 679.2h0M211.6 663.6h0M210.9 683.5h0M210.8 674.5h0M210.4 668.9h0M214.2 684.2h0M214.5 667.2h0M214.5 673.1h0M214.8 656.5h0M216.2 653.5h0M216.8 673.1h0M215.7 675h0M217.3 681h0M217.6 662.6h0M217.9 653.7h0M218.4 685h0M218.2 656.1h0M231.1 685.4h0M229.1 676.8h0M229.9 683.6h0M229.5 661.7h0M233.5 658h0M233.2 667.3h0M231.5 673.8h0M232.5 659.6h0M235.3 679.1h0M233.9 655.3h0M235.7 653.9h0M234.6 653.3h0M237.2 679h0M236.5 660.6h0M237.2 652.1h0M238.4 666.2h0M237.8 681.9h0M239.1 680.4h0M239.8 671h0M239.7 686h0M242.5 672.2h0M242.2 671h0M240.1 667.7h0M241.9 679.2h0M246.3 659.5h0M246 662.8h0M246.2 653.1h0M245.8 659.8h0M248.4 672.8h0M248.5 657.7h0M247.8 654.9h0M246.4 667.6h0M248.7 685.7h0M248 674.2h0M249.5 652.1h0M247.5 663.6h0M250.8 659.8h0M251.9 681.8h0M251.9 683.8h0M253.2 679.8h0M253.5 686.6h0M255.3 685.2h0M254.8 664.7h0M255.1 668.6h0M256.1 653.5h0M257.5 660.5h0M257.6 667h0M258.2 662.7h0M259.5 674.5h0M258.5 668.2h0M257.6 656.2h0M257.6 685.5h0M261.2 665.1h0M261.4 661.7h0M263 663.7h0M262.5 662.4h0M264.3 652.2h0M263.9 681.1h0M265.4 675.2h0M265.7 669h0M267.4 664.4h0M267.7 657.3h0M268 665.1h0M267.3 664.5h0M270.6 680.2h0M268.6 669.1h0M267.9 679.9h0M269.9 675.1h0M272 674.2h0M273.3 678.8h0M272.3 666h0M273 665.3h0M275 661.9h0M272.4 655.3h0M272.1 674.2h0M273.1 681.5h0M275.8 654.6h0M276.1 673.2h0M277.1 665.3h0M276.3 684h0M279.2 656.2h0M279.3 670.9h0M278.2 667.9h0M278.1 668.9h0M281.2 666.5h0M280.2 667.6h0M281.8 667.9h0M281.2 658.2h0M283.2 674.2h0M283.3 675.4h0M284.1 666.3h0M285.2 676.7h0M286.4 652h0M287.5 663.9h0M287.6 656.3h0M286.2 684.9h0M289.1 671.2h0M289.7 675.8h0M289.8 677.4h0M287.7 683.5h0M290.3 670.1h0M291.1 683.6h0M291.6 657.2h0M290.3 672.5h0M154.8 636.1h0M206 638.8h0M206.1 637.5h0M191.7 636.4h0M199.4 636.3h0M214.9 647.2h0M205.8 653.6h0M186.9 646.5h0M217.7 649.1h0M205.7 645.6h0M445 602.3h0M446.7 626.9h0M444 655.3h0M447 654.5h0M451 656h0M459.7 662h0M403.5 692h0M425 670.8h0M428 670.8h0M431 670.8h0M434 670.8h0M437 670.8h0M440 670.8h0M443 670.8h0M446 670.8h0M449 670.8h0M452 670.8h0M455 670.8h0M458 670.8h0M461 670.8h0M464 670.8h0M467 670.8h0M413 681h0M416 681h0M419 681h0M422 681h0M425 681h0M428 681h0M431 681h0M434 681h0M437 681h0M440 681h0M443 681h0M446 681h0M449 681h0M452 681h0M455 681h0M458 681h0M461 681h0M464 681h0M467 681h0M449.3 681.5h0M439.9 694.3h0M450.3 667.8h0M430.6 699.9h0M454.4 696.8h0M420.2 691.1h0M446.3 666.6h0M426.7 686.8h0M424.5 703.9h0M438.2 695.7h0M460.9 683.6h0M412.8 704h0M451.2 694.9h0M440 687h0M435.2 685.4h0M419.2 702.4h0M452.5 672h0M452.5 684.1h0M455.7 689.9h0M452.3 671.6h0M453.8 678.9h0M459.4 679.7h0M449.4 699h0M442.8 676.4h0M433.1 680.1h0M449.3 668.6h0M426.5 683.6h0M449.5 690.6h0M426.9 686.4h0M446.5 684.2h0M439 670.7h0M468.5 704.9h0M440.6 700.9h0M422.1 694.5h0M455 682.7h0M459.4 678h0M430.4 697h0M449.3 667.7h0M454.8 675.1h0M463.4 687.9h0M444.6 668.9h0M459.9 699.4h0M418.2 698.5h0M450.8 684.7h0M421.7 687h0M455.9 696h0M429.4 685.3h0M430.7 672.7h0" stroke="#00ffff" stroke-width="8.3" stroke-linecap="round" fill="none"/>
<path d="M86.5 656.2H755.5" stroke="#000" stroke-width="1.8" stroke-dasharray="2.8 3.2" fill="none"/>
<path d="M485.7 544.7V712.0" stroke="#000" stroke-width="1.8" stroke-dasharray="2.8 3.2" fill="none"/>
<path d="M99.6 43.3v6.3M99.6 712.0v-6.3M99.6 204.1v12.6M99.6 371.3v12.6M99.6 538.4000000000001v12.6M140.6 43.3v6.3M140.6 712.0v-6.3M140.6 204.1v12.6M140.6 371.3v12.6M140.6 538.4000000000001v12.6M181.6 43.3v12.0M181.6 712.0v-12.0M181.6 198.4v24.0M181.6 365.6v24.0M181.6 532.7v24.0M222.6 43.3v6.3M222.6 712.0v-6.3M222.6 204.1v12.6M222.6 371.3v12.6M222.6 538.4000000000001v12.6M263.6 43.3v6.3M263.6 712.0v-6.3M263.6 204.1v12.6M263.6 371.3v12.6M263.6 538.4000000000001v12.6M304.6 43.3v6.3M304.6 712.0v-6.3M304.6 204.1v12.6M304.6 371.3v12.6M304.6 538.4000000000001v12.6M345.6 43.3v6.3M345.6 712.0v-6.3M345.6 204.1v12.6M345.6 371.3v12.6M345.6 538.4000000000001v12.6M386.6 43.3v12.0M386.6 712.0v-12.0M386.6 198.4v24.0M386.6 365.6v24.0M386.6 532.7v24.0M427.6 43.3v6.3M427.6 712.0v-6.3M427.6 204.1v12.6M427.6 371.3v12.6M427.6 538.4000000000001v12.6M468.6 43.3v6.3M468.6 712.0v-6.3M468.6 204.1v12.6M468.6 371.3v12.6M468.6 538.4000000000001v12.6M509.6 43.3v6.3M509.6 712.0v-6.3M509.6 204.1v12.6M509.6 371.3v12.6M509.6 538.4000000000001v12.6M550.6 43.3v6.3M550.6 712.0v-6.3M550.6 204.1v12.6M550.6 371.3v12.6M550.6 538.4000000000001v12.6M591.6 43.3v12.0M591.6 712.0v-12.0M591.6 198.4v24.0M591.6 365.6v24.0M591.6 532.7v24.0M632.6 43.3v6.3M632.6 712.0v-6.3M632.6 204.1v12.6M632.6 371.3v12.6M632.6 538.4000000000001v12.6M673.6 43.3v6.3M673.6 712.0v-6.3M673.6 204.1v12.6M673.6 371.3v12.6M673.6 538.4000000000001v12.6M714.6 43.3v6.3M714.6 712.0v-6.3M714.6 204.1v12.6M714.6 371.3v12.6M714.6 538.4000000000001v12.6M755.6 43.3v6.3M755.6 712.0v-6.3M755.6 204.1v12.6M755.6 371.3v12.6M755.6 538.4000000000001v12.6M86.5 203.0h6.3M755.5 203.0h-6.3M86.5 195.5h6.3M755.5 195.5h-6.3M86.5 188.1h6.3M755.5 188.1h-6.3M86.5 180.7h13.0M755.5 180.7h-13.0M86.5 173.3h6.3M755.5 173.3h-6.3M86.5 165.8h6.3M755.5 165.8h-6.3M86.5 158.4h6.3M755.5 158.4h-6.3M86.5 151.0h6.3M755.5 151.0h-6.3M86.5 143.6h6.3M755.5 143.6h-13.0M86.5 136.1h6.3M755.5 136.1h-6.3M86.5 128.7h6.3M755.5 128.7h-6.3M86.5 121.3h6.3M755.5 121.3h-6.3M86.5 113.9h6.3M755.5 113.9h-6.3M86.5 106.4h13.0M755.5 106.4h-13.0M86.5 99.0h6.3M755.5 99.0h-6.3M86.5 91.6h6.3M755.5 91.6h-6.3M86.5 84.1h6.3M755.5 84.1h-6.3M86.5 76.7h6.3M755.5 76.7h-6.3M86.5 69.3h13.0M755.5 69.3h-13.0M86.5 61.9h6.3M755.5 61.9h-6.3M86.5 54.4h6.3M755.5 54.4h-6.3M86.5 47.0h6.3M755.5 47.0h-6.3M86.5 371.2h6.3M755.5 371.2h-6.3M86.5 364.7h6.3M755.5 364.7h-6.3M86.5 358.3h13.0M755.5 358.3h-13.0M86.5 351.9h6.3M755.5 351.9h-6.3M86.5 345.4h6.3M755.5 345.4h-6.3M86.5 339.0h6.3M755.5 339.0h-6.3M86.5 332.6h6.3M755.5 332.6h-6.3M86.5 326.2h13.0M755.5 326.2h-13.0M86.5 319.7h6.3M755.5 319.7h-6.3M86.5 313.3h6.3M755.5 313.3h-6.3M86.5 306.9h6.3M755.5 306.9h-6.3M86.5 300.4h6.3M755.5 300.4h-6.3M86.5 294.0h13.0M755.5 294.0h-13.0M86.5 287.6h6.3M755.5 287.6h-6.3M86.5 281.1h6.3M755.5 281.1h-6.3M86.5 274.7h6.3M755.5 274.7h-6.3M86.5 268.3h6.3M755.5 268.3h-6.3M86.5 261.8h13.0M755.5 261.8h-13.0M86.5 255.4h6.3M755.5 255.4h-6.3M86.5 249.0h6.3M755.5 249.0h-6.3M86.5 242.6h6.3M755.5 242.6h-6.3M86.5 236.1h6.3M755.5 236.1h-6.3M86.5 229.7h13.0M755.5 229.7h-13.0M86.5 223.3h6.3M755.5 223.3h-6.3M86.5 216.8h6.3M755.5 216.8h-6.3M86.5 538.3h6.3M755.5 538.3h-6.3M86.5 531.8h6.3M755.5 531.8h-6.3M86.5 525.4h13.0M755.5 525.4h-13.0M86.5 519.0h6.3M755.5 519.0h-6.3M86.5 512.6h6.3M755.5 512.6h-6.3M86.5 506.1h6.3M755.5 506.1h-6.3M86.5 499.7h6.3M755.5 499.7h-6.3M86.5 493.3h13.0M755.5 493.3h-13.0M86.5 486.9h6.3M755.5 486.9h-6.3M86.5 480.4h6.3M755.5 480.4h-6.3M86.5 474.0h6.3M755.5 474.0h-6.3M86.5 467.6h6.3M755.5 467.6h-6.3M86.5 461.2h13.0M755.5 461.2h-13.0M86.5 454.7h6.3M755.5 454.7h-6.3M86.5 448.3h6.3M755.5 448.3h-6.3M86.5 441.9h6.3M755.5 441.9h-6.3M86.5 435.4h6.3M755.5 435.4h-6.3M86.5 429.0h13.0M755.5 429.0h-13.0M86.5 422.6h6.3M755.5 422.6h-6.3M86.5 416.2h6.3M755.5 416.2h-6.3M86.5 409.7h6.3M755.5 409.7h-6.3M86.5 403.3h6.3M755.5 403.3h-6.3M86.5 396.9h13.0M755.5 396.9h-13.0M86.5 390.5h6.3M755.5 390.5h-6.3M86.5 384.0h6.3M755.5 384.0h-6.3M86.5 700.8h6.3M755.5 700.8h-6.3M86.5 689.7h6.3M755.5 689.7h-6.3M86.5 678.5h6.3M755.5 678.5h-6.3M86.5 667.4h6.3M755.5 667.4h-6.3M86.5 656.2h13.0M755.5 656.2h-13.0M86.5 645.1h6.3M755.5 645.1h-6.3M86.5 633.9h6.3M755.5 633.9h-6.3M86.5 622.8h6.3M755.5 622.8h-6.3M86.5 611.6h6.3M755.5 611.6h-6.3M86.5 600.5h13.0M755.5 600.5h-13.0M86.5 589.3h6.3M755.5 589.3h-6.3M86.5 578.2h6.3M755.5 578.2h-6.3M86.5 567.0h6.3M755.5 567.0h-6.3M86.5 555.9h6.3M755.5 555.9h-6.3" stroke="#000" stroke-width="2.5" fill="none"/>
<path d="M86.5 43.3H755.5V712.0H86.5ZM86.5 210.4H755.5M86.5 377.6H755.5M86.5 544.7H755.5" stroke="#000" stroke-width="2.7" fill="none" stroke-linejoin="round"/>
<text x="180.9" y="33.5" font-size="19.6" font-family="Liberation Sans, sans-serif" font-weight="bold" text-anchor="middle" fill="#000" textLength="47.4" lengthAdjust="spacingAndGlyphs" stroke="#000" stroke-width="0.3">2014</text>
<text x="180.9" y="736.2" font-size="19.6" font-family="Liberation Sans, sans-serif" font-weight="bold" text-anchor="middle" fill="#000" textLength="47.4" lengthAdjust="spacingAndGlyphs" stroke="#000" stroke-width="0.3">2014</text>
<text x="385.9" y="33.5" font-size="19.6" font-family="Liberation Sans, sans-serif" font-weight="bold" text-anchor="middle" fill="#000" textLength="66.0" lengthAdjust="spacingAndGlyphs" stroke="#000" stroke-width="0.3">2014.5</text>
<text x="385.9" y="736.2" font-size="19.6" font-family="Liberation Sans, sans-serif" font-weight="bold" text-anchor="middle" fill="#000" textLength="66.0" lengthAdjust="spacingAndGlyphs" stroke="#000" stroke-width="0.3">2014.5</text>
<text x="590.9" y="33.5" font-size="19.6" font-family="Liberation Sans, sans-serif" font-weight="bold" text-anchor="middle" fill="#000" textLength="47.4" lengthAdjust="spacingAndGlyphs" stroke="#000" stroke-width="0.3">2015</text>
<text x="590.9" y="736.2" font-size="19.6" font-family="Liberation Sans, sans-serif" font-weight="bold" text-anchor="middle" fill="#000" textLength="47.4" lengthAdjust="spacingAndGlyphs" stroke="#000" stroke-width="0.3">2015</text>
<text x="76.6" y="187.6" font-size="19.6" font-family="Liberation Sans, sans-serif" font-weight="bold" text-anchor="end" fill="#000" textLength="13.0" lengthAdjust="spacingAndGlyphs" stroke="#000" stroke-width="0.3">1</text>
<text x="76.6" y="150.5" font-size="19.6" font-family="Liberation Sans, sans-serif" font-weight="bold" text-anchor="end" fill="#000" textLength="13.0" lengthAdjust="spacingAndGlyphs" stroke="#000" stroke-width="0.3">2</text>
<text x="76.6" y="113.3" font-size="19.6" font-family="Liberation Sans, sans-serif" font-weight="bold" text-anchor="end" fill="#000" textLength="13.0" lengthAdjust="spacingAndGlyphs" stroke="#000" stroke-width="0.3">3</text>
<text x="76.6" y="76.2" font-size="19.6" font-family="Liberation Sans, sans-serif" font-weight="bold" text-anchor="end" fill="#000" textLength="13.0" lengthAdjust="spacingAndGlyphs" stroke="#000" stroke-width="0.3">4</text>
<text x="76.6" y="365.2" font-size="19.6" font-family="Liberation Sans, sans-serif" font-weight="bold" text-anchor="end" fill="#000" textLength="26.0" lengthAdjust="spacingAndGlyphs" stroke="#000" stroke-width="0.3">−2</text>
<text x="76.6" y="333.1" font-size="19.6" font-family="Liberation Sans, sans-serif" font-weight="bold" text-anchor="end" fill="#000" textLength="26.0" lengthAdjust="spacingAndGlyphs" stroke="#000" stroke-width="0.3">−1</text>
<text x="76.6" y="300.9" font-size="19.6" font-family="Liberation Sans, sans-serif" font-weight="bold" text-anchor="end" fill="#000" textLength="13.0" lengthAdjust="spacingAndGlyphs" stroke="#000" stroke-width="0.3">0</text>
<text x="76.6" y="268.7" font-size="19.6" font-family="Liberation Sans, sans-serif" font-weight="bold" text-anchor="end" fill="#000" textLength="13.0" lengthAdjust="spacingAndGlyphs" stroke="#000" stroke-width="0.3">1</text>
<text x="76.6" y="236.6" font-size="19.6" font-family="Liberation Sans, sans-serif" font-weight="bold" text-anchor="end" fill="#000" textLength="13.0" lengthAdjust="spacingAndGlyphs" stroke="#000" stroke-width="0.3">2</text>
<text x="76.6" y="532.3" font-size="19.6" font-family="Liberation Sans, sans-serif" font-weight="bold" text-anchor="end" fill="#000" textLength="26.0" lengthAdjust="spacingAndGlyphs" stroke="#000" stroke-width="0.3">−2</text>
<text x="76.6" y="500.2" font-size="19.6" font-family="Liberation Sans, sans-serif" font-weight="bold" text-anchor="end" fill="#000" textLength="26.0" lengthAdjust="spacingAndGlyphs" stroke="#000" stroke-width="0.3">−1</text>
<text x="76.6" y="468.1" font-size="19.6" font-family="Liberation Sans, sans-serif" font-weight="bold" text-anchor="end" fill="#000" textLength="13.0" lengthAdjust="spacingAndGlyphs" stroke="#000" stroke-width="0.3">0</text>
<text x="76.6" y="435.9" font-size="19.6" font-family="Liberation Sans, sans-serif" font-weight="bold" text-anchor="end" fill="#000" textLength="13.0" lengthAdjust="spacingAndGlyphs" stroke="#000" stroke-width="0.3">1</text>
<text x="76.6" y="403.8" font-size="19.6" font-family="Liberation Sans, sans-serif" font-weight="bold" text-anchor="end" fill="#000" textLength="13.0" lengthAdjust="spacingAndGlyphs" stroke="#000" stroke-width="0.3">2</text>
<text x="76.6" y="663.1" font-size="19.6" font-family="Liberation Sans, sans-serif" font-weight="bold" text-anchor="end" fill="#000" textLength="13.0" lengthAdjust="spacingAndGlyphs" stroke="#000" stroke-width="0.3">1</text>
<text x="76.6" y="607.4" font-size="19.6" font-family="Liberation Sans, sans-serif" font-weight="bold" text-anchor="end" fill="#000" textLength="13.0" lengthAdjust="spacingAndGlyphs" stroke="#000" stroke-width="0.3">2</text>
<text x="49.6" y="126.8" font-size="21" font-family="Liberation Sans, sans-serif" font-weight="bold" text-anchor="middle" fill="#000" textLength="134.6" lengthAdjust="spacingAndGlyphs" transform="rotate(-90 49.6 126.8)" stroke="#000" stroke-width="0.3">distance [au]</text>
<text x="34.3" y="294.0" font-size="21" font-family="Liberation Sans, sans-serif" font-weight="bold" text-anchor="middle" fill="#000" textLength="132" lengthAdjust="spacingAndGlyphs" transform="rotate(-90 34.3 294.0)" stroke="#000" stroke-width="0.3">O−C [arcsec]</text>
<text x="34.3" y="461.2" font-size="21" font-family="Liberation Sans, sans-serif" font-weight="bold" text-anchor="middle" fill="#000" textLength="132" lengthAdjust="spacingAndGlyphs" transform="rotate(-90 34.3 461.2)" stroke="#000" stroke-width="0.3">O−C [arcsec]</text>
<text x="50.8" y="627.5" font-size="21" font-family="Liberation Sans, sans-serif" font-weight="bold" text-anchor="middle" fill="#000" textLength="74.6" lengthAdjust="spacingAndGlyphs" transform="rotate(-90 50.8 627.5)" stroke="#000" stroke-width="0.3">weights</text>
<text y="761.2" font-size="20.200000000000003" font-family="Liberation Sans, sans-serif" font-weight="bold" fill="#000"><tspan x="360.2">D</tspan> <tspan x="384.3">a</tspan> <tspan x="405.6">t</tspan> <tspan x="423">e</tspan> <tspan x="444.4" textLength="37.6" lengthAdjust="spacingAndGlyphs">[yr]</tspan></text>
<text y="122.1" font-size="18.6" font-family="DejaVu Serif, Liberation Serif, serif" stroke="#000" stroke-width="1.2" fill="#000"><tspan x="98.9" textLength="41.5" lengthAdjust="spacingAndGlyphs">0.83</tspan> <tspan x="150.6" textLength="20.4" lengthAdjust="spacingAndGlyphs">yr</tspan></text>
<text y="143.7" font-size="18.6" font-family="DejaVu Serif, Liberation Serif, serif" stroke="#000" stroke-width="1.2" fill="#000"><tspan x="100.8" textLength="44.7" lengthAdjust="spacingAndGlyphs">1261</tspan> <tspan x="154.6" textLength="41.1" lengthAdjust="spacingAndGlyphs">obs.</tspan></text>
<text y="160.7" font-size="18.6" font-family="DejaVu Serif, Liberation Serif, serif" stroke="#000" stroke-width="1.2" fill="#000"><tspan x="100.8" textLength="22.0" lengthAdjust="spacingAndGlyphs">1a</tspan> <tspan x="133.5" textLength="41.6" lengthAdjust="spacingAndGlyphs">(GR)</tspan></text>
<text y="74" font-size="18.6" font-family="DejaVu Serif, Liberation Serif, serif" stroke="#000" stroke-width="1.2" fill="#000"><tspan x="470.3" textLength="38.3" lengthAdjust="spacingAndGlyphs">1.43</tspan> <tspan x="519.0" textLength="21.2" lengthAdjust="spacingAndGlyphs">yr</tspan></text>
<text y="94.5" font-size="18.6" font-family="DejaVu Serif, Liberation Serif, serif" stroke="#000" stroke-width="1.2" fill="#000"><tspan x="470.3" textLength="44.8" lengthAdjust="spacingAndGlyphs">1599</tspan> <tspan x="524.2" textLength="39.5" lengthAdjust="spacingAndGlyphs">obs.</tspan></text>
<text y="112.6" font-size="18.6" font-family="DejaVu Serif, Liberation Serif, serif" stroke="#000" stroke-width="1.2" fill="#000"><tspan x="470.3" textLength="64.1" lengthAdjust="spacingAndGlyphs">1a(GR)</tspan></text>
<text y="187.4" font-size="18.6" font-family="DejaVu Serif, Liberation Serif, serif" stroke="#000" stroke-width="1.2" fill="#000"><tspan x="115.1" textLength="73.4" lengthAdjust="spacingAndGlyphs">C/2013</tspan> <tspan x="197.7" textLength="22.5" lengthAdjust="spacingAndGlyphs">V5</tspan> <tspan x="231.1" textLength="133.8" lengthAdjust="spacingAndGlyphs">Quakaimeden</tspan></text>
<text y="367.0" font-size="18.6" font-family="DejaVu Serif, Liberation Serif, serif" stroke="#000" stroke-width="1.2" fill="#000"><tspan x="88.1" textLength="75.1" lengthAdjust="spacingAndGlyphs">C/2013</tspan> <tspan x="174.2" textLength="23.1" lengthAdjust="spacingAndGlyphs">V5</tspan> <tspan x="207.0" textLength="134.2" lengthAdjust="spacingAndGlyphs">Quakaimeden</tspan> <tspan x="352.3" textLength="40.1" lengthAdjust="spacingAndGlyphs">(GR,</tspan> <tspan x="402.1" textLength="44.6" lengthAdjust="spacingAndGlyphs">PRE,</tspan> <tspan x="456.0" textLength="28.2" lengthAdjust="spacingAndGlyphs">pa;</tspan> <tspan x="494.0" textLength="96.7" lengthAdjust="spacingAndGlyphs">weighted)</tspan></text>
<text y="533.8" font-size="18.6" font-family="DejaVu Serif, Liberation Serif, serif" stroke="#000" stroke-width="1.2" fill="#000"><tspan x="146.5" textLength="73.5" lengthAdjust="spacingAndGlyphs">C/2013</tspan> <tspan x="230.0" textLength="22.6" lengthAdjust="spacingAndGlyphs">V5</tspan> <tspan x="261.6" textLength="132.6" lengthAdjust="spacingAndGlyphs">Quakaimeden</tspan> <tspan x="405.5" textLength="41.4" lengthAdjust="spacingAndGlyphs">(GR,</tspan> <tspan x="456.6" textLength="27.6" lengthAdjust="spacingAndGlyphs">a5;</tspan> <tspan x="494.9" textLength="96.1" lengthAdjust="spacingAndGlyphs">weighted)</tspan></text>
<text y="574.1" font-size="20" font-family="DejaVu Serif, Liberation Serif, serif" stroke="#a3a000" stroke-width="0.4" fill="#a3a000"><tspan x="546.9" textLength="28.7" lengthAdjust="spacingAndGlyphs">GR</tspan> <tspan x="586.4" textLength="24.6" lengthAdjust="spacingAndGlyphs">a5</tspan></text>
<text y="594.6" font-size="20" font-family="DejaVu Serif, Liberation Serif, serif" stroke="#00ffff" stroke-width="0.4" fill="#00ffff"><tspan x="546.6" textLength="29.0" lengthAdjust="spacingAndGlyphs">GR</tspan> <tspan x="585.5" textLength="25.5" lengthAdjust="spacingAndGlyphs">pa</tspan></text>
</svg>
</body></html>
